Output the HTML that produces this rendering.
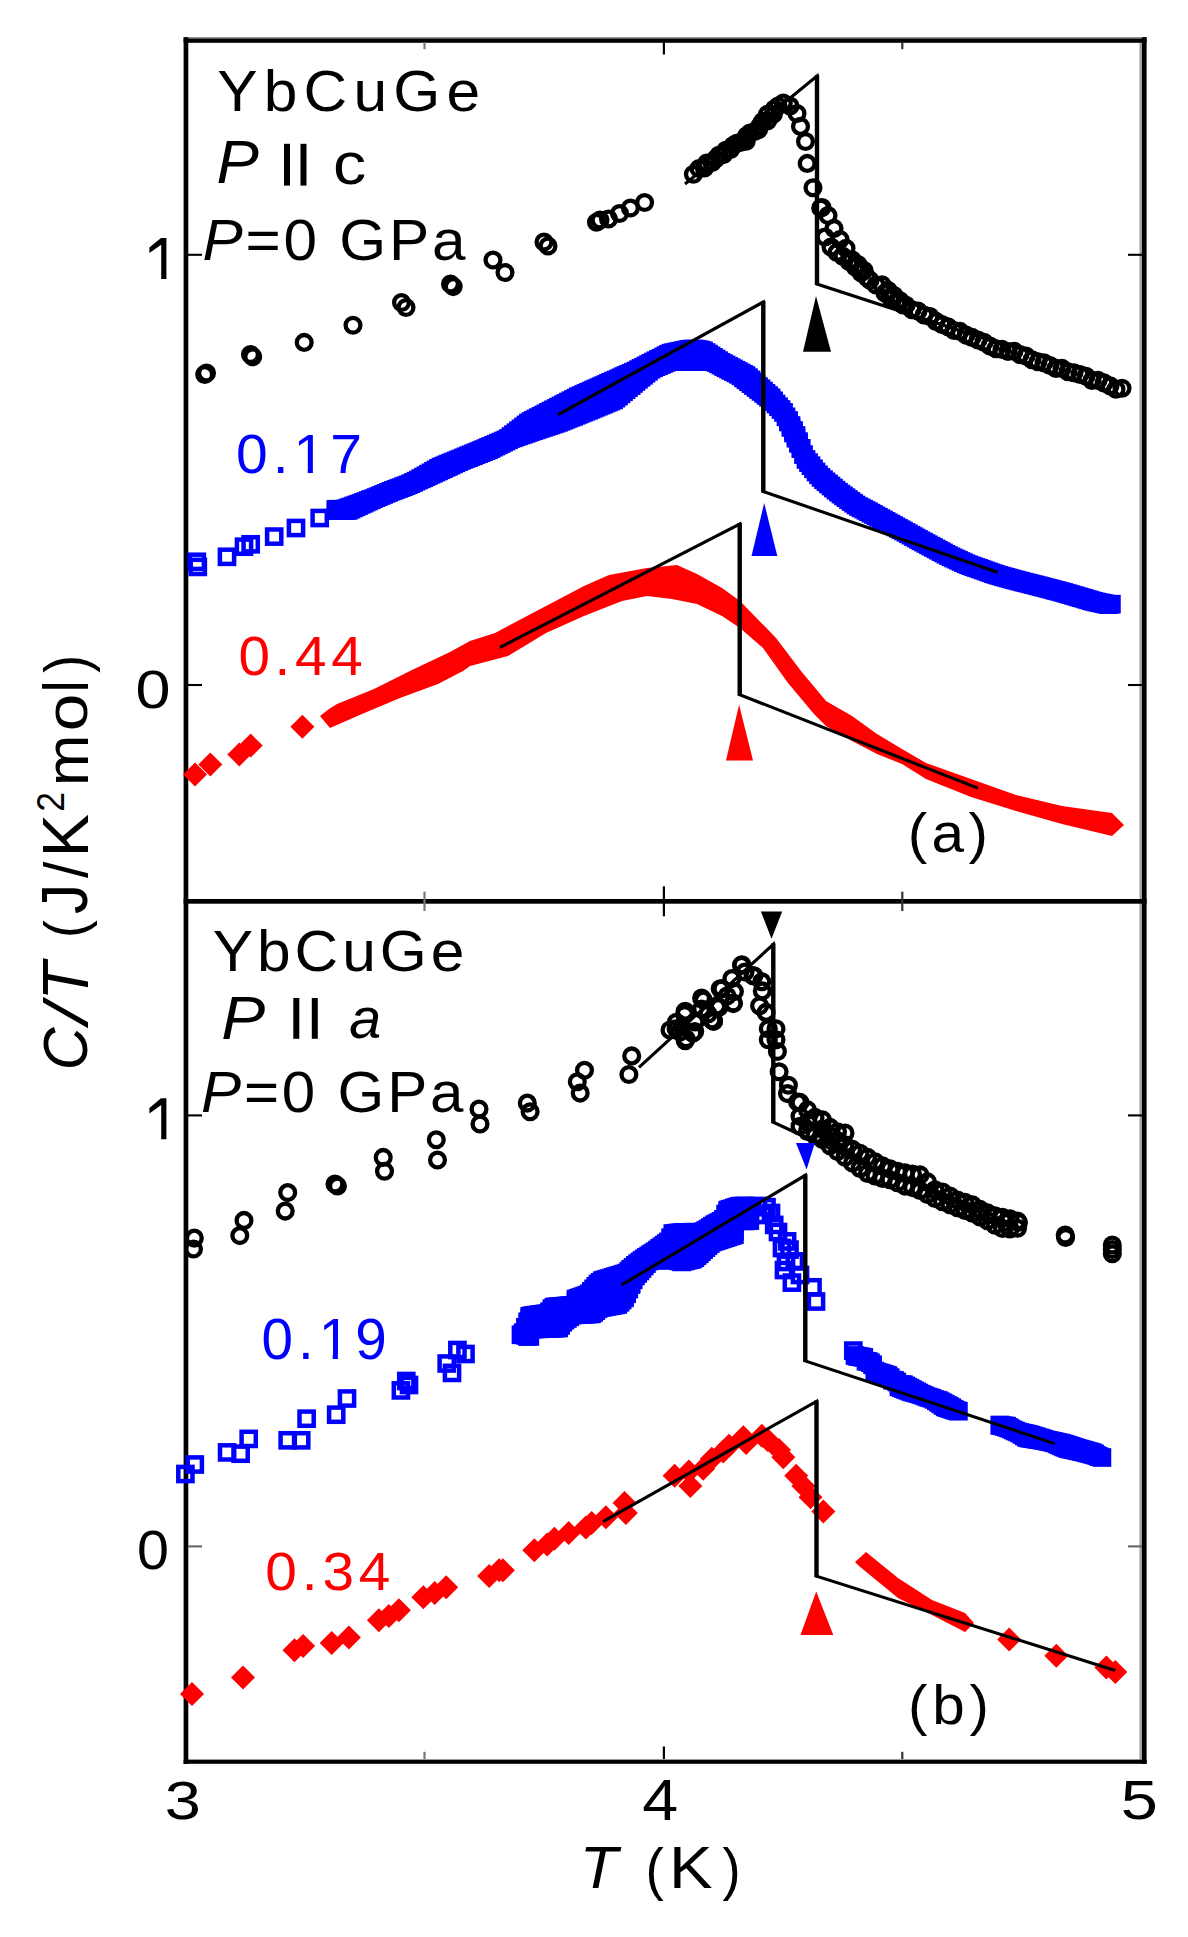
<!DOCTYPE html>
<html><head><meta charset="utf-8"><style>
html,body{margin:0;padding:0;background:#fff;}
svg{display:block;}
text{font-family:"Liberation Sans",sans-serif;}
</style></head><body>
<svg width="1188" height="1937" viewBox="0 0 1188 1937">
<rect x="1139.5" y="42.8" width="2.6" height="1716.8" fill="#a0a0a0"/>
<rect x="183.6" y="37.2" width="963" height="1.5" fill="#777"/>
<rect x="183.6" y="38.6" width="963" height="4.2" fill="#000"/>
<rect x="183.6" y="37.2" width="4.7" height="1726.6" fill="#000"/>
<rect x="1142" y="37.2" width="4.6" height="1726.6" fill="#000"/>
<rect x="183.6" y="1759.6" width="963" height="4.2" fill="#000"/>
<rect x="183.6" y="899" width="963" height="4.7" fill="#000"/>
<line x1="424.5" y1="42" x2="424.5" y2="49.2" stroke="#777" stroke-width="2.2"/>
<line x1="424.5" y1="891.5999999999999" x2="424.5" y2="911.0" stroke="#777" stroke-width="2.2"/>
<line x1="424.5" y1="1751.8" x2="424.5" y2="1759" stroke="#777" stroke-width="2.2"/>
<line x1="663.9" y1="42" x2="663.9" y2="54.5" stroke="#000" stroke-width="2.2"/>
<line x1="663.9" y1="886.3" x2="663.9" y2="916.3" stroke="#000" stroke-width="2.2"/>
<line x1="663.9" y1="1746.5" x2="663.9" y2="1759" stroke="#000" stroke-width="2.2"/>
<line x1="902.3" y1="42" x2="902.3" y2="49.2" stroke="#333" stroke-width="2.2"/>
<line x1="902.3" y1="891.5999999999999" x2="902.3" y2="911.0" stroke="#333" stroke-width="2.2"/>
<line x1="902.3" y1="1751.8" x2="902.3" y2="1759" stroke="#333" stroke-width="2.2"/>
<line x1="188" y1="254.8" x2="202" y2="254.8" stroke="#000" stroke-width="2.1"/>
<line x1="1128" y1="254.8" x2="1142" y2="254.8" stroke="#000" stroke-width="2.1"/>
<line x1="188" y1="685" x2="202" y2="685" stroke="#000" stroke-width="2.1"/>
<line x1="1128" y1="685" x2="1142" y2="685" stroke="#000" stroke-width="2.1"/>
<line x1="188" y1="1115.4" x2="202" y2="1115.4" stroke="#000" stroke-width="2.1"/>
<line x1="1128" y1="1115.4" x2="1142" y2="1115.4" stroke="#000" stroke-width="2.1"/>
<line x1="188" y1="1546.4" x2="202" y2="1546.4" stroke="#666" stroke-width="2.1"/>
<line x1="1128" y1="1546.4" x2="1142" y2="1546.4" stroke="#666" stroke-width="2.1"/>
<text transform="translate(217.19,110.53) scale(1.0432,0.9744)" style="font-size:58px;fill:#000;letter-spacing:5.923px">YbCuGe</text>
<text transform="translate(216.41,183.2) scale(1.0944,1.045)" style="font-size:58px;fill:#000"><tspan style="font-style:italic">P</tspan></text>
<text transform="translate(332.91,184.09) scale(1.144,1.0062)" style="font-size:58px;fill:#000">c</text>
<text transform="translate(202.4,259.53) scale(1.0396,0.9738)" style="font-size:58px;fill:#000;letter-spacing:2.708px"><tspan style="font-style:italic">P</tspan>=0 GPa</text>
<text transform="translate(212.8,970.53) scale(1.0425,0.9744)" style="font-size:58px;fill:#000;letter-spacing:3.769px">YbCuGe</text>
<text transform="translate(221.33,1038.8) scale(1.1361,1.0425)" style="font-size:58px;fill:#000"><tspan style="font-style:italic">P</tspan></text>
<text transform="translate(349.21,1038.0) scale(0.9897,1.0)" style="font-size:58px;fill:#000"><tspan style="font-style:italic">a</tspan></text>
<text transform="translate(201.01,1111.5) scale(1.036,1.0)" style="font-size:58px;fill:#000;letter-spacing:2.724px"><tspan style="font-style:italic">P</tspan>=0 GPa</text>
<text transform="translate(235.9,472.53) scale(1.0008,0.969)" style="font-size:57px;fill:#00f;letter-spacing:5.033px">0.17</text>
<text transform="translate(238.41,675.33) scale(0.9934,0.9667)" style="font-size:57px;fill:#f00;letter-spacing:4.733px">0.44</text>
<text transform="translate(261.51,1358.7) scale(0.9934,1.0)" style="font-size:57px;fill:#00f;letter-spacing:5.067px">0.19</text>
<text transform="translate(265.31,1589.57) scale(0.9967,0.9262)" style="font-size:57px;fill:#f00;letter-spacing:4.867px">0.34</text>
<text transform="translate(907.82,852.03) scale(1.0258,0.9889)" style="font-size:57px;fill:#000;letter-spacing:4.223px">(a)</text>
<text transform="translate(908.02,1723.52) scale(1.0244,0.9815)" style="font-size:57px;fill:#000;letter-spacing:4.66px">(b)</text>
<text transform="translate(135.59,707.87) scale(1.1036,0.931)" style="font-size:57px;fill:#000">0</text>
<text transform="translate(136.89,1568.53) scale(1.0071,0.969)" style="font-size:57px;fill:#000">0</text>
<text transform="translate(164.72,1819.26) scale(1.1407,0.9381)" style="font-size:57px;fill:#000">3</text>
<text transform="translate(642.17,1820.2) scale(1.1345,1.005)" style="font-size:57px;fill:#000">4</text>
<text transform="translate(1120.66,1819.24) scale(1.1704,0.961)" style="font-size:57px;fill:#000">5</text>
<text transform="translate(579.75,1887.6) scale(1.0909,1.04)" style="font-size:57px;fill:#000"><tspan style="font-style:italic">T</tspan></text>
<text transform="translate(645.52,1888.93) scale(0.96,1.0222)" style="font-size:57px;fill:#000">(</text>
<text transform="translate(669.07,1887.6) scale(1.1469,1.04)" style="font-size:57px;fill:#000">K</text>
<text transform="translate(722.54,1888.93) scale(0.96,1.0222)" style="font-size:57px;fill:#000">)</text>
<text transform="translate(87.28,1070.18) rotate(-90) scale(0.9595,1.025)" style="font-size:62px;fill:#000"><tspan style="font-style:italic">C</tspan></text>
<text transform="translate(86.82,1023.96) rotate(-90) scale(1.212,0.9778)" style="font-size:62px;fill:#000"><tspan style="font-style:italic">/</tspan></text>
<text transform="translate(88.2,1000.35) rotate(-90) scale(1.0083,1.0583)" style="font-size:62px;fill:#000"><tspan style="font-style:italic">T</tspan></text>
<text transform="translate(84.82,937.98) rotate(-90) scale(0.8687,0.9368)" style="font-size:62px;fill:#000">(</text>
<text transform="translate(87.16,913.97) rotate(-90) scale(0.9731,1.0372)" style="font-size:62px;fill:#000">J</text>
<text transform="translate(86.82,878.1) rotate(-90) scale(0.9471,0.9822)" style="font-size:62px;fill:#000">/</text>
<text transform="translate(87.8,857.23) rotate(-90) scale(1.0457,1.0524)" style="font-size:62px;fill:#000">K</text>
<text transform="translate(63.8,811.68) rotate(-90) scale(0.8889,0.9786)" style="font-size:40px;fill:#000">2</text>
<text transform="translate(88.0,785.97) rotate(-90) scale(0.9932,0.9939)" style="font-size:62px;fill:#000">m</text>
<text transform="translate(86.55,731.28) rotate(-90) scale(1.0931,0.95)" style="font-size:62px;fill:#000">o</text>
<text transform="translate(88.2,692.3) rotate(-90) scale(0.85,1.0205)" style="font-size:62px;fill:#000">l</text>
<text transform="translate(86.68,672.86) rotate(-90) scale(0.8625,0.986)" style="font-size:62px;fill:#000">)</text>
<polygon points="149.4,247.5 161,237.9 166.4,237.9 166.4,278.9 161.2,278.9 161.2,244.7 149.4,253.1" fill="#000"/>
<polygon points="149.4,1107.9 161,1098.3 166.4,1098.3 166.4,1139.3 161.2,1139.3 161.2,1105.1 149.4,1113.5" fill="#000"/>
<rect x="296.5" y="467.6" width="11.2" height="6.4" fill="#fff"/>
<rect x="312.9" y="467.6" width="10.1" height="6.4" fill="#fff"/>
<rect x="321.5" y="1353.6" width="11.2" height="6.4" fill="#fff"/>
<rect x="337.9" y="1353.6" width="10.6" height="6.4" fill="#fff"/>
<rect x="284" y="143.8" width="6.0" height="41.8" fill="#000"/>
<rect x="300.5" y="143.8" width="6.0" height="41.8" fill="#000"/>
<rect x="293.3" y="998" width="6.0" height="40.8" fill="#000"/>
<rect x="311.8" y="998" width="6.0" height="40.8" fill="#000"/>
<circle cx="204.7" cy="374.4" r="7.4" fill="none" stroke="#000" stroke-width="4.3"/>
<circle cx="206.5" cy="373.0" r="7.4" fill="none" stroke="#000" stroke-width="4.3"/>
<circle cx="252.7" cy="356.8" r="7.4" fill="none" stroke="#000" stroke-width="4.3"/>
<circle cx="250.5" cy="354.5" r="7.4" fill="none" stroke="#000" stroke-width="4.3"/>
<circle cx="304.2" cy="342.4" r="7.4" fill="none" stroke="#000" stroke-width="4.3"/>
<circle cx="353.0" cy="325.2" r="7.4" fill="none" stroke="#000" stroke-width="4.3"/>
<circle cx="401.5" cy="302.5" r="7.4" fill="none" stroke="#000" stroke-width="4.3"/>
<circle cx="406.0" cy="307.5" r="7.4" fill="none" stroke="#000" stroke-width="4.3"/>
<circle cx="453.2" cy="286.6" r="7.4" fill="none" stroke="#000" stroke-width="4.3"/>
<circle cx="450.5" cy="284.0" r="7.4" fill="none" stroke="#000" stroke-width="4.3"/>
<circle cx="493.0" cy="260.0" r="7.4" fill="none" stroke="#000" stroke-width="4.3"/>
<circle cx="505.0" cy="272.5" r="7.4" fill="none" stroke="#000" stroke-width="4.3"/>
<circle cx="544.0" cy="242.0" r="7.4" fill="none" stroke="#000" stroke-width="4.3"/>
<circle cx="548.0" cy="246.0" r="7.4" fill="none" stroke="#000" stroke-width="4.3"/>
<circle cx="596.5" cy="222.2" r="7.4" fill="none" stroke="#000" stroke-width="4.3"/>
<circle cx="600.0" cy="220.0" r="7.4" fill="none" stroke="#000" stroke-width="4.3"/>
<circle cx="608.5" cy="219.0" r="7.4" fill="none" stroke="#000" stroke-width="4.3"/>
<circle cx="619.5" cy="213.5" r="7.4" fill="none" stroke="#000" stroke-width="4.3"/>
<circle cx="630.4" cy="208.0" r="7.4" fill="none" stroke="#000" stroke-width="4.3"/>
<circle cx="644.6" cy="202.5" r="7.4" fill="none" stroke="#000" stroke-width="4.3"/>
<circle cx="693.4" cy="174.3" r="7.4" fill="none" stroke="#000" stroke-width="4.3"/>
<circle cx="699.0" cy="168.5" r="7.4" fill="none" stroke="#000" stroke-width="4.3"/>
<circle cx="704.4" cy="168.0" r="7.4" fill="none" stroke="#000" stroke-width="4.3"/>
<circle cx="706.8" cy="163.0" r="7.4" fill="none" stroke="#000" stroke-width="4.3"/>
<circle cx="712.1" cy="162.4" r="7.4" fill="none" stroke="#000" stroke-width="4.3"/>
<circle cx="715.6" cy="159.0" r="7.4" fill="none" stroke="#000" stroke-width="4.3"/>
<circle cx="718.8" cy="155.2" r="7.4" fill="none" stroke="#000" stroke-width="4.3"/>
<circle cx="723.6" cy="154.6" r="7.4" fill="none" stroke="#000" stroke-width="4.3"/>
<circle cx="725.8" cy="150.2" r="7.4" fill="none" stroke="#000" stroke-width="4.3"/>
<circle cx="730.5" cy="149.4" r="7.4" fill="none" stroke="#000" stroke-width="4.3"/>
<circle cx="733.1" cy="145.5" r="7.4" fill="none" stroke="#000" stroke-width="4.3"/>
<circle cx="736.7" cy="143.2" r="7.4" fill="none" stroke="#000" stroke-width="4.3"/>
<circle cx="741.2" cy="142.1" r="7.4" fill="none" stroke="#000" stroke-width="4.3"/>
<circle cx="746.2" cy="141.2" r="7.4" fill="none" stroke="#000" stroke-width="4.3"/>
<circle cx="746.7" cy="135.7" r="7.4" fill="none" stroke="#000" stroke-width="4.3"/>
<circle cx="750.0" cy="133.0" r="7.4" fill="none" stroke="#000" stroke-width="4.3"/>
<circle cx="754.5" cy="131.5" r="7.4" fill="none" stroke="#000" stroke-width="4.3"/>
<circle cx="758.6" cy="129.6" r="7.4" fill="none" stroke="#000" stroke-width="4.3"/>
<circle cx="760.3" cy="125.3" r="7.4" fill="none" stroke="#000" stroke-width="4.3"/>
<circle cx="762.6" cy="121.6" r="7.4" fill="none" stroke="#000" stroke-width="4.3"/>
<circle cx="767.7" cy="120.7" r="7.4" fill="none" stroke="#000" stroke-width="4.3"/>
<circle cx="767.4" cy="114.4" r="7.4" fill="none" stroke="#000" stroke-width="4.3"/>
<circle cx="773.3" cy="114.3" r="7.4" fill="none" stroke="#000" stroke-width="4.3"/>
<circle cx="774.4" cy="109.1" r="7.4" fill="none" stroke="#000" stroke-width="4.3"/>
<circle cx="778.1" cy="106.0" r="7.4" fill="none" stroke="#000" stroke-width="4.3"/>
<circle cx="783.3" cy="103.1" r="7.4" fill="none" stroke="#000" stroke-width="4.3"/>
<circle cx="790.0" cy="106.0" r="7.4" fill="none" stroke="#000" stroke-width="4.3"/>
<circle cx="797.0" cy="113.5" r="7.4" fill="none" stroke="#000" stroke-width="4.3"/>
<circle cx="800.5" cy="126.4" r="7.4" fill="none" stroke="#000" stroke-width="4.3"/>
<circle cx="805.5" cy="141.5" r="7.4" fill="none" stroke="#000" stroke-width="4.3"/>
<circle cx="807.2" cy="163.4" r="7.4" fill="none" stroke="#000" stroke-width="4.3"/>
<circle cx="813.0" cy="187.8" r="7.4" fill="none" stroke="#000" stroke-width="4.3"/>
<circle cx="820.7" cy="208.0" r="7.4" fill="none" stroke="#000" stroke-width="4.3"/>
<circle cx="822.0" cy="207.5" r="7.4" fill="none" stroke="#000" stroke-width="4.3"/>
<circle cx="825.0" cy="237.0" r="7.4" fill="none" stroke="#000" stroke-width="4.3"/>
<circle cx="828.0" cy="215.6" r="7.4" fill="none" stroke="#000" stroke-width="4.3"/>
<circle cx="831.0" cy="247.0" r="7.4" fill="none" stroke="#000" stroke-width="4.3"/>
<circle cx="834.0" cy="228.4" r="7.4" fill="none" stroke="#000" stroke-width="4.3"/>
<circle cx="837.0" cy="252.6" r="7.4" fill="none" stroke="#000" stroke-width="4.3"/>
<circle cx="840.0" cy="239.5" r="7.4" fill="none" stroke="#000" stroke-width="4.3"/>
<circle cx="843.0" cy="256.4" r="7.4" fill="none" stroke="#000" stroke-width="4.3"/>
<circle cx="846.0" cy="248.3" r="7.4" fill="none" stroke="#000" stroke-width="4.3"/>
<circle cx="849.0" cy="261.4" r="7.4" fill="none" stroke="#000" stroke-width="4.3"/>
<circle cx="852.0" cy="259.8" r="7.4" fill="none" stroke="#000" stroke-width="4.3"/>
<circle cx="855.0" cy="266.7" r="7.4" fill="none" stroke="#000" stroke-width="4.3"/>
<circle cx="858.0" cy="264.6" r="7.4" fill="none" stroke="#000" stroke-width="4.3"/>
<circle cx="861.0" cy="272.7" r="7.4" fill="none" stroke="#000" stroke-width="4.3"/>
<circle cx="864.0" cy="270.6" r="7.4" fill="none" stroke="#000" stroke-width="4.3"/>
<circle cx="867.0" cy="277.4" r="7.4" fill="none" stroke="#000" stroke-width="4.3"/>
<circle cx="870.0" cy="280.2" r="7.4" fill="none" stroke="#000" stroke-width="4.3"/>
<circle cx="876.0" cy="285.0" r="7.4" fill="none" stroke="#000" stroke-width="4.3"/>
<circle cx="882.0" cy="284.7" r="7.4" fill="none" stroke="#000" stroke-width="4.3"/>
<circle cx="885.0" cy="293.1" r="7.4" fill="none" stroke="#000" stroke-width="4.3"/>
<circle cx="888.0" cy="290.3" r="7.4" fill="none" stroke="#000" stroke-width="4.3"/>
<circle cx="891.0" cy="298.7" r="7.4" fill="none" stroke="#000" stroke-width="4.3"/>
<circle cx="894.0" cy="295.6" r="7.4" fill="none" stroke="#000" stroke-width="4.3"/>
<circle cx="897.0" cy="301.6" r="7.4" fill="none" stroke="#000" stroke-width="4.3"/>
<circle cx="900.0" cy="300.8" r="7.4" fill="none" stroke="#000" stroke-width="4.3"/>
<circle cx="903.0" cy="304.9" r="7.4" fill="none" stroke="#000" stroke-width="4.3"/>
<circle cx="906.0" cy="305.3" r="7.4" fill="none" stroke="#000" stroke-width="4.3"/>
<circle cx="912.0" cy="309.8" r="7.4" fill="none" stroke="#000" stroke-width="4.3"/>
<circle cx="918.0" cy="311.1" r="7.4" fill="none" stroke="#000" stroke-width="4.3"/>
<circle cx="924.0" cy="315.0" r="7.4" fill="none" stroke="#000" stroke-width="4.3"/>
<circle cx="930.0" cy="316.6" r="7.4" fill="none" stroke="#000" stroke-width="4.3"/>
<circle cx="936.0" cy="321.4" r="7.4" fill="none" stroke="#000" stroke-width="4.3"/>
<circle cx="942.0" cy="324.5" r="7.4" fill="none" stroke="#000" stroke-width="4.3"/>
<circle cx="948.0" cy="326.8" r="7.4" fill="none" stroke="#000" stroke-width="4.3"/>
<circle cx="954.0" cy="330.5" r="7.4" fill="none" stroke="#000" stroke-width="4.3"/>
<circle cx="960.0" cy="331.4" r="7.4" fill="none" stroke="#000" stroke-width="4.3"/>
<circle cx="966.0" cy="335.1" r="7.4" fill="none" stroke="#000" stroke-width="4.3"/>
<circle cx="972.0" cy="337.4" r="7.4" fill="none" stroke="#000" stroke-width="4.3"/>
<circle cx="978.0" cy="340.0" r="7.4" fill="none" stroke="#000" stroke-width="4.3"/>
<circle cx="984.0" cy="342.2" r="7.4" fill="none" stroke="#000" stroke-width="4.3"/>
<circle cx="990.0" cy="346.0" r="7.4" fill="none" stroke="#000" stroke-width="4.3"/>
<circle cx="996.0" cy="348.8" r="7.4" fill="none" stroke="#000" stroke-width="4.3"/>
<circle cx="1002.0" cy="349.4" r="7.4" fill="none" stroke="#000" stroke-width="4.3"/>
<circle cx="1008.0" cy="351.5" r="7.4" fill="none" stroke="#000" stroke-width="4.3"/>
<circle cx="1014.0" cy="351.2" r="7.4" fill="none" stroke="#000" stroke-width="4.3"/>
<circle cx="1020.0" cy="354.6" r="7.4" fill="none" stroke="#000" stroke-width="4.3"/>
<circle cx="1026.0" cy="356.1" r="7.4" fill="none" stroke="#000" stroke-width="4.3"/>
<circle cx="1032.0" cy="359.7" r="7.4" fill="none" stroke="#000" stroke-width="4.3"/>
<circle cx="1038.0" cy="361.7" r="7.4" fill="none" stroke="#000" stroke-width="4.3"/>
<circle cx="1044.0" cy="362.7" r="7.4" fill="none" stroke="#000" stroke-width="4.3"/>
<circle cx="1050.0" cy="365.5" r="7.4" fill="none" stroke="#000" stroke-width="4.3"/>
<circle cx="1056.0" cy="368.4" r="7.4" fill="none" stroke="#000" stroke-width="4.3"/>
<circle cx="1062.0" cy="368.4" r="7.4" fill="none" stroke="#000" stroke-width="4.3"/>
<circle cx="1068.0" cy="371.7" r="7.4" fill="none" stroke="#000" stroke-width="4.3"/>
<circle cx="1074.0" cy="372.7" r="7.4" fill="none" stroke="#000" stroke-width="4.3"/>
<circle cx="1080.0" cy="374.5" r="7.4" fill="none" stroke="#000" stroke-width="4.3"/>
<circle cx="1086.0" cy="376.3" r="7.4" fill="none" stroke="#000" stroke-width="4.3"/>
<circle cx="1092.0" cy="380.4" r="7.4" fill="none" stroke="#000" stroke-width="4.3"/>
<circle cx="1098.0" cy="380.4" r="7.4" fill="none" stroke="#000" stroke-width="4.3"/>
<circle cx="1104.0" cy="382.9" r="7.4" fill="none" stroke="#000" stroke-width="4.3"/>
<circle cx="1110.0" cy="385.7" r="7.4" fill="none" stroke="#000" stroke-width="4.3"/>
<circle cx="1116.0" cy="389.2" r="7.4" fill="none" stroke="#000" stroke-width="4.3"/>
<circle cx="1122.0" cy="388.2" r="7.4" fill="none" stroke="#000" stroke-width="4.3"/>
<rect x="190.7" y="559.8" width="14.2" height="14.2" fill="none" stroke="#00f" stroke-width="4.5"/>
<rect x="189.7" y="554.7" width="14.2" height="14.2" fill="none" stroke="#00f" stroke-width="4.5"/>
<rect x="219.9" y="549.7" width="14.2" height="14.2" fill="none" stroke="#00f" stroke-width="4.5"/>
<rect x="243.6" y="537.2" width="14.2" height="14.2" fill="none" stroke="#00f" stroke-width="4.5"/>
<rect x="236.9" y="539.6" width="14.2" height="14.2" fill="none" stroke="#00f" stroke-width="4.5"/>
<rect x="267.1" y="529.5" width="14.2" height="14.2" fill="none" stroke="#00f" stroke-width="4.5"/>
<rect x="288.9" y="520.9" width="14.2" height="14.2" fill="none" stroke="#00f" stroke-width="4.5"/>
<rect x="312.6" y="510.9" width="14.2" height="14.2" fill="none" stroke="#00f" stroke-width="4.5"/>
<rect x="328.9" y="502.2" width="14.2" height="14.2" fill="none" stroke="#00f" stroke-width="4.5"/>
<rect x="328.9" y="503.5" width="14.2" height="14.2" fill="none" stroke="#00f" stroke-width="4.5"/>
<rect x="331.4" y="502.2" width="14.2" height="14.2" fill="none" stroke="#00f" stroke-width="4.5"/>
<rect x="331.4" y="503.5" width="14.2" height="14.2" fill="none" stroke="#00f" stroke-width="4.5"/>
<rect x="333.9" y="502.2" width="14.2" height="14.2" fill="none" stroke="#00f" stroke-width="4.5"/>
<rect x="333.9" y="503.5" width="14.2" height="14.2" fill="none" stroke="#00f" stroke-width="4.5"/>
<rect x="336.4" y="502.2" width="14.2" height="14.2" fill="none" stroke="#00f" stroke-width="4.5"/>
<rect x="336.4" y="503.5" width="14.2" height="14.2" fill="none" stroke="#00f" stroke-width="4.5"/>
<rect x="338.9" y="501.7" width="14.2" height="14.2" fill="none" stroke="#00f" stroke-width="4.5"/>
<rect x="338.9" y="503.5" width="14.2" height="14.2" fill="none" stroke="#00f" stroke-width="4.5"/>
<rect x="341.4" y="500.7" width="14.2" height="14.2" fill="none" stroke="#00f" stroke-width="4.5"/>
<rect x="341.4" y="503.2" width="14.2" height="14.2" fill="none" stroke="#00f" stroke-width="4.5"/>
<rect x="343.9" y="499.8" width="14.2" height="14.2" fill="none" stroke="#00f" stroke-width="4.5"/>
<rect x="343.9" y="502.0" width="14.2" height="14.2" fill="none" stroke="#00f" stroke-width="4.5"/>
<rect x="346.4" y="498.9" width="14.2" height="14.2" fill="none" stroke="#00f" stroke-width="4.5"/>
<rect x="346.4" y="500.8" width="14.2" height="14.2" fill="none" stroke="#00f" stroke-width="4.5"/>
<rect x="348.9" y="498.0" width="14.2" height="14.2" fill="none" stroke="#00f" stroke-width="4.5"/>
<rect x="348.9" y="499.7" width="14.2" height="14.2" fill="none" stroke="#00f" stroke-width="4.5"/>
<rect x="351.4" y="497.1" width="14.2" height="14.2" fill="none" stroke="#00f" stroke-width="4.5"/>
<rect x="351.4" y="498.5" width="14.2" height="14.2" fill="none" stroke="#00f" stroke-width="4.5"/>
<rect x="353.9" y="496.2" width="14.2" height="14.2" fill="none" stroke="#00f" stroke-width="4.5"/>
<rect x="353.9" y="497.3" width="14.2" height="14.2" fill="none" stroke="#00f" stroke-width="4.5"/>
<rect x="356.4" y="495.3" width="14.2" height="14.2" fill="none" stroke="#00f" stroke-width="4.5"/>
<rect x="356.4" y="496.2" width="14.2" height="14.2" fill="none" stroke="#00f" stroke-width="4.5"/>
<rect x="358.9" y="494.4" width="14.2" height="14.2" fill="none" stroke="#00f" stroke-width="4.5"/>
<rect x="358.9" y="495.0" width="14.2" height="14.2" fill="none" stroke="#00f" stroke-width="4.5"/>
<rect x="361.4" y="493.4" width="14.2" height="14.2" fill="none" stroke="#00f" stroke-width="4.5"/>
<rect x="361.4" y="493.9" width="14.2" height="14.2" fill="none" stroke="#00f" stroke-width="4.5"/>
<rect x="363.9" y="492.5" width="14.2" height="14.2" fill="none" stroke="#00f" stroke-width="4.5"/>
<rect x="363.9" y="492.7" width="14.2" height="14.2" fill="none" stroke="#00f" stroke-width="4.5"/>
<rect x="366.4" y="491.6" width="14.2" height="14.2" fill="none" stroke="#00f" stroke-width="4.5"/>
<rect x="368.9" y="490.5" width="14.2" height="14.2" fill="none" stroke="#00f" stroke-width="4.5"/>
<rect x="371.4" y="489.5" width="14.2" height="14.2" fill="none" stroke="#00f" stroke-width="4.5"/>
<rect x="373.9" y="488.4" width="14.2" height="14.2" fill="none" stroke="#00f" stroke-width="4.5"/>
<rect x="376.4" y="487.4" width="14.2" height="14.2" fill="none" stroke="#00f" stroke-width="4.5"/>
<rect x="378.9" y="486.3" width="14.2" height="14.2" fill="none" stroke="#00f" stroke-width="4.5"/>
<rect x="381.4" y="485.3" width="14.2" height="14.2" fill="none" stroke="#00f" stroke-width="4.5"/>
<rect x="383.9" y="484.2" width="14.2" height="14.2" fill="none" stroke="#00f" stroke-width="4.5"/>
<rect x="386.4" y="483.3" width="14.2" height="14.2" fill="none" stroke="#00f" stroke-width="4.5"/>
<rect x="388.9" y="482.3" width="14.2" height="14.2" fill="none" stroke="#00f" stroke-width="4.5"/>
<rect x="391.4" y="481.4" width="14.2" height="14.2" fill="none" stroke="#00f" stroke-width="4.5"/>
<rect x="393.9" y="480.5" width="14.2" height="14.2" fill="none" stroke="#00f" stroke-width="4.5"/>
<rect x="396.4" y="479.5" width="14.2" height="14.2" fill="none" stroke="#00f" stroke-width="4.5"/>
<rect x="398.9" y="478.6" width="14.2" height="14.2" fill="none" stroke="#00f" stroke-width="4.5"/>
<rect x="401.4" y="477.6" width="14.2" height="14.2" fill="none" stroke="#00f" stroke-width="4.5"/>
<rect x="403.9" y="476.5" width="14.2" height="14.2" fill="none" stroke="#00f" stroke-width="4.5"/>
<rect x="406.4" y="475.3" width="14.2" height="14.2" fill="none" stroke="#00f" stroke-width="4.5"/>
<rect x="408.9" y="474.1" width="14.2" height="14.2" fill="none" stroke="#00f" stroke-width="4.5"/>
<rect x="411.4" y="472.9" width="14.2" height="14.2" fill="none" stroke="#00f" stroke-width="4.5"/>
<rect x="413.9" y="471.5" width="14.2" height="14.2" fill="none" stroke="#00f" stroke-width="4.5"/>
<rect x="413.9" y="471.8" width="14.2" height="14.2" fill="none" stroke="#00f" stroke-width="4.5"/>
<rect x="416.4" y="470.0" width="14.2" height="14.2" fill="none" stroke="#00f" stroke-width="4.5"/>
<rect x="416.4" y="470.7" width="14.2" height="14.2" fill="none" stroke="#00f" stroke-width="4.5"/>
<rect x="418.9" y="468.6" width="14.2" height="14.2" fill="none" stroke="#00f" stroke-width="4.5"/>
<rect x="418.9" y="469.5" width="14.2" height="14.2" fill="none" stroke="#00f" stroke-width="4.5"/>
<rect x="421.4" y="467.1" width="14.2" height="14.2" fill="none" stroke="#00f" stroke-width="4.5"/>
<rect x="421.4" y="468.4" width="14.2" height="14.2" fill="none" stroke="#00f" stroke-width="4.5"/>
<rect x="423.9" y="465.7" width="14.2" height="14.2" fill="none" stroke="#00f" stroke-width="4.5"/>
<rect x="423.9" y="467.2" width="14.2" height="14.2" fill="none" stroke="#00f" stroke-width="4.5"/>
<rect x="426.4" y="464.2" width="14.2" height="14.2" fill="none" stroke="#00f" stroke-width="4.5"/>
<rect x="426.4" y="466.1" width="14.2" height="14.2" fill="none" stroke="#00f" stroke-width="4.5"/>
<rect x="428.9" y="462.8" width="14.2" height="14.2" fill="none" stroke="#00f" stroke-width="4.5"/>
<rect x="428.9" y="464.9" width="14.2" height="14.2" fill="none" stroke="#00f" stroke-width="4.5"/>
<rect x="431.4" y="461.3" width="14.2" height="14.2" fill="none" stroke="#00f" stroke-width="4.5"/>
<rect x="431.4" y="463.8" width="14.2" height="14.2" fill="none" stroke="#00f" stroke-width="4.5"/>
<rect x="433.9" y="460.0" width="14.2" height="14.2" fill="none" stroke="#00f" stroke-width="4.5"/>
<rect x="433.9" y="462.6" width="14.2" height="14.2" fill="none" stroke="#00f" stroke-width="4.5"/>
<rect x="436.4" y="459.0" width="14.2" height="14.2" fill="none" stroke="#00f" stroke-width="4.5"/>
<rect x="436.4" y="461.5" width="14.2" height="14.2" fill="none" stroke="#00f" stroke-width="4.5"/>
<rect x="438.9" y="457.9" width="14.2" height="14.2" fill="none" stroke="#00f" stroke-width="4.5"/>
<rect x="438.9" y="460.3" width="14.2" height="14.2" fill="none" stroke="#00f" stroke-width="4.5"/>
<rect x="441.4" y="456.9" width="14.2" height="14.2" fill="none" stroke="#00f" stroke-width="4.5"/>
<rect x="441.4" y="459.2" width="14.2" height="14.2" fill="none" stroke="#00f" stroke-width="4.5"/>
<rect x="443.9" y="455.9" width="14.2" height="14.2" fill="none" stroke="#00f" stroke-width="4.5"/>
<rect x="443.9" y="458.0" width="14.2" height="14.2" fill="none" stroke="#00f" stroke-width="4.5"/>
<rect x="446.4" y="454.9" width="14.2" height="14.2" fill="none" stroke="#00f" stroke-width="4.5"/>
<rect x="446.4" y="456.8" width="14.2" height="14.2" fill="none" stroke="#00f" stroke-width="4.5"/>
<rect x="448.9" y="453.8" width="14.2" height="14.2" fill="none" stroke="#00f" stroke-width="4.5"/>
<rect x="448.9" y="455.7" width="14.2" height="14.2" fill="none" stroke="#00f" stroke-width="4.5"/>
<rect x="451.4" y="452.8" width="14.2" height="14.2" fill="none" stroke="#00f" stroke-width="4.5"/>
<rect x="451.4" y="454.5" width="14.2" height="14.2" fill="none" stroke="#00f" stroke-width="4.5"/>
<rect x="453.9" y="451.8" width="14.2" height="14.2" fill="none" stroke="#00f" stroke-width="4.5"/>
<rect x="453.9" y="453.4" width="14.2" height="14.2" fill="none" stroke="#00f" stroke-width="4.5"/>
<rect x="456.4" y="450.8" width="14.2" height="14.2" fill="none" stroke="#00f" stroke-width="4.5"/>
<rect x="456.4" y="452.4" width="14.2" height="14.2" fill="none" stroke="#00f" stroke-width="4.5"/>
<rect x="458.9" y="449.7" width="14.2" height="14.2" fill="none" stroke="#00f" stroke-width="4.5"/>
<rect x="458.9" y="451.4" width="14.2" height="14.2" fill="none" stroke="#00f" stroke-width="4.5"/>
<rect x="461.4" y="448.7" width="14.2" height="14.2" fill="none" stroke="#00f" stroke-width="4.5"/>
<rect x="461.4" y="450.5" width="14.2" height="14.2" fill="none" stroke="#00f" stroke-width="4.5"/>
<rect x="463.9" y="447.7" width="14.2" height="14.2" fill="none" stroke="#00f" stroke-width="4.5"/>
<rect x="463.9" y="449.5" width="14.2" height="14.2" fill="none" stroke="#00f" stroke-width="4.5"/>
<rect x="466.4" y="446.7" width="14.2" height="14.2" fill="none" stroke="#00f" stroke-width="4.5"/>
<rect x="466.4" y="448.5" width="14.2" height="14.2" fill="none" stroke="#00f" stroke-width="4.5"/>
<rect x="468.9" y="445.6" width="14.2" height="14.2" fill="none" stroke="#00f" stroke-width="4.5"/>
<rect x="468.9" y="447.5" width="14.2" height="14.2" fill="none" stroke="#00f" stroke-width="4.5"/>
<rect x="471.4" y="444.6" width="14.2" height="14.2" fill="none" stroke="#00f" stroke-width="4.5"/>
<rect x="471.4" y="446.5" width="14.2" height="14.2" fill="none" stroke="#00f" stroke-width="4.5"/>
<rect x="473.9" y="443.5" width="14.2" height="14.2" fill="none" stroke="#00f" stroke-width="4.5"/>
<rect x="473.9" y="445.6" width="14.2" height="14.2" fill="none" stroke="#00f" stroke-width="4.5"/>
<rect x="476.4" y="442.5" width="14.2" height="14.2" fill="none" stroke="#00f" stroke-width="4.5"/>
<rect x="476.4" y="444.6" width="14.2" height="14.2" fill="none" stroke="#00f" stroke-width="4.5"/>
<rect x="478.9" y="441.4" width="14.2" height="14.2" fill="none" stroke="#00f" stroke-width="4.5"/>
<rect x="478.9" y="443.6" width="14.2" height="14.2" fill="none" stroke="#00f" stroke-width="4.5"/>
<rect x="481.4" y="440.3" width="14.2" height="14.2" fill="none" stroke="#00f" stroke-width="4.5"/>
<rect x="481.4" y="442.6" width="14.2" height="14.2" fill="none" stroke="#00f" stroke-width="4.5"/>
<rect x="483.9" y="439.3" width="14.2" height="14.2" fill="none" stroke="#00f" stroke-width="4.5"/>
<rect x="483.9" y="441.4" width="14.2" height="14.2" fill="none" stroke="#00f" stroke-width="4.5"/>
<rect x="486.4" y="438.2" width="14.2" height="14.2" fill="none" stroke="#00f" stroke-width="4.5"/>
<rect x="486.4" y="440.1" width="14.2" height="14.2" fill="none" stroke="#00f" stroke-width="4.5"/>
<rect x="488.9" y="437.1" width="14.2" height="14.2" fill="none" stroke="#00f" stroke-width="4.5"/>
<rect x="488.9" y="438.9" width="14.2" height="14.2" fill="none" stroke="#00f" stroke-width="4.5"/>
<rect x="491.4" y="436.0" width="14.2" height="14.2" fill="none" stroke="#00f" stroke-width="4.5"/>
<rect x="491.4" y="437.6" width="14.2" height="14.2" fill="none" stroke="#00f" stroke-width="4.5"/>
<rect x="493.9" y="435.0" width="14.2" height="14.2" fill="none" stroke="#00f" stroke-width="4.5"/>
<rect x="493.9" y="436.4" width="14.2" height="14.2" fill="none" stroke="#00f" stroke-width="4.5"/>
<rect x="496.4" y="433.9" width="14.2" height="14.2" fill="none" stroke="#00f" stroke-width="4.5"/>
<rect x="496.4" y="435.1" width="14.2" height="14.2" fill="none" stroke="#00f" stroke-width="4.5"/>
<rect x="498.9" y="432.8" width="14.2" height="14.2" fill="none" stroke="#00f" stroke-width="4.5"/>
<rect x="498.9" y="433.9" width="14.2" height="14.2" fill="none" stroke="#00f" stroke-width="4.5"/>
<rect x="501.4" y="431.4" width="14.2" height="14.2" fill="none" stroke="#00f" stroke-width="4.5"/>
<rect x="501.4" y="432.6" width="14.2" height="14.2" fill="none" stroke="#00f" stroke-width="4.5"/>
<rect x="503.9" y="429.4" width="14.2" height="14.2" fill="none" stroke="#00f" stroke-width="4.5"/>
<rect x="503.9" y="431.4" width="14.2" height="14.2" fill="none" stroke="#00f" stroke-width="4.5"/>
<rect x="506.4" y="427.5" width="14.2" height="14.2" fill="none" stroke="#00f" stroke-width="4.5"/>
<rect x="506.4" y="430.6" width="14.2" height="14.2" fill="none" stroke="#00f" stroke-width="4.5"/>
<rect x="508.9" y="425.6" width="14.2" height="14.2" fill="none" stroke="#00f" stroke-width="4.5"/>
<rect x="508.9" y="429.7" width="14.2" height="14.2" fill="none" stroke="#00f" stroke-width="4.5"/>
<rect x="511.4" y="423.6" width="14.2" height="14.2" fill="none" stroke="#00f" stroke-width="4.5"/>
<rect x="511.4" y="428.8" width="14.2" height="14.2" fill="none" stroke="#00f" stroke-width="4.5"/>
<rect x="513.9" y="421.7" width="14.2" height="14.2" fill="none" stroke="#00f" stroke-width="4.5"/>
<rect x="513.9" y="427.9" width="14.2" height="14.2" fill="none" stroke="#00f" stroke-width="4.5"/>
<rect x="516.4" y="419.8" width="14.2" height="14.2" fill="none" stroke="#00f" stroke-width="4.5"/>
<rect x="516.4" y="427.1" width="14.2" height="14.2" fill="none" stroke="#00f" stroke-width="4.5"/>
<rect x="518.9" y="417.8" width="14.2" height="14.2" fill="none" stroke="#00f" stroke-width="4.5"/>
<rect x="518.9" y="426.2" width="14.2" height="14.2" fill="none" stroke="#00f" stroke-width="4.5"/>
<rect x="521.4" y="415.9" width="14.2" height="14.2" fill="none" stroke="#00f" stroke-width="4.5"/>
<rect x="521.4" y="417.1" width="14.2" height="14.2" fill="none" stroke="#00f" stroke-width="4.5"/>
<rect x="521.4" y="425.3" width="14.2" height="14.2" fill="none" stroke="#00f" stroke-width="4.5"/>
<rect x="523.9" y="414.4" width="14.2" height="14.2" fill="none" stroke="#00f" stroke-width="4.5"/>
<rect x="523.9" y="419.7" width="14.2" height="14.2" fill="none" stroke="#00f" stroke-width="4.5"/>
<rect x="523.9" y="424.4" width="14.2" height="14.2" fill="none" stroke="#00f" stroke-width="4.5"/>
<rect x="526.4" y="413.1" width="14.2" height="14.2" fill="none" stroke="#00f" stroke-width="4.5"/>
<rect x="526.4" y="421.8" width="14.2" height="14.2" fill="none" stroke="#00f" stroke-width="4.5"/>
<rect x="526.4" y="423.6" width="14.2" height="14.2" fill="none" stroke="#00f" stroke-width="4.5"/>
<rect x="528.9" y="411.8" width="14.2" height="14.2" fill="none" stroke="#00f" stroke-width="4.5"/>
<rect x="528.9" y="414.4" width="14.2" height="14.2" fill="none" stroke="#00f" stroke-width="4.5"/>
<rect x="528.9" y="422.8" width="14.2" height="14.2" fill="none" stroke="#00f" stroke-width="4.5"/>
<rect x="531.4" y="410.5" width="14.2" height="14.2" fill="none" stroke="#00f" stroke-width="4.5"/>
<rect x="531.4" y="412.0" width="14.2" height="14.2" fill="none" stroke="#00f" stroke-width="4.5"/>
<rect x="531.4" y="421.9" width="14.2" height="14.2" fill="none" stroke="#00f" stroke-width="4.5"/>
<rect x="533.9" y="409.2" width="14.2" height="14.2" fill="none" stroke="#00f" stroke-width="4.5"/>
<rect x="533.9" y="416.1" width="14.2" height="14.2" fill="none" stroke="#00f" stroke-width="4.5"/>
<rect x="533.9" y="421.1" width="14.2" height="14.2" fill="none" stroke="#00f" stroke-width="4.5"/>
<rect x="536.4" y="407.9" width="14.2" height="14.2" fill="none" stroke="#00f" stroke-width="4.5"/>
<rect x="536.4" y="414.1" width="14.2" height="14.2" fill="none" stroke="#00f" stroke-width="4.5"/>
<rect x="536.4" y="420.3" width="14.2" height="14.2" fill="none" stroke="#00f" stroke-width="4.5"/>
<rect x="538.9" y="406.6" width="14.2" height="14.2" fill="none" stroke="#00f" stroke-width="4.5"/>
<rect x="538.9" y="412.2" width="14.2" height="14.2" fill="none" stroke="#00f" stroke-width="4.5"/>
<rect x="538.9" y="419.4" width="14.2" height="14.2" fill="none" stroke="#00f" stroke-width="4.5"/>
<rect x="541.4" y="405.3" width="14.2" height="14.2" fill="none" stroke="#00f" stroke-width="4.5"/>
<rect x="541.4" y="407.6" width="14.2" height="14.2" fill="none" stroke="#00f" stroke-width="4.5"/>
<rect x="541.4" y="418.6" width="14.2" height="14.2" fill="none" stroke="#00f" stroke-width="4.5"/>
<rect x="543.9" y="404.0" width="14.2" height="14.2" fill="none" stroke="#00f" stroke-width="4.5"/>
<rect x="543.9" y="408.5" width="14.2" height="14.2" fill="none" stroke="#00f" stroke-width="4.5"/>
<rect x="543.9" y="417.8" width="14.2" height="14.2" fill="none" stroke="#00f" stroke-width="4.5"/>
<rect x="546.4" y="402.7" width="14.2" height="14.2" fill="none" stroke="#00f" stroke-width="4.5"/>
<rect x="546.4" y="404.2" width="14.2" height="14.2" fill="none" stroke="#00f" stroke-width="4.5"/>
<rect x="546.4" y="416.9" width="14.2" height="14.2" fill="none" stroke="#00f" stroke-width="4.5"/>
<rect x="548.9" y="401.4" width="14.2" height="14.2" fill="none" stroke="#00f" stroke-width="4.5"/>
<rect x="548.9" y="412.8" width="14.2" height="14.2" fill="none" stroke="#00f" stroke-width="4.5"/>
<rect x="548.9" y="416.1" width="14.2" height="14.2" fill="none" stroke="#00f" stroke-width="4.5"/>
<rect x="551.4" y="400.1" width="14.2" height="14.2" fill="none" stroke="#00f" stroke-width="4.5"/>
<rect x="551.4" y="413.9" width="14.2" height="14.2" fill="none" stroke="#00f" stroke-width="4.5"/>
<rect x="551.4" y="409.4" width="14.2" height="14.2" fill="none" stroke="#00f" stroke-width="4.5"/>
<rect x="551.4" y="415.2" width="14.2" height="14.2" fill="none" stroke="#00f" stroke-width="4.5"/>
<rect x="553.9" y="398.8" width="14.2" height="14.2" fill="none" stroke="#00f" stroke-width="4.5"/>
<rect x="553.9" y="405.8" width="14.2" height="14.2" fill="none" stroke="#00f" stroke-width="4.5"/>
<rect x="553.9" y="406.2" width="14.2" height="14.2" fill="none" stroke="#00f" stroke-width="4.5"/>
<rect x="553.9" y="414.2" width="14.2" height="14.2" fill="none" stroke="#00f" stroke-width="4.5"/>
<rect x="556.4" y="397.5" width="14.2" height="14.2" fill="none" stroke="#00f" stroke-width="4.5"/>
<rect x="556.4" y="412.3" width="14.2" height="14.2" fill="none" stroke="#00f" stroke-width="4.5"/>
<rect x="556.4" y="406.3" width="14.2" height="14.2" fill="none" stroke="#00f" stroke-width="4.5"/>
<rect x="556.4" y="413.2" width="14.2" height="14.2" fill="none" stroke="#00f" stroke-width="4.5"/>
<rect x="558.9" y="396.2" width="14.2" height="14.2" fill="none" stroke="#00f" stroke-width="4.5"/>
<rect x="558.9" y="398.1" width="14.2" height="14.2" fill="none" stroke="#00f" stroke-width="4.5"/>
<rect x="558.9" y="397.4" width="14.2" height="14.2" fill="none" stroke="#00f" stroke-width="4.5"/>
<rect x="558.9" y="412.2" width="14.2" height="14.2" fill="none" stroke="#00f" stroke-width="4.5"/>
<rect x="561.4" y="394.9" width="14.2" height="14.2" fill="none" stroke="#00f" stroke-width="4.5"/>
<rect x="561.4" y="407.7" width="14.2" height="14.2" fill="none" stroke="#00f" stroke-width="4.5"/>
<rect x="561.4" y="397.4" width="14.2" height="14.2" fill="none" stroke="#00f" stroke-width="4.5"/>
<rect x="561.4" y="411.2" width="14.2" height="14.2" fill="none" stroke="#00f" stroke-width="4.5"/>
<rect x="563.9" y="393.6" width="14.2" height="14.2" fill="none" stroke="#00f" stroke-width="4.5"/>
<rect x="563.9" y="408.2" width="14.2" height="14.2" fill="none" stroke="#00f" stroke-width="4.5"/>
<rect x="563.9" y="397.2" width="14.2" height="14.2" fill="none" stroke="#00f" stroke-width="4.5"/>
<rect x="563.9" y="410.2" width="14.2" height="14.2" fill="none" stroke="#00f" stroke-width="4.5"/>
<rect x="566.4" y="392.3" width="14.2" height="14.2" fill="none" stroke="#00f" stroke-width="4.5"/>
<rect x="566.4" y="409.0" width="14.2" height="14.2" fill="none" stroke="#00f" stroke-width="4.5"/>
<rect x="566.4" y="395.0" width="14.2" height="14.2" fill="none" stroke="#00f" stroke-width="4.5"/>
<rect x="566.4" y="409.2" width="14.2" height="14.2" fill="none" stroke="#00f" stroke-width="4.5"/>
<rect x="568.9" y="391.0" width="14.2" height="14.2" fill="none" stroke="#00f" stroke-width="4.5"/>
<rect x="568.9" y="394.4" width="14.2" height="14.2" fill="none" stroke="#00f" stroke-width="4.5"/>
<rect x="568.9" y="403.4" width="14.2" height="14.2" fill="none" stroke="#00f" stroke-width="4.5"/>
<rect x="568.9" y="408.2" width="14.2" height="14.2" fill="none" stroke="#00f" stroke-width="4.5"/>
<rect x="571.4" y="389.7" width="14.2" height="14.2" fill="none" stroke="#00f" stroke-width="4.5"/>
<rect x="571.4" y="390.0" width="14.2" height="14.2" fill="none" stroke="#00f" stroke-width="4.5"/>
<rect x="571.4" y="400.6" width="14.2" height="14.2" fill="none" stroke="#00f" stroke-width="4.5"/>
<rect x="571.4" y="407.2" width="14.2" height="14.2" fill="none" stroke="#00f" stroke-width="4.5"/>
<rect x="573.9" y="388.5" width="14.2" height="14.2" fill="none" stroke="#00f" stroke-width="4.5"/>
<rect x="573.9" y="402.4" width="14.2" height="14.2" fill="none" stroke="#00f" stroke-width="4.5"/>
<rect x="573.9" y="390.4" width="14.2" height="14.2" fill="none" stroke="#00f" stroke-width="4.5"/>
<rect x="573.9" y="406.2" width="14.2" height="14.2" fill="none" stroke="#00f" stroke-width="4.5"/>
<rect x="576.4" y="387.4" width="14.2" height="14.2" fill="none" stroke="#00f" stroke-width="4.5"/>
<rect x="576.4" y="392.2" width="14.2" height="14.2" fill="none" stroke="#00f" stroke-width="4.5"/>
<rect x="576.4" y="394.9" width="14.2" height="14.2" fill="none" stroke="#00f" stroke-width="4.5"/>
<rect x="576.4" y="405.2" width="14.2" height="14.2" fill="none" stroke="#00f" stroke-width="4.5"/>
<rect x="578.9" y="386.3" width="14.2" height="14.2" fill="none" stroke="#00f" stroke-width="4.5"/>
<rect x="578.9" y="389.0" width="14.2" height="14.2" fill="none" stroke="#00f" stroke-width="4.5"/>
<rect x="578.9" y="396.5" width="14.2" height="14.2" fill="none" stroke="#00f" stroke-width="4.5"/>
<rect x="578.9" y="404.2" width="14.2" height="14.2" fill="none" stroke="#00f" stroke-width="4.5"/>
<rect x="581.4" y="385.2" width="14.2" height="14.2" fill="none" stroke="#00f" stroke-width="4.5"/>
<rect x="581.4" y="397.5" width="14.2" height="14.2" fill="none" stroke="#00f" stroke-width="4.5"/>
<rect x="581.4" y="386.5" width="14.2" height="14.2" fill="none" stroke="#00f" stroke-width="4.5"/>
<rect x="581.4" y="403.2" width="14.2" height="14.2" fill="none" stroke="#00f" stroke-width="4.5"/>
<rect x="583.9" y="384.0" width="14.2" height="14.2" fill="none" stroke="#00f" stroke-width="4.5"/>
<rect x="583.9" y="385.6" width="14.2" height="14.2" fill="none" stroke="#00f" stroke-width="4.5"/>
<rect x="583.9" y="385.3" width="14.2" height="14.2" fill="none" stroke="#00f" stroke-width="4.5"/>
<rect x="583.9" y="402.2" width="14.2" height="14.2" fill="none" stroke="#00f" stroke-width="4.5"/>
<rect x="586.4" y="382.9" width="14.2" height="14.2" fill="none" stroke="#00f" stroke-width="4.5"/>
<rect x="586.4" y="393.0" width="14.2" height="14.2" fill="none" stroke="#00f" stroke-width="4.5"/>
<rect x="586.4" y="387.8" width="14.2" height="14.2" fill="none" stroke="#00f" stroke-width="4.5"/>
<rect x="586.4" y="401.1" width="14.2" height="14.2" fill="none" stroke="#00f" stroke-width="4.5"/>
<rect x="588.9" y="381.8" width="14.2" height="14.2" fill="none" stroke="#00f" stroke-width="4.5"/>
<rect x="588.9" y="383.8" width="14.2" height="14.2" fill="none" stroke="#00f" stroke-width="4.5"/>
<rect x="588.9" y="382.7" width="14.2" height="14.2" fill="none" stroke="#00f" stroke-width="4.5"/>
<rect x="588.9" y="400.1" width="14.2" height="14.2" fill="none" stroke="#00f" stroke-width="4.5"/>
<rect x="591.4" y="380.7" width="14.2" height="14.2" fill="none" stroke="#00f" stroke-width="4.5"/>
<rect x="591.4" y="394.6" width="14.2" height="14.2" fill="none" stroke="#00f" stroke-width="4.5"/>
<rect x="591.4" y="389.9" width="14.2" height="14.2" fill="none" stroke="#00f" stroke-width="4.5"/>
<rect x="591.4" y="399.0" width="14.2" height="14.2" fill="none" stroke="#00f" stroke-width="4.5"/>
<rect x="593.9" y="379.6" width="14.2" height="14.2" fill="none" stroke="#00f" stroke-width="4.5"/>
<rect x="593.9" y="384.2" width="14.2" height="14.2" fill="none" stroke="#00f" stroke-width="4.5"/>
<rect x="593.9" y="393.1" width="14.2" height="14.2" fill="none" stroke="#00f" stroke-width="4.5"/>
<rect x="593.9" y="398.0" width="14.2" height="14.2" fill="none" stroke="#00f" stroke-width="4.5"/>
<rect x="596.4" y="378.5" width="14.2" height="14.2" fill="none" stroke="#00f" stroke-width="4.5"/>
<rect x="596.4" y="395.8" width="14.2" height="14.2" fill="none" stroke="#00f" stroke-width="4.5"/>
<rect x="596.4" y="393.6" width="14.2" height="14.2" fill="none" stroke="#00f" stroke-width="4.5"/>
<rect x="596.4" y="397.0" width="14.2" height="14.2" fill="none" stroke="#00f" stroke-width="4.5"/>
<rect x="598.9" y="377.4" width="14.2" height="14.2" fill="none" stroke="#00f" stroke-width="4.5"/>
<rect x="598.9" y="384.7" width="14.2" height="14.2" fill="none" stroke="#00f" stroke-width="4.5"/>
<rect x="598.9" y="390.1" width="14.2" height="14.2" fill="none" stroke="#00f" stroke-width="4.5"/>
<rect x="598.9" y="395.9" width="14.2" height="14.2" fill="none" stroke="#00f" stroke-width="4.5"/>
<rect x="601.4" y="376.2" width="14.2" height="14.2" fill="none" stroke="#00f" stroke-width="4.5"/>
<rect x="601.4" y="389.4" width="14.2" height="14.2" fill="none" stroke="#00f" stroke-width="4.5"/>
<rect x="601.4" y="383.8" width="14.2" height="14.2" fill="none" stroke="#00f" stroke-width="4.5"/>
<rect x="601.4" y="394.9" width="14.2" height="14.2" fill="none" stroke="#00f" stroke-width="4.5"/>
<rect x="603.9" y="375.1" width="14.2" height="14.2" fill="none" stroke="#00f" stroke-width="4.5"/>
<rect x="603.9" y="376.4" width="14.2" height="14.2" fill="none" stroke="#00f" stroke-width="4.5"/>
<rect x="603.9" y="379.9" width="14.2" height="14.2" fill="none" stroke="#00f" stroke-width="4.5"/>
<rect x="603.9" y="393.9" width="14.2" height="14.2" fill="none" stroke="#00f" stroke-width="4.5"/>
<rect x="606.4" y="374.0" width="14.2" height="14.2" fill="none" stroke="#00f" stroke-width="4.5"/>
<rect x="606.4" y="390.4" width="14.2" height="14.2" fill="none" stroke="#00f" stroke-width="4.5"/>
<rect x="606.4" y="379.3" width="14.2" height="14.2" fill="none" stroke="#00f" stroke-width="4.5"/>
<rect x="606.4" y="392.8" width="14.2" height="14.2" fill="none" stroke="#00f" stroke-width="4.5"/>
<rect x="608.9" y="372.9" width="14.2" height="14.2" fill="none" stroke="#00f" stroke-width="4.5"/>
<rect x="608.9" y="375.7" width="14.2" height="14.2" fill="none" stroke="#00f" stroke-width="4.5"/>
<rect x="608.9" y="377.7" width="14.2" height="14.2" fill="none" stroke="#00f" stroke-width="4.5"/>
<rect x="608.9" y="391.0" width="14.2" height="14.2" fill="none" stroke="#00f" stroke-width="4.5"/>
<rect x="611.4" y="371.8" width="14.2" height="14.2" fill="none" stroke="#00f" stroke-width="4.5"/>
<rect x="611.4" y="376.0" width="14.2" height="14.2" fill="none" stroke="#00f" stroke-width="4.5"/>
<rect x="611.4" y="377.1" width="14.2" height="14.2" fill="none" stroke="#00f" stroke-width="4.5"/>
<rect x="611.4" y="388.9" width="14.2" height="14.2" fill="none" stroke="#00f" stroke-width="4.5"/>
<rect x="613.9" y="370.7" width="14.2" height="14.2" fill="none" stroke="#00f" stroke-width="4.5"/>
<rect x="613.9" y="378.3" width="14.2" height="14.2" fill="none" stroke="#00f" stroke-width="4.5"/>
<rect x="613.9" y="373.9" width="14.2" height="14.2" fill="none" stroke="#00f" stroke-width="4.5"/>
<rect x="613.9" y="386.8" width="14.2" height="14.2" fill="none" stroke="#00f" stroke-width="4.5"/>
<rect x="616.4" y="369.5" width="14.2" height="14.2" fill="none" stroke="#00f" stroke-width="4.5"/>
<rect x="616.4" y="370.9" width="14.2" height="14.2" fill="none" stroke="#00f" stroke-width="4.5"/>
<rect x="616.4" y="370.2" width="14.2" height="14.2" fill="none" stroke="#00f" stroke-width="4.5"/>
<rect x="616.4" y="384.7" width="14.2" height="14.2" fill="none" stroke="#00f" stroke-width="4.5"/>
<rect x="618.9" y="368.4" width="14.2" height="14.2" fill="none" stroke="#00f" stroke-width="4.5"/>
<rect x="618.9" y="376.7" width="14.2" height="14.2" fill="none" stroke="#00f" stroke-width="4.5"/>
<rect x="618.9" y="382.6" width="14.2" height="14.2" fill="none" stroke="#00f" stroke-width="4.5"/>
<rect x="621.4" y="367.3" width="14.2" height="14.2" fill="none" stroke="#00f" stroke-width="4.5"/>
<rect x="621.4" y="376.8" width="14.2" height="14.2" fill="none" stroke="#00f" stroke-width="4.5"/>
<rect x="621.4" y="380.5" width="14.2" height="14.2" fill="none" stroke="#00f" stroke-width="4.5"/>
<rect x="623.9" y="366.2" width="14.2" height="14.2" fill="none" stroke="#00f" stroke-width="4.5"/>
<rect x="623.9" y="378.3" width="14.2" height="14.2" fill="none" stroke="#00f" stroke-width="4.5"/>
<rect x="623.9" y="378.4" width="14.2" height="14.2" fill="none" stroke="#00f" stroke-width="4.5"/>
<rect x="626.4" y="365.1" width="14.2" height="14.2" fill="none" stroke="#00f" stroke-width="4.5"/>
<rect x="626.4" y="365.6" width="14.2" height="14.2" fill="none" stroke="#00f" stroke-width="4.5"/>
<rect x="626.4" y="376.3" width="14.2" height="14.2" fill="none" stroke="#00f" stroke-width="4.5"/>
<rect x="628.9" y="363.9" width="14.2" height="14.2" fill="none" stroke="#00f" stroke-width="4.5"/>
<rect x="628.9" y="371.5" width="14.2" height="14.2" fill="none" stroke="#00f" stroke-width="4.5"/>
<rect x="628.9" y="374.3" width="14.2" height="14.2" fill="none" stroke="#00f" stroke-width="4.5"/>
<rect x="631.4" y="362.6" width="14.2" height="14.2" fill="none" stroke="#00f" stroke-width="4.5"/>
<rect x="631.4" y="367.5" width="14.2" height="14.2" fill="none" stroke="#00f" stroke-width="4.5"/>
<rect x="631.4" y="372.2" width="14.2" height="14.2" fill="none" stroke="#00f" stroke-width="4.5"/>
<rect x="633.9" y="361.3" width="14.2" height="14.2" fill="none" stroke="#00f" stroke-width="4.5"/>
<rect x="633.9" y="370.2" width="14.2" height="14.2" fill="none" stroke="#00f" stroke-width="4.5"/>
<rect x="636.4" y="360.1" width="14.2" height="14.2" fill="none" stroke="#00f" stroke-width="4.5"/>
<rect x="636.4" y="368.2" width="14.2" height="14.2" fill="none" stroke="#00f" stroke-width="4.5"/>
<rect x="638.9" y="358.8" width="14.2" height="14.2" fill="none" stroke="#00f" stroke-width="4.5"/>
<rect x="638.9" y="366.1" width="14.2" height="14.2" fill="none" stroke="#00f" stroke-width="4.5"/>
<rect x="641.4" y="357.5" width="14.2" height="14.2" fill="none" stroke="#00f" stroke-width="4.5"/>
<rect x="641.4" y="364.1" width="14.2" height="14.2" fill="none" stroke="#00f" stroke-width="4.5"/>
<rect x="643.9" y="356.2" width="14.2" height="14.2" fill="none" stroke="#00f" stroke-width="4.5"/>
<rect x="643.9" y="362.1" width="14.2" height="14.2" fill="none" stroke="#00f" stroke-width="4.5"/>
<rect x="646.4" y="354.9" width="14.2" height="14.2" fill="none" stroke="#00f" stroke-width="4.5"/>
<rect x="646.4" y="360.7" width="14.2" height="14.2" fill="none" stroke="#00f" stroke-width="4.5"/>
<rect x="648.9" y="353.6" width="14.2" height="14.2" fill="none" stroke="#00f" stroke-width="4.5"/>
<rect x="648.9" y="359.6" width="14.2" height="14.2" fill="none" stroke="#00f" stroke-width="4.5"/>
<rect x="651.4" y="352.3" width="14.2" height="14.2" fill="none" stroke="#00f" stroke-width="4.5"/>
<rect x="651.4" y="358.6" width="14.2" height="14.2" fill="none" stroke="#00f" stroke-width="4.5"/>
<rect x="653.9" y="351.1" width="14.2" height="14.2" fill="none" stroke="#00f" stroke-width="4.5"/>
<rect x="653.9" y="357.5" width="14.2" height="14.2" fill="none" stroke="#00f" stroke-width="4.5"/>
<rect x="656.4" y="349.8" width="14.2" height="14.2" fill="none" stroke="#00f" stroke-width="4.5"/>
<rect x="656.4" y="356.4" width="14.2" height="14.2" fill="none" stroke="#00f" stroke-width="4.5"/>
<rect x="658.9" y="348.5" width="14.2" height="14.2" fill="none" stroke="#00f" stroke-width="4.5"/>
<rect x="658.9" y="355.3" width="14.2" height="14.2" fill="none" stroke="#00f" stroke-width="4.5"/>
<rect x="661.4" y="347.2" width="14.2" height="14.2" fill="none" stroke="#00f" stroke-width="4.5"/>
<rect x="661.4" y="354.5" width="14.2" height="14.2" fill="none" stroke="#00f" stroke-width="4.5"/>
<rect x="663.9" y="346.1" width="14.2" height="14.2" fill="none" stroke="#00f" stroke-width="4.5"/>
<rect x="663.9" y="354.5" width="14.2" height="14.2" fill="none" stroke="#00f" stroke-width="4.5"/>
<rect x="666.4" y="345.6" width="14.2" height="14.2" fill="none" stroke="#00f" stroke-width="4.5"/>
<rect x="666.4" y="354.5" width="14.2" height="14.2" fill="none" stroke="#00f" stroke-width="4.5"/>
<rect x="668.9" y="345.1" width="14.2" height="14.2" fill="none" stroke="#00f" stroke-width="4.5"/>
<rect x="668.9" y="352.1" width="14.2" height="14.2" fill="none" stroke="#00f" stroke-width="4.5"/>
<rect x="668.9" y="354.5" width="14.2" height="14.2" fill="none" stroke="#00f" stroke-width="4.5"/>
<rect x="671.4" y="344.5" width="14.2" height="14.2" fill="none" stroke="#00f" stroke-width="4.5"/>
<rect x="671.4" y="349.3" width="14.2" height="14.2" fill="none" stroke="#00f" stroke-width="4.5"/>
<rect x="671.4" y="354.5" width="14.2" height="14.2" fill="none" stroke="#00f" stroke-width="4.5"/>
<rect x="673.9" y="344.0" width="14.2" height="14.2" fill="none" stroke="#00f" stroke-width="4.5"/>
<rect x="673.9" y="350.8" width="14.2" height="14.2" fill="none" stroke="#00f" stroke-width="4.5"/>
<rect x="673.9" y="354.5" width="14.2" height="14.2" fill="none" stroke="#00f" stroke-width="4.5"/>
<rect x="676.4" y="343.5" width="14.2" height="14.2" fill="none" stroke="#00f" stroke-width="4.5"/>
<rect x="676.4" y="351.7" width="14.2" height="14.2" fill="none" stroke="#00f" stroke-width="4.5"/>
<rect x="676.4" y="354.5" width="14.2" height="14.2" fill="none" stroke="#00f" stroke-width="4.5"/>
<rect x="678.9" y="343.0" width="14.2" height="14.2" fill="none" stroke="#00f" stroke-width="4.5"/>
<rect x="678.9" y="343.7" width="14.2" height="14.2" fill="none" stroke="#00f" stroke-width="4.5"/>
<rect x="678.9" y="354.5" width="14.2" height="14.2" fill="none" stroke="#00f" stroke-width="4.5"/>
<rect x="681.4" y="342.4" width="14.2" height="14.2" fill="none" stroke="#00f" stroke-width="4.5"/>
<rect x="681.4" y="350.6" width="14.2" height="14.2" fill="none" stroke="#00f" stroke-width="4.5"/>
<rect x="681.4" y="354.5" width="14.2" height="14.2" fill="none" stroke="#00f" stroke-width="4.5"/>
<rect x="683.9" y="342.1" width="14.2" height="14.2" fill="none" stroke="#00f" stroke-width="4.5"/>
<rect x="683.9" y="347.9" width="14.2" height="14.2" fill="none" stroke="#00f" stroke-width="4.5"/>
<rect x="683.9" y="354.5" width="14.2" height="14.2" fill="none" stroke="#00f" stroke-width="4.5"/>
<rect x="686.4" y="341.9" width="14.2" height="14.2" fill="none" stroke="#00f" stroke-width="4.5"/>
<rect x="686.4" y="354.3" width="14.2" height="14.2" fill="none" stroke="#00f" stroke-width="4.5"/>
<rect x="686.4" y="354.5" width="14.2" height="14.2" fill="none" stroke="#00f" stroke-width="4.5"/>
<rect x="688.9" y="342.1" width="14.2" height="14.2" fill="none" stroke="#00f" stroke-width="4.5"/>
<rect x="688.9" y="352.3" width="14.2" height="14.2" fill="none" stroke="#00f" stroke-width="4.5"/>
<rect x="688.9" y="354.5" width="14.2" height="14.2" fill="none" stroke="#00f" stroke-width="4.5"/>
<rect x="691.4" y="342.6" width="14.2" height="14.2" fill="none" stroke="#00f" stroke-width="4.5"/>
<rect x="691.4" y="345.1" width="14.2" height="14.2" fill="none" stroke="#00f" stroke-width="4.5"/>
<rect x="691.4" y="354.5" width="14.2" height="14.2" fill="none" stroke="#00f" stroke-width="4.5"/>
<rect x="693.9" y="343.0" width="14.2" height="14.2" fill="none" stroke="#00f" stroke-width="4.5"/>
<rect x="693.9" y="344.6" width="14.2" height="14.2" fill="none" stroke="#00f" stroke-width="4.5"/>
<rect x="693.9" y="354.5" width="14.2" height="14.2" fill="none" stroke="#00f" stroke-width="4.5"/>
<rect x="696.4" y="343.8" width="14.2" height="14.2" fill="none" stroke="#00f" stroke-width="4.5"/>
<rect x="696.4" y="352.6" width="14.2" height="14.2" fill="none" stroke="#00f" stroke-width="4.5"/>
<rect x="696.4" y="354.5" width="14.2" height="14.2" fill="none" stroke="#00f" stroke-width="4.5"/>
<rect x="698.9" y="345.4" width="14.2" height="14.2" fill="none" stroke="#00f" stroke-width="4.5"/>
<rect x="698.9" y="347.5" width="14.2" height="14.2" fill="none" stroke="#00f" stroke-width="4.5"/>
<rect x="698.9" y="354.5" width="14.2" height="14.2" fill="none" stroke="#00f" stroke-width="4.5"/>
<rect x="701.4" y="347.0" width="14.2" height="14.2" fill="none" stroke="#00f" stroke-width="4.5"/>
<rect x="701.4" y="354.5" width="14.2" height="14.2" fill="none" stroke="#00f" stroke-width="4.5"/>
<rect x="703.9" y="348.7" width="14.2" height="14.2" fill="none" stroke="#00f" stroke-width="4.5"/>
<rect x="703.9" y="354.5" width="14.2" height="14.2" fill="none" stroke="#00f" stroke-width="4.5"/>
<rect x="706.4" y="350.3" width="14.2" height="14.2" fill="none" stroke="#00f" stroke-width="4.5"/>
<rect x="706.4" y="354.5" width="14.2" height="14.2" fill="none" stroke="#00f" stroke-width="4.5"/>
<rect x="708.9" y="351.9" width="14.2" height="14.2" fill="none" stroke="#00f" stroke-width="4.5"/>
<rect x="708.9" y="355.4" width="14.2" height="14.2" fill="none" stroke="#00f" stroke-width="4.5"/>
<rect x="711.4" y="353.5" width="14.2" height="14.2" fill="none" stroke="#00f" stroke-width="4.5"/>
<rect x="711.4" y="356.7" width="14.2" height="14.2" fill="none" stroke="#00f" stroke-width="4.5"/>
<rect x="713.9" y="355.2" width="14.2" height="14.2" fill="none" stroke="#00f" stroke-width="4.5"/>
<rect x="713.9" y="358.0" width="14.2" height="14.2" fill="none" stroke="#00f" stroke-width="4.5"/>
<rect x="716.4" y="356.5" width="14.2" height="14.2" fill="none" stroke="#00f" stroke-width="4.5"/>
<rect x="716.4" y="359.4" width="14.2" height="14.2" fill="none" stroke="#00f" stroke-width="4.5"/>
<rect x="718.9" y="357.8" width="14.2" height="14.2" fill="none" stroke="#00f" stroke-width="4.5"/>
<rect x="718.9" y="360.7" width="14.2" height="14.2" fill="none" stroke="#00f" stroke-width="4.5"/>
<rect x="721.4" y="359.2" width="14.2" height="14.2" fill="none" stroke="#00f" stroke-width="4.5"/>
<rect x="721.4" y="362.0" width="14.2" height="14.2" fill="none" stroke="#00f" stroke-width="4.5"/>
<rect x="723.9" y="360.5" width="14.2" height="14.2" fill="none" stroke="#00f" stroke-width="4.5"/>
<rect x="723.9" y="363.3" width="14.2" height="14.2" fill="none" stroke="#00f" stroke-width="4.5"/>
<rect x="726.4" y="361.8" width="14.2" height="14.2" fill="none" stroke="#00f" stroke-width="4.5"/>
<rect x="726.4" y="364.6" width="14.2" height="14.2" fill="none" stroke="#00f" stroke-width="4.5"/>
<rect x="728.9" y="363.2" width="14.2" height="14.2" fill="none" stroke="#00f" stroke-width="4.5"/>
<rect x="728.9" y="365.9" width="14.2" height="14.2" fill="none" stroke="#00f" stroke-width="4.5"/>
<rect x="731.4" y="364.5" width="14.2" height="14.2" fill="none" stroke="#00f" stroke-width="4.5"/>
<rect x="731.4" y="367.2" width="14.2" height="14.2" fill="none" stroke="#00f" stroke-width="4.5"/>
<rect x="733.9" y="365.8" width="14.2" height="14.2" fill="none" stroke="#00f" stroke-width="4.5"/>
<rect x="733.9" y="368.8" width="14.2" height="14.2" fill="none" stroke="#00f" stroke-width="4.5"/>
<rect x="736.4" y="367.2" width="14.2" height="14.2" fill="none" stroke="#00f" stroke-width="4.5"/>
<rect x="736.4" y="370.8" width="14.2" height="14.2" fill="none" stroke="#00f" stroke-width="4.5"/>
<rect x="738.9" y="368.5" width="14.2" height="14.2" fill="none" stroke="#00f" stroke-width="4.5"/>
<rect x="738.9" y="372.7" width="14.2" height="14.2" fill="none" stroke="#00f" stroke-width="4.5"/>
<rect x="741.4" y="370.6" width="14.2" height="14.2" fill="none" stroke="#00f" stroke-width="4.5"/>
<rect x="741.4" y="374.6" width="14.2" height="14.2" fill="none" stroke="#00f" stroke-width="4.5"/>
<rect x="743.9" y="372.8" width="14.2" height="14.2" fill="none" stroke="#00f" stroke-width="4.5"/>
<rect x="743.9" y="376.6" width="14.2" height="14.2" fill="none" stroke="#00f" stroke-width="4.5"/>
<rect x="746.4" y="375.0" width="14.2" height="14.2" fill="none" stroke="#00f" stroke-width="4.5"/>
<rect x="746.4" y="378.5" width="14.2" height="14.2" fill="none" stroke="#00f" stroke-width="4.5"/>
<rect x="748.9" y="377.3" width="14.2" height="14.2" fill="none" stroke="#00f" stroke-width="4.5"/>
<rect x="748.9" y="380.4" width="14.2" height="14.2" fill="none" stroke="#00f" stroke-width="4.5"/>
<rect x="751.4" y="379.5" width="14.2" height="14.2" fill="none" stroke="#00f" stroke-width="4.5"/>
<rect x="751.4" y="382.4" width="14.2" height="14.2" fill="none" stroke="#00f" stroke-width="4.5"/>
<rect x="753.9" y="381.7" width="14.2" height="14.2" fill="none" stroke="#00f" stroke-width="4.5"/>
<rect x="753.9" y="384.3" width="14.2" height="14.2" fill="none" stroke="#00f" stroke-width="4.5"/>
<rect x="756.4" y="384.0" width="14.2" height="14.2" fill="none" stroke="#00f" stroke-width="4.5"/>
<rect x="756.4" y="386.2" width="14.2" height="14.2" fill="none" stroke="#00f" stroke-width="4.5"/>
<rect x="758.9" y="386.2" width="14.2" height="14.2" fill="none" stroke="#00f" stroke-width="4.5"/>
<rect x="758.9" y="388.2" width="14.2" height="14.2" fill="none" stroke="#00f" stroke-width="4.5"/>
<rect x="761.4" y="388.4" width="14.2" height="14.2" fill="none" stroke="#00f" stroke-width="4.5"/>
<rect x="761.4" y="390.1" width="14.2" height="14.2" fill="none" stroke="#00f" stroke-width="4.5"/>
<rect x="763.9" y="390.7" width="14.2" height="14.2" fill="none" stroke="#00f" stroke-width="4.5"/>
<rect x="763.9" y="392.1" width="14.2" height="14.2" fill="none" stroke="#00f" stroke-width="4.5"/>
<rect x="766.4" y="393.7" width="14.2" height="14.2" fill="none" stroke="#00f" stroke-width="4.5"/>
<rect x="766.4" y="394.5" width="14.2" height="14.2" fill="none" stroke="#00f" stroke-width="4.5"/>
<rect x="768.9" y="396.9" width="14.2" height="14.2" fill="none" stroke="#00f" stroke-width="4.5"/>
<rect x="771.4" y="399.6" width="14.2" height="14.2" fill="none" stroke="#00f" stroke-width="4.5"/>
<rect x="773.9" y="402.4" width="14.2" height="14.2" fill="none" stroke="#00f" stroke-width="4.5"/>
<rect x="776.4" y="405.3" width="14.2" height="14.2" fill="none" stroke="#00f" stroke-width="4.5"/>
<rect x="778.9" y="409.7" width="14.2" height="14.2" fill="none" stroke="#00f" stroke-width="4.5"/>
<rect x="781.4" y="413.4" width="14.2" height="14.2" fill="none" stroke="#00f" stroke-width="4.5"/>
<rect x="781.4" y="414.9" width="14.2" height="14.2" fill="none" stroke="#00f" stroke-width="4.5"/>
<rect x="783.9" y="418.4" width="14.2" height="14.2" fill="none" stroke="#00f" stroke-width="4.5"/>
<rect x="783.9" y="420.4" width="14.2" height="14.2" fill="none" stroke="#00f" stroke-width="4.5"/>
<rect x="786.4" y="423.4" width="14.2" height="14.2" fill="none" stroke="#00f" stroke-width="4.5"/>
<rect x="786.4" y="425.9" width="14.2" height="14.2" fill="none" stroke="#00f" stroke-width="4.5"/>
<rect x="788.9" y="428.4" width="14.2" height="14.2" fill="none" stroke="#00f" stroke-width="4.5"/>
<rect x="788.9" y="431.1" width="14.2" height="14.2" fill="none" stroke="#00f" stroke-width="4.5"/>
<rect x="791.4" y="434.5" width="14.2" height="14.2" fill="none" stroke="#00f" stroke-width="4.5"/>
<rect x="791.4" y="436.3" width="14.2" height="14.2" fill="none" stroke="#00f" stroke-width="4.5"/>
<rect x="793.9" y="441.3" width="14.2" height="14.2" fill="none" stroke="#00f" stroke-width="4.5"/>
<rect x="793.9" y="441.5" width="14.2" height="14.2" fill="none" stroke="#00f" stroke-width="4.5"/>
<rect x="796.4" y="447.5" width="14.2" height="14.2" fill="none" stroke="#00f" stroke-width="4.5"/>
<rect x="798.9" y="452.4" width="14.2" height="14.2" fill="none" stroke="#00f" stroke-width="4.5"/>
<rect x="801.4" y="455.5" width="14.2" height="14.2" fill="none" stroke="#00f" stroke-width="4.5"/>
<rect x="803.9" y="458.6" width="14.2" height="14.2" fill="none" stroke="#00f" stroke-width="4.5"/>
<rect x="806.4" y="461.7" width="14.2" height="14.2" fill="none" stroke="#00f" stroke-width="4.5"/>
<rect x="808.9" y="464.9" width="14.2" height="14.2" fill="none" stroke="#00f" stroke-width="4.5"/>
<rect x="811.4" y="467.7" width="14.2" height="14.2" fill="none" stroke="#00f" stroke-width="4.5"/>
<rect x="813.9" y="470.3" width="14.2" height="14.2" fill="none" stroke="#00f" stroke-width="4.5"/>
<rect x="816.4" y="472.6" width="14.2" height="14.2" fill="none" stroke="#00f" stroke-width="4.5"/>
<rect x="818.9" y="474.7" width="14.2" height="14.2" fill="none" stroke="#00f" stroke-width="4.5"/>
<rect x="821.4" y="476.8" width="14.2" height="14.2" fill="none" stroke="#00f" stroke-width="4.5"/>
<rect x="823.9" y="478.9" width="14.2" height="14.2" fill="none" stroke="#00f" stroke-width="4.5"/>
<rect x="826.4" y="481.0" width="14.2" height="14.2" fill="none" stroke="#00f" stroke-width="4.5"/>
<rect x="828.9" y="483.1" width="14.2" height="14.2" fill="none" stroke="#00f" stroke-width="4.5"/>
<rect x="831.4" y="485.1" width="14.2" height="14.2" fill="none" stroke="#00f" stroke-width="4.5"/>
<rect x="833.9" y="487.0" width="14.2" height="14.2" fill="none" stroke="#00f" stroke-width="4.5"/>
<rect x="836.4" y="488.8" width="14.2" height="14.2" fill="none" stroke="#00f" stroke-width="4.5"/>
<rect x="838.9" y="490.6" width="14.2" height="14.2" fill="none" stroke="#00f" stroke-width="4.5"/>
<rect x="841.4" y="492.5" width="14.2" height="14.2" fill="none" stroke="#00f" stroke-width="4.5"/>
<rect x="843.9" y="494.3" width="14.2" height="14.2" fill="none" stroke="#00f" stroke-width="4.5"/>
<rect x="846.4" y="496.1" width="14.2" height="14.2" fill="none" stroke="#00f" stroke-width="4.5"/>
<rect x="848.9" y="497.9" width="14.2" height="14.2" fill="none" stroke="#00f" stroke-width="4.5"/>
<rect x="851.4" y="499.4" width="14.2" height="14.2" fill="none" stroke="#00f" stroke-width="4.5"/>
<rect x="853.9" y="500.7" width="14.2" height="14.2" fill="none" stroke="#00f" stroke-width="4.5"/>
<rect x="856.4" y="502.0" width="14.2" height="14.2" fill="none" stroke="#00f" stroke-width="4.5"/>
<rect x="858.9" y="503.3" width="14.2" height="14.2" fill="none" stroke="#00f" stroke-width="4.5"/>
<rect x="861.4" y="504.6" width="14.2" height="14.2" fill="none" stroke="#00f" stroke-width="4.5"/>
<rect x="863.9" y="506.0" width="14.2" height="14.2" fill="none" stroke="#00f" stroke-width="4.5"/>
<rect x="866.4" y="507.4" width="14.2" height="14.2" fill="none" stroke="#00f" stroke-width="4.5"/>
<rect x="868.9" y="508.8" width="14.2" height="14.2" fill="none" stroke="#00f" stroke-width="4.5"/>
<rect x="871.4" y="510.2" width="14.2" height="14.2" fill="none" stroke="#00f" stroke-width="4.5"/>
<rect x="873.9" y="511.5" width="14.2" height="14.2" fill="none" stroke="#00f" stroke-width="4.5"/>
<rect x="876.4" y="512.9" width="14.2" height="14.2" fill="none" stroke="#00f" stroke-width="4.5"/>
<rect x="878.9" y="514.3" width="14.2" height="14.2" fill="none" stroke="#00f" stroke-width="4.5"/>
<rect x="881.4" y="515.7" width="14.2" height="14.2" fill="none" stroke="#00f" stroke-width="4.5"/>
<rect x="883.9" y="517.0" width="14.2" height="14.2" fill="none" stroke="#00f" stroke-width="4.5"/>
<rect x="886.4" y="518.4" width="14.2" height="14.2" fill="none" stroke="#00f" stroke-width="4.5"/>
<rect x="888.9" y="519.8" width="14.2" height="14.2" fill="none" stroke="#00f" stroke-width="4.5"/>
<rect x="891.4" y="521.2" width="14.2" height="14.2" fill="none" stroke="#00f" stroke-width="4.5"/>
<rect x="893.9" y="522.6" width="14.2" height="14.2" fill="none" stroke="#00f" stroke-width="4.5"/>
<rect x="896.4" y="523.9" width="14.2" height="14.2" fill="none" stroke="#00f" stroke-width="4.5"/>
<rect x="898.9" y="525.3" width="14.2" height="14.2" fill="none" stroke="#00f" stroke-width="4.5"/>
<rect x="901.4" y="526.7" width="14.2" height="14.2" fill="none" stroke="#00f" stroke-width="4.5"/>
<rect x="903.9" y="528.1" width="14.2" height="14.2" fill="none" stroke="#00f" stroke-width="4.5"/>
<rect x="906.4" y="529.5" width="14.2" height="14.2" fill="none" stroke="#00f" stroke-width="4.5"/>
<rect x="908.9" y="530.9" width="14.2" height="14.2" fill="none" stroke="#00f" stroke-width="4.5"/>
<rect x="911.4" y="532.3" width="14.2" height="14.2" fill="none" stroke="#00f" stroke-width="4.5"/>
<rect x="913.9" y="533.7" width="14.2" height="14.2" fill="none" stroke="#00f" stroke-width="4.5"/>
<rect x="916.4" y="535.0" width="14.2" height="14.2" fill="none" stroke="#00f" stroke-width="4.5"/>
<rect x="918.9" y="536.4" width="14.2" height="14.2" fill="none" stroke="#00f" stroke-width="4.5"/>
<rect x="921.4" y="537.7" width="14.2" height="14.2" fill="none" stroke="#00f" stroke-width="4.5"/>
<rect x="923.9" y="539.1" width="14.2" height="14.2" fill="none" stroke="#00f" stroke-width="4.5"/>
<rect x="926.4" y="540.4" width="14.2" height="14.2" fill="none" stroke="#00f" stroke-width="4.5"/>
<rect x="928.9" y="541.8" width="14.2" height="14.2" fill="none" stroke="#00f" stroke-width="4.5"/>
<rect x="931.4" y="543.1" width="14.2" height="14.2" fill="none" stroke="#00f" stroke-width="4.5"/>
<rect x="933.9" y="544.5" width="14.2" height="14.2" fill="none" stroke="#00f" stroke-width="4.5"/>
<rect x="936.4" y="545.8" width="14.2" height="14.2" fill="none" stroke="#00f" stroke-width="4.5"/>
<rect x="938.9" y="547.2" width="14.2" height="14.2" fill="none" stroke="#00f" stroke-width="4.5"/>
<rect x="941.4" y="548.5" width="14.2" height="14.2" fill="none" stroke="#00f" stroke-width="4.5"/>
<rect x="943.9" y="549.7" width="14.2" height="14.2" fill="none" stroke="#00f" stroke-width="4.5"/>
<rect x="946.4" y="550.9" width="14.2" height="14.2" fill="none" stroke="#00f" stroke-width="4.5"/>
<rect x="948.9" y="552.0" width="14.2" height="14.2" fill="none" stroke="#00f" stroke-width="4.5"/>
<rect x="951.4" y="553.2" width="14.2" height="14.2" fill="none" stroke="#00f" stroke-width="4.5"/>
<rect x="953.9" y="554.4" width="14.2" height="14.2" fill="none" stroke="#00f" stroke-width="4.5"/>
<rect x="956.4" y="555.5" width="14.2" height="14.2" fill="none" stroke="#00f" stroke-width="4.5"/>
<rect x="958.9" y="556.7" width="14.2" height="14.2" fill="none" stroke="#00f" stroke-width="4.5"/>
<rect x="961.4" y="557.7" width="14.2" height="14.2" fill="none" stroke="#00f" stroke-width="4.5"/>
<rect x="963.9" y="558.6" width="14.2" height="14.2" fill="none" stroke="#00f" stroke-width="4.5"/>
<rect x="966.4" y="559.5" width="14.2" height="14.2" fill="none" stroke="#00f" stroke-width="4.5"/>
<rect x="968.9" y="560.4" width="14.2" height="14.2" fill="none" stroke="#00f" stroke-width="4.5"/>
<rect x="971.4" y="561.2" width="14.2" height="14.2" fill="none" stroke="#00f" stroke-width="4.5"/>
<rect x="973.9" y="562.1" width="14.2" height="14.2" fill="none" stroke="#00f" stroke-width="4.5"/>
<rect x="976.4" y="563.0" width="14.2" height="14.2" fill="none" stroke="#00f" stroke-width="4.5"/>
<rect x="978.9" y="563.9" width="14.2" height="14.2" fill="none" stroke="#00f" stroke-width="4.5"/>
<rect x="981.4" y="564.8" width="14.2" height="14.2" fill="none" stroke="#00f" stroke-width="4.5"/>
<rect x="983.9" y="565.7" width="14.2" height="14.2" fill="none" stroke="#00f" stroke-width="4.5"/>
<rect x="986.4" y="566.6" width="14.2" height="14.2" fill="none" stroke="#00f" stroke-width="4.5"/>
<rect x="988.9" y="567.4" width="14.2" height="14.2" fill="none" stroke="#00f" stroke-width="4.5"/>
<rect x="991.4" y="568.2" width="14.2" height="14.2" fill="none" stroke="#00f" stroke-width="4.5"/>
<rect x="993.9" y="568.9" width="14.2" height="14.2" fill="none" stroke="#00f" stroke-width="4.5"/>
<rect x="996.4" y="569.6" width="14.2" height="14.2" fill="none" stroke="#00f" stroke-width="4.5"/>
<rect x="998.9" y="570.3" width="14.2" height="14.2" fill="none" stroke="#00f" stroke-width="4.5"/>
<rect x="1001.4" y="571.0" width="14.2" height="14.2" fill="none" stroke="#00f" stroke-width="4.5"/>
<rect x="1003.9" y="571.7" width="14.2" height="14.2" fill="none" stroke="#00f" stroke-width="4.5"/>
<rect x="1006.4" y="572.4" width="14.2" height="14.2" fill="none" stroke="#00f" stroke-width="4.5"/>
<rect x="1008.9" y="573.0" width="14.2" height="14.2" fill="none" stroke="#00f" stroke-width="4.5"/>
<rect x="1011.4" y="573.7" width="14.2" height="14.2" fill="none" stroke="#00f" stroke-width="4.5"/>
<rect x="1013.9" y="574.3" width="14.2" height="14.2" fill="none" stroke="#00f" stroke-width="4.5"/>
<rect x="1016.4" y="575.0" width="14.2" height="14.2" fill="none" stroke="#00f" stroke-width="4.5"/>
<rect x="1018.9" y="575.6" width="14.2" height="14.2" fill="none" stroke="#00f" stroke-width="4.5"/>
<rect x="1021.4" y="576.2" width="14.2" height="14.2" fill="none" stroke="#00f" stroke-width="4.5"/>
<rect x="1023.9" y="576.9" width="14.2" height="14.2" fill="none" stroke="#00f" stroke-width="4.5"/>
<rect x="1026.4" y="577.5" width="14.2" height="14.2" fill="none" stroke="#00f" stroke-width="4.5"/>
<rect x="1028.9" y="578.1" width="14.2" height="14.2" fill="none" stroke="#00f" stroke-width="4.5"/>
<rect x="1031.4" y="578.8" width="14.2" height="14.2" fill="none" stroke="#00f" stroke-width="4.5"/>
<rect x="1033.9" y="579.4" width="14.2" height="14.2" fill="none" stroke="#00f" stroke-width="4.5"/>
<rect x="1036.4" y="580.1" width="14.2" height="14.2" fill="none" stroke="#00f" stroke-width="4.5"/>
<rect x="1038.9" y="580.7" width="14.2" height="14.2" fill="none" stroke="#00f" stroke-width="4.5"/>
<rect x="1041.4" y="581.4" width="14.2" height="14.2" fill="none" stroke="#00f" stroke-width="4.5"/>
<rect x="1043.9" y="582.0" width="14.2" height="14.2" fill="none" stroke="#00f" stroke-width="4.5"/>
<rect x="1046.4" y="582.7" width="14.2" height="14.2" fill="none" stroke="#00f" stroke-width="4.5"/>
<rect x="1048.9" y="583.4" width="14.2" height="14.2" fill="none" stroke="#00f" stroke-width="4.5"/>
<rect x="1051.4" y="584.0" width="14.2" height="14.2" fill="none" stroke="#00f" stroke-width="4.5"/>
<rect x="1053.9" y="584.7" width="14.2" height="14.2" fill="none" stroke="#00f" stroke-width="4.5"/>
<rect x="1056.4" y="585.3" width="14.2" height="14.2" fill="none" stroke="#00f" stroke-width="4.5"/>
<rect x="1058.9" y="586.1" width="14.2" height="14.2" fill="none" stroke="#00f" stroke-width="4.5"/>
<rect x="1061.4" y="586.8" width="14.2" height="14.2" fill="none" stroke="#00f" stroke-width="4.5"/>
<rect x="1063.9" y="587.5" width="14.2" height="14.2" fill="none" stroke="#00f" stroke-width="4.5"/>
<rect x="1066.4" y="588.3" width="14.2" height="14.2" fill="none" stroke="#00f" stroke-width="4.5"/>
<rect x="1068.9" y="589.0" width="14.2" height="14.2" fill="none" stroke="#00f" stroke-width="4.5"/>
<rect x="1071.4" y="589.8" width="14.2" height="14.2" fill="none" stroke="#00f" stroke-width="4.5"/>
<rect x="1073.9" y="590.5" width="14.2" height="14.2" fill="none" stroke="#00f" stroke-width="4.5"/>
<rect x="1076.4" y="591.2" width="14.2" height="14.2" fill="none" stroke="#00f" stroke-width="4.5"/>
<rect x="1078.9" y="592.0" width="14.2" height="14.2" fill="none" stroke="#00f" stroke-width="4.5"/>
<rect x="1081.4" y="592.7" width="14.2" height="14.2" fill="none" stroke="#00f" stroke-width="4.5"/>
<rect x="1083.9" y="593.5" width="14.2" height="14.2" fill="none" stroke="#00f" stroke-width="4.5"/>
<rect x="1086.4" y="594.2" width="14.2" height="14.2" fill="none" stroke="#00f" stroke-width="4.5"/>
<rect x="1088.9" y="594.8" width="14.2" height="14.2" fill="none" stroke="#00f" stroke-width="4.5"/>
<rect x="1091.4" y="595.4" width="14.2" height="14.2" fill="none" stroke="#00f" stroke-width="4.5"/>
<rect x="1093.9" y="595.9" width="14.2" height="14.2" fill="none" stroke="#00f" stroke-width="4.5"/>
<rect x="1096.4" y="596.4" width="14.2" height="14.2" fill="none" stroke="#00f" stroke-width="4.5"/>
<rect x="1098.9" y="597.0" width="14.2" height="14.2" fill="none" stroke="#00f" stroke-width="4.5"/>
<rect x="1101.4" y="597.5" width="14.2" height="14.2" fill="none" stroke="#00f" stroke-width="4.5"/>
<rect x="1104.3" y="597.1" width="14.2" height="14.2" fill="none" stroke="#00f" stroke-width="4.5"/>
<polygon points="195.0,762.6 207.0,774.6 195.0,786.6 183.0,774.6" fill="#f00"/>
<polygon points="210.3,752.5 222.3,764.5 210.3,776.5 198.3,764.5" fill="#f00"/>
<polygon points="239.3,742.4 251.3,754.4 239.3,766.4 227.3,754.4" fill="#f00"/>
<polygon points="250.7,733.6 262.7,745.6 250.7,757.6 238.7,745.6" fill="#f00"/>
<polygon points="302.4,714.7 314.4,726.7 302.4,738.7 290.4,726.7" fill="#f00"/>
<polygon points="320.0,716.0 329.0,709.0 337.0,704.0 374.0,689.0 412.0,670.0 450.0,652.0 470.0,641.0 495.0,633.0 546.0,606.0 584.0,586.0 609.0,575.0 647.0,568.0 677.0,565.0 697.0,574.0 722.0,588.0 740.0,601.0 776.0,638.0 801.0,671.0 826.0,701.0 852.0,716.0 877.0,734.0 902.0,749.0 926.0,763.0 971.0,779.0 1016.0,795.0 1062.0,806.0 1112.0,813.0 1124.0,825.0 1112.0,836.0 1062.0,824.0 1016.0,811.0 971.0,797.0 926.0,779.0 902.0,764.0 877.0,754.0 852.0,741.0 826.0,726.0 814.0,714.0 788.0,683.0 763.0,648.0 740.0,628.0 722.0,616.0 697.0,604.0 672.0,599.0 647.0,596.0 622.0,601.0 584.0,616.0 546.0,633.0 508.0,656.0 470.0,666.0 463.0,671.0 438.0,684.0 400.0,698.0 362.0,714.0 330.0,728.0" fill="#f00" />
<polyline points="685.0,184.0 817.0,76.0 817.0,284.0 998.0,343.0" fill="none" stroke="#000" stroke-width="3.1" stroke-linejoin="miter"/>
<rect x="814.80" y="75.0" width="4.4" height="210.0" fill="#000"/>
<polyline points="558.0,414.6 763.3,302.0 763.3,491.5 998.0,572.5" fill="none" stroke="#000" stroke-width="3.1" stroke-linejoin="miter"/>
<rect x="761.10" y="301.0" width="4.4" height="191.5" fill="#000"/>
<polyline points="500.0,647.3 739.7,524.0 739.7,694.7 977.8,788.1" fill="none" stroke="#000" stroke-width="3.1" stroke-linejoin="miter"/>
<rect x="737.50" y="523.0" width="4.4" height="172.7" fill="#000"/>
<polygon points="816.0,296.0 803.0,351.7 831.0,351.7" fill="#000" />
<polygon points="764.2,503.0 751.5,556.0 777.3,556.0" fill="#00f" />
<polygon points="739.1,704.8 726.0,760.4 753.0,760.4" fill="#f00" />
<circle cx="194.3" cy="1238.1" r="7.4" fill="none" stroke="#000" stroke-width="4.3"/>
<circle cx="193.5" cy="1249.0" r="7.4" fill="none" stroke="#000" stroke-width="4.3"/>
<circle cx="244.0" cy="1220.4" r="7.4" fill="none" stroke="#000" stroke-width="4.3"/>
<circle cx="239.8" cy="1235.6" r="7.4" fill="none" stroke="#000" stroke-width="4.3"/>
<circle cx="287.7" cy="1192.6" r="7.4" fill="none" stroke="#000" stroke-width="4.3"/>
<circle cx="285.2" cy="1211.1" r="7.4" fill="none" stroke="#000" stroke-width="4.3"/>
<circle cx="337.4" cy="1185.9" r="7.4" fill="none" stroke="#000" stroke-width="4.3"/>
<circle cx="335.0" cy="1184.0" r="7.4" fill="none" stroke="#000" stroke-width="4.3"/>
<circle cx="383.2" cy="1157.4" r="7.4" fill="none" stroke="#000" stroke-width="4.3"/>
<circle cx="384.5" cy="1171.3" r="7.4" fill="none" stroke="#000" stroke-width="4.3"/>
<circle cx="436.3" cy="1139.7" r="7.4" fill="none" stroke="#000" stroke-width="4.3"/>
<circle cx="437.5" cy="1160.0" r="7.4" fill="none" stroke="#000" stroke-width="4.3"/>
<circle cx="479.0" cy="1109.0" r="7.4" fill="none" stroke="#000" stroke-width="4.3"/>
<circle cx="480.0" cy="1124.0" r="7.4" fill="none" stroke="#000" stroke-width="4.3"/>
<circle cx="527.3" cy="1103.1" r="7.4" fill="none" stroke="#000" stroke-width="4.3"/>
<circle cx="530.1" cy="1111.7" r="7.4" fill="none" stroke="#000" stroke-width="4.3"/>
<circle cx="584.5" cy="1070.2" r="7.4" fill="none" stroke="#000" stroke-width="4.3"/>
<circle cx="577.3" cy="1081.7" r="7.4" fill="none" stroke="#000" stroke-width="4.3"/>
<circle cx="580.2" cy="1093.1" r="7.4" fill="none" stroke="#000" stroke-width="4.3"/>
<circle cx="631.7" cy="1055.9" r="7.4" fill="none" stroke="#000" stroke-width="4.3"/>
<circle cx="628.9" cy="1074.5" r="7.4" fill="none" stroke="#000" stroke-width="4.3"/>
<circle cx="676.1" cy="1028.7" r="7.4" fill="none" stroke="#000" stroke-width="4.3"/>
<circle cx="686.1" cy="1038.7" r="7.4" fill="none" stroke="#000" stroke-width="4.3"/>
<circle cx="684.7" cy="1014.4" r="7.4" fill="none" stroke="#000" stroke-width="4.3"/>
<circle cx="694.7" cy="1031.6" r="7.4" fill="none" stroke="#000" stroke-width="4.3"/>
<circle cx="703.3" cy="1000.1" r="7.4" fill="none" stroke="#000" stroke-width="4.3"/>
<circle cx="711.9" cy="1020.1" r="7.4" fill="none" stroke="#000" stroke-width="4.3"/>
<circle cx="719.0" cy="1007.3" r="7.4" fill="none" stroke="#000" stroke-width="4.3"/>
<circle cx="721.9" cy="988.7" r="7.4" fill="none" stroke="#000" stroke-width="4.3"/>
<circle cx="733.3" cy="1003.0" r="7.4" fill="none" stroke="#000" stroke-width="4.3"/>
<circle cx="731.9" cy="978.6" r="7.4" fill="none" stroke="#000" stroke-width="4.3"/>
<circle cx="741.9" cy="964.8" r="7.4" fill="none" stroke="#000" stroke-width="4.3"/>
<circle cx="753.9" cy="975.8" r="7.4" fill="none" stroke="#000" stroke-width="4.3"/>
<circle cx="762.3" cy="990.9" r="7.4" fill="none" stroke="#000" stroke-width="4.3"/>
<circle cx="716.8" cy="1006.0" r="7.4" fill="none" stroke="#000" stroke-width="4.3"/>
<circle cx="713.5" cy="1021.2" r="7.4" fill="none" stroke="#000" stroke-width="4.3"/>
<circle cx="761.8" cy="981.7" r="7.4" fill="none" stroke="#000" stroke-width="4.3"/>
<circle cx="734.4" cy="991.6" r="7.4" fill="none" stroke="#000" stroke-width="4.3"/>
<circle cx="701.6" cy="998.1" r="7.4" fill="none" stroke="#000" stroke-width="4.3"/>
<circle cx="716.9" cy="1006.9" r="7.4" fill="none" stroke="#000" stroke-width="4.3"/>
<circle cx="685.2" cy="1011.3" r="7.4" fill="none" stroke="#000" stroke-width="4.3"/>
<circle cx="676.4" cy="1022.2" r="7.4" fill="none" stroke="#000" stroke-width="4.3"/>
<circle cx="692.8" cy="1033.2" r="7.4" fill="none" stroke="#000" stroke-width="4.3"/>
<circle cx="685.2" cy="1040.8" r="7.4" fill="none" stroke="#000" stroke-width="4.3"/>
<circle cx="759.6" cy="1005.8" r="7.4" fill="none" stroke="#000" stroke-width="4.3"/>
<circle cx="766.1" cy="1012.4" r="7.4" fill="none" stroke="#000" stroke-width="4.3"/>
<circle cx="768.3" cy="1028.8" r="7.4" fill="none" stroke="#000" stroke-width="4.3"/>
<circle cx="768.3" cy="1039.7" r="7.4" fill="none" stroke="#000" stroke-width="4.3"/>
<circle cx="776.0" cy="1028.8" r="7.4" fill="none" stroke="#000" stroke-width="4.3"/>
<circle cx="776.0" cy="1039.7" r="7.4" fill="none" stroke="#000" stroke-width="4.3"/>
<circle cx="701.6" cy="1009.1" r="7.4" fill="none" stroke="#000" stroke-width="4.3"/>
<circle cx="741.5" cy="965.3" r="7.4" fill="none" stroke="#000" stroke-width="4.3"/>
<circle cx="753.0" cy="975.7" r="7.4" fill="none" stroke="#000" stroke-width="4.3"/>
<circle cx="720.2" cy="988.8" r="7.4" fill="none" stroke="#000" stroke-width="4.3"/>
<circle cx="733.3" cy="1003.6" r="7.4" fill="none" stroke="#000" stroke-width="4.3"/>
<circle cx="713.6" cy="1021.1" r="7.4" fill="none" stroke="#000" stroke-width="4.3"/>
<circle cx="745.0" cy="972.0" r="7.4" fill="none" stroke="#000" stroke-width="4.3"/>
<circle cx="727.0" cy="996.0" r="7.4" fill="none" stroke="#000" stroke-width="4.3"/>
<circle cx="708.0" cy="1014.0" r="7.4" fill="none" stroke="#000" stroke-width="4.3"/>
<circle cx="695.0" cy="1022.0" r="7.4" fill="none" stroke="#000" stroke-width="4.3"/>
<circle cx="670.0" cy="1030.0" r="7.4" fill="none" stroke="#000" stroke-width="4.3"/>
<circle cx="680.0" cy="1032.0" r="7.4" fill="none" stroke="#000" stroke-width="4.3"/>
<circle cx="777.4" cy="1051.5" r="7.4" fill="none" stroke="#000" stroke-width="4.3"/>
<circle cx="779.1" cy="1071.7" r="7.4" fill="none" stroke="#000" stroke-width="4.3"/>
<circle cx="788.4" cy="1085.2" r="7.4" fill="none" stroke="#000" stroke-width="4.3"/>
<circle cx="787.5" cy="1093.6" r="7.4" fill="none" stroke="#000" stroke-width="4.3"/>
<circle cx="797.6" cy="1102.0" r="7.4" fill="none" stroke="#000" stroke-width="4.3"/>
<circle cx="800.0" cy="1102.4" r="7.4" fill="none" stroke="#000" stroke-width="4.3"/>
<circle cx="800.0" cy="1116.3" r="7.4" fill="none" stroke="#000" stroke-width="4.3"/>
<circle cx="800.0" cy="1126.3" r="7.4" fill="none" stroke="#000" stroke-width="4.3"/>
<circle cx="807.5" cy="1109.9" r="7.4" fill="none" stroke="#000" stroke-width="4.3"/>
<circle cx="807.5" cy="1122.4" r="7.4" fill="none" stroke="#000" stroke-width="4.3"/>
<circle cx="807.5" cy="1131.4" r="7.4" fill="none" stroke="#000" stroke-width="4.3"/>
<circle cx="815.0" cy="1117.4" r="7.4" fill="none" stroke="#000" stroke-width="4.3"/>
<circle cx="815.0" cy="1135.4" r="7.4" fill="none" stroke="#000" stroke-width="4.3"/>
<circle cx="822.5" cy="1119.9" r="7.4" fill="none" stroke="#000" stroke-width="4.3"/>
<circle cx="822.5" cy="1129.1" r="7.4" fill="none" stroke="#000" stroke-width="4.3"/>
<circle cx="822.5" cy="1139.6" r="7.4" fill="none" stroke="#000" stroke-width="4.3"/>
<circle cx="830.0" cy="1127.4" r="7.4" fill="none" stroke="#000" stroke-width="4.3"/>
<circle cx="830.0" cy="1135.9" r="7.4" fill="none" stroke="#000" stroke-width="4.3"/>
<circle cx="830.0" cy="1145.7" r="7.4" fill="none" stroke="#000" stroke-width="4.3"/>
<circle cx="837.5" cy="1131.7" r="7.4" fill="none" stroke="#000" stroke-width="4.3"/>
<circle cx="837.5" cy="1140.5" r="7.4" fill="none" stroke="#000" stroke-width="4.3"/>
<circle cx="837.5" cy="1151.6" r="7.4" fill="none" stroke="#000" stroke-width="4.3"/>
<circle cx="845.0" cy="1133.0" r="7.4" fill="none" stroke="#000" stroke-width="4.3"/>
<circle cx="845.0" cy="1144.9" r="7.4" fill="none" stroke="#000" stroke-width="4.3"/>
<circle cx="845.0" cy="1157.3" r="7.4" fill="none" stroke="#000" stroke-width="4.3"/>
<circle cx="852.5" cy="1149.4" r="7.4" fill="none" stroke="#000" stroke-width="4.3"/>
<circle cx="852.5" cy="1163.0" r="7.4" fill="none" stroke="#000" stroke-width="4.3"/>
<circle cx="860.0" cy="1153.2" r="7.4" fill="none" stroke="#000" stroke-width="4.3"/>
<circle cx="860.0" cy="1168.4" r="7.4" fill="none" stroke="#000" stroke-width="4.3"/>
<circle cx="867.5" cy="1157.3" r="7.4" fill="none" stroke="#000" stroke-width="4.3"/>
<circle cx="867.5" cy="1173.4" r="7.4" fill="none" stroke="#000" stroke-width="4.3"/>
<circle cx="875.0" cy="1161.8" r="7.4" fill="none" stroke="#000" stroke-width="4.3"/>
<circle cx="875.0" cy="1175.9" r="7.4" fill="none" stroke="#000" stroke-width="4.3"/>
<circle cx="882.5" cy="1165.9" r="7.4" fill="none" stroke="#000" stroke-width="4.3"/>
<circle cx="882.5" cy="1178.4" r="7.4" fill="none" stroke="#000" stroke-width="4.3"/>
<circle cx="890.0" cy="1168.8" r="7.4" fill="none" stroke="#000" stroke-width="4.3"/>
<circle cx="890.0" cy="1179.7" r="7.4" fill="none" stroke="#000" stroke-width="4.3"/>
<circle cx="897.5" cy="1171.3" r="7.4" fill="none" stroke="#000" stroke-width="4.3"/>
<circle cx="897.5" cy="1182.7" r="7.4" fill="none" stroke="#000" stroke-width="4.3"/>
<circle cx="905.0" cy="1172.9" r="7.4" fill="none" stroke="#000" stroke-width="4.3"/>
<circle cx="905.0" cy="1186.1" r="7.4" fill="none" stroke="#000" stroke-width="4.3"/>
<circle cx="912.5" cy="1174.1" r="7.4" fill="none" stroke="#000" stroke-width="4.3"/>
<circle cx="912.5" cy="1187.6" r="7.4" fill="none" stroke="#000" stroke-width="4.3"/>
<circle cx="920.0" cy="1174.9" r="7.4" fill="none" stroke="#000" stroke-width="4.3"/>
<circle cx="920.0" cy="1190.5" r="7.4" fill="none" stroke="#000" stroke-width="4.3"/>
<circle cx="927.5" cy="1181.9" r="7.4" fill="none" stroke="#000" stroke-width="4.3"/>
<circle cx="927.5" cy="1194.4" r="7.4" fill="none" stroke="#000" stroke-width="4.3"/>
<circle cx="935.0" cy="1189.8" r="7.4" fill="none" stroke="#000" stroke-width="4.3"/>
<circle cx="935.0" cy="1198.5" r="7.4" fill="none" stroke="#000" stroke-width="4.3"/>
<circle cx="942.5" cy="1192.1" r="7.4" fill="none" stroke="#000" stroke-width="4.3"/>
<circle cx="942.5" cy="1201.7" r="7.4" fill="none" stroke="#000" stroke-width="4.3"/>
<circle cx="950.0" cy="1196.1" r="7.4" fill="none" stroke="#000" stroke-width="4.3"/>
<circle cx="950.0" cy="1204.8" r="7.4" fill="none" stroke="#000" stroke-width="4.3"/>
<circle cx="957.5" cy="1200.0" r="7.4" fill="none" stroke="#000" stroke-width="4.3"/>
<circle cx="957.5" cy="1207.8" r="7.4" fill="none" stroke="#000" stroke-width="4.3"/>
<circle cx="965.0" cy="1202.2" r="7.4" fill="none" stroke="#000" stroke-width="4.3"/>
<circle cx="965.0" cy="1210.4" r="7.4" fill="none" stroke="#000" stroke-width="4.3"/>
<circle cx="972.5" cy="1204.9" r="7.4" fill="none" stroke="#000" stroke-width="4.3"/>
<circle cx="972.5" cy="1213.2" r="7.4" fill="none" stroke="#000" stroke-width="4.3"/>
<circle cx="980.0" cy="1209.4" r="7.4" fill="none" stroke="#000" stroke-width="4.3"/>
<circle cx="980.0" cy="1216.9" r="7.4" fill="none" stroke="#000" stroke-width="4.3"/>
<circle cx="987.5" cy="1212.9" r="7.4" fill="none" stroke="#000" stroke-width="4.3"/>
<circle cx="987.5" cy="1220.8" r="7.4" fill="none" stroke="#000" stroke-width="4.3"/>
<circle cx="995.0" cy="1215.7" r="7.4" fill="none" stroke="#000" stroke-width="4.3"/>
<circle cx="995.0" cy="1225.2" r="7.4" fill="none" stroke="#000" stroke-width="4.3"/>
<circle cx="1002.5" cy="1217.2" r="7.4" fill="none" stroke="#000" stroke-width="4.3"/>
<circle cx="1002.5" cy="1228.5" r="7.4" fill="none" stroke="#000" stroke-width="4.3"/>
<circle cx="1010.0" cy="1218.7" r="7.4" fill="none" stroke="#000" stroke-width="4.3"/>
<circle cx="1010.0" cy="1229.0" r="7.4" fill="none" stroke="#000" stroke-width="4.3"/>
<circle cx="1017.5" cy="1221.0" r="7.4" fill="none" stroke="#000" stroke-width="4.3"/>
<circle cx="1017.5" cy="1228.3" r="7.4" fill="none" stroke="#000" stroke-width="4.3"/>
<circle cx="1018.4" cy="1222.5" r="7.4" fill="none" stroke="#000" stroke-width="4.3"/>
<circle cx="1005.5" cy="1222.5" r="7.4" fill="none" stroke="#000" stroke-width="4.3"/>
<circle cx="1065.2" cy="1235.0" r="7.4" fill="none" stroke="#000" stroke-width="4.3"/>
<circle cx="1065.6" cy="1237.5" r="7.4" fill="none" stroke="#000" stroke-width="4.3"/>
<circle cx="1112.3" cy="1245.0" r="7.4" fill="none" stroke="#000" stroke-width="4.3"/>
<circle cx="1112.3" cy="1249.5" r="7.4" fill="none" stroke="#000" stroke-width="4.3"/>
<circle cx="1112.3" cy="1253.8" r="7.4" fill="none" stroke="#000" stroke-width="4.3"/>
<rect x="187.7" y="1457.4" width="14.2" height="14.2" fill="none" stroke="#00f" stroke-width="4.5"/>
<rect x="178.3" y="1466.9" width="14.2" height="14.2" fill="none" stroke="#00f" stroke-width="4.5"/>
<rect x="220.0" y="1445.3" width="14.2" height="14.2" fill="none" stroke="#00f" stroke-width="4.5"/>
<rect x="233.5" y="1446.6" width="14.2" height="14.2" fill="none" stroke="#00f" stroke-width="4.5"/>
<rect x="241.6" y="1431.8" width="14.2" height="14.2" fill="none" stroke="#00f" stroke-width="4.5"/>
<rect x="280.6" y="1433.2" width="14.2" height="14.2" fill="none" stroke="#00f" stroke-width="4.5"/>
<rect x="294.1" y="1433.2" width="14.2" height="14.2" fill="none" stroke="#00f" stroke-width="4.5"/>
<rect x="299.5" y="1411.6" width="14.2" height="14.2" fill="none" stroke="#00f" stroke-width="4.5"/>
<rect x="329.1" y="1407.6" width="14.2" height="14.2" fill="none" stroke="#00f" stroke-width="4.5"/>
<rect x="339.9" y="1391.4" width="14.2" height="14.2" fill="none" stroke="#00f" stroke-width="4.5"/>
<rect x="393.8" y="1383.3" width="14.2" height="14.2" fill="none" stroke="#00f" stroke-width="4.5"/>
<rect x="401.9" y="1377.9" width="14.2" height="14.2" fill="none" stroke="#00f" stroke-width="4.5"/>
<rect x="399.2" y="1373.9" width="14.2" height="14.2" fill="none" stroke="#00f" stroke-width="4.5"/>
<rect x="439.6" y="1356.4" width="14.2" height="14.2" fill="none" stroke="#00f" stroke-width="4.5"/>
<rect x="444.9" y="1365.8" width="14.2" height="14.2" fill="none" stroke="#00f" stroke-width="4.5"/>
<rect x="450.3" y="1342.9" width="14.2" height="14.2" fill="none" stroke="#00f" stroke-width="4.5"/>
<rect x="458.4" y="1346.9" width="14.2" height="14.2" fill="none" stroke="#00f" stroke-width="4.5"/>
<rect x="513.9" y="1327.7" width="14.2" height="14.2" fill="none" stroke="#00f" stroke-width="4.5"/>
<rect x="516.1" y="1325.6" width="14.2" height="14.2" fill="none" stroke="#00f" stroke-width="4.5"/>
<rect x="516.1" y="1327.0" width="14.2" height="14.2" fill="none" stroke="#00f" stroke-width="4.5"/>
<rect x="518.3" y="1320.2" width="14.2" height="14.2" fill="none" stroke="#00f" stroke-width="4.5"/>
<rect x="518.3" y="1326.2" width="14.2" height="14.2" fill="none" stroke="#00f" stroke-width="4.5"/>
<rect x="518.3" y="1328.2" width="14.2" height="14.2" fill="none" stroke="#00f" stroke-width="4.5"/>
<rect x="520.5" y="1314.7" width="14.2" height="14.2" fill="none" stroke="#00f" stroke-width="4.5"/>
<rect x="520.5" y="1322.8" width="14.2" height="14.2" fill="none" stroke="#00f" stroke-width="4.5"/>
<rect x="520.5" y="1329.0" width="14.2" height="14.2" fill="none" stroke="#00f" stroke-width="4.5"/>
<rect x="520.5" y="1329.3" width="14.2" height="14.2" fill="none" stroke="#00f" stroke-width="4.5"/>
<rect x="522.7" y="1309.2" width="14.2" height="14.2" fill="none" stroke="#00f" stroke-width="4.5"/>
<rect x="522.7" y="1310.9" width="14.2" height="14.2" fill="none" stroke="#00f" stroke-width="4.5"/>
<rect x="522.7" y="1319.3" width="14.2" height="14.2" fill="none" stroke="#00f" stroke-width="4.5"/>
<rect x="522.7" y="1318.2" width="14.2" height="14.2" fill="none" stroke="#00f" stroke-width="4.5"/>
<rect x="522.7" y="1329.3" width="14.2" height="14.2" fill="none" stroke="#00f" stroke-width="4.5"/>
<rect x="524.9" y="1308.6" width="14.2" height="14.2" fill="none" stroke="#00f" stroke-width="4.5"/>
<rect x="524.9" y="1317.6" width="14.2" height="14.2" fill="none" stroke="#00f" stroke-width="4.5"/>
<rect x="524.9" y="1319.9" width="14.2" height="14.2" fill="none" stroke="#00f" stroke-width="4.5"/>
<rect x="524.9" y="1321.9" width="14.2" height="14.2" fill="none" stroke="#00f" stroke-width="4.5"/>
<rect x="527.1" y="1308.3" width="14.2" height="14.2" fill="none" stroke="#00f" stroke-width="4.5"/>
<rect x="527.1" y="1312.3" width="14.2" height="14.2" fill="none" stroke="#00f" stroke-width="4.5"/>
<rect x="527.1" y="1313.3" width="14.2" height="14.2" fill="none" stroke="#00f" stroke-width="4.5"/>
<rect x="527.1" y="1321.8" width="14.2" height="14.2" fill="none" stroke="#00f" stroke-width="4.5"/>
<rect x="529.3" y="1308.0" width="14.2" height="14.2" fill="none" stroke="#00f" stroke-width="4.5"/>
<rect x="529.3" y="1311.4" width="14.2" height="14.2" fill="none" stroke="#00f" stroke-width="4.5"/>
<rect x="529.3" y="1320.2" width="14.2" height="14.2" fill="none" stroke="#00f" stroke-width="4.5"/>
<rect x="529.3" y="1321.7" width="14.2" height="14.2" fill="none" stroke="#00f" stroke-width="4.5"/>
<rect x="531.5" y="1307.7" width="14.2" height="14.2" fill="none" stroke="#00f" stroke-width="4.5"/>
<rect x="531.5" y="1321.5" width="14.2" height="14.2" fill="none" stroke="#00f" stroke-width="4.5"/>
<rect x="531.5" y="1310.9" width="14.2" height="14.2" fill="none" stroke="#00f" stroke-width="4.5"/>
<rect x="531.5" y="1321.7" width="14.2" height="14.2" fill="none" stroke="#00f" stroke-width="4.5"/>
<rect x="533.7" y="1307.4" width="14.2" height="14.2" fill="none" stroke="#00f" stroke-width="4.5"/>
<rect x="533.7" y="1308.9" width="14.2" height="14.2" fill="none" stroke="#00f" stroke-width="4.5"/>
<rect x="533.7" y="1319.0" width="14.2" height="14.2" fill="none" stroke="#00f" stroke-width="4.5"/>
<rect x="533.7" y="1321.6" width="14.2" height="14.2" fill="none" stroke="#00f" stroke-width="4.5"/>
<rect x="535.9" y="1307.1" width="14.2" height="14.2" fill="none" stroke="#00f" stroke-width="4.5"/>
<rect x="535.9" y="1311.3" width="14.2" height="14.2" fill="none" stroke="#00f" stroke-width="4.5"/>
<rect x="535.9" y="1309.9" width="14.2" height="14.2" fill="none" stroke="#00f" stroke-width="4.5"/>
<rect x="535.9" y="1321.5" width="14.2" height="14.2" fill="none" stroke="#00f" stroke-width="4.5"/>
<rect x="538.1" y="1306.8" width="14.2" height="14.2" fill="none" stroke="#00f" stroke-width="4.5"/>
<rect x="538.1" y="1312.3" width="14.2" height="14.2" fill="none" stroke="#00f" stroke-width="4.5"/>
<rect x="538.1" y="1313.4" width="14.2" height="14.2" fill="none" stroke="#00f" stroke-width="4.5"/>
<rect x="538.1" y="1321.4" width="14.2" height="14.2" fill="none" stroke="#00f" stroke-width="4.5"/>
<rect x="540.3" y="1306.6" width="14.2" height="14.2" fill="none" stroke="#00f" stroke-width="4.5"/>
<rect x="540.3" y="1308.1" width="14.2" height="14.2" fill="none" stroke="#00f" stroke-width="4.5"/>
<rect x="540.3" y="1315.7" width="14.2" height="14.2" fill="none" stroke="#00f" stroke-width="4.5"/>
<rect x="540.3" y="1321.3" width="14.2" height="14.2" fill="none" stroke="#00f" stroke-width="4.5"/>
<rect x="542.5" y="1304.6" width="14.2" height="14.2" fill="none" stroke="#00f" stroke-width="4.5"/>
<rect x="542.5" y="1308.0" width="14.2" height="14.2" fill="none" stroke="#00f" stroke-width="4.5"/>
<rect x="542.5" y="1314.5" width="14.2" height="14.2" fill="none" stroke="#00f" stroke-width="4.5"/>
<rect x="542.5" y="1321.2" width="14.2" height="14.2" fill="none" stroke="#00f" stroke-width="4.5"/>
<rect x="544.7" y="1301.6" width="14.2" height="14.2" fill="none" stroke="#00f" stroke-width="4.5"/>
<rect x="544.7" y="1308.0" width="14.2" height="14.2" fill="none" stroke="#00f" stroke-width="4.5"/>
<rect x="544.7" y="1305.2" width="14.2" height="14.2" fill="none" stroke="#00f" stroke-width="4.5"/>
<rect x="544.7" y="1305.6" width="14.2" height="14.2" fill="none" stroke="#00f" stroke-width="4.5"/>
<rect x="544.7" y="1321.1" width="14.2" height="14.2" fill="none" stroke="#00f" stroke-width="4.5"/>
<rect x="546.9" y="1300.0" width="14.2" height="14.2" fill="none" stroke="#00f" stroke-width="4.5"/>
<rect x="546.9" y="1302.1" width="14.2" height="14.2" fill="none" stroke="#00f" stroke-width="4.5"/>
<rect x="546.9" y="1311.5" width="14.2" height="14.2" fill="none" stroke="#00f" stroke-width="4.5"/>
<rect x="546.9" y="1301.9" width="14.2" height="14.2" fill="none" stroke="#00f" stroke-width="4.5"/>
<rect x="546.9" y="1321.0" width="14.2" height="14.2" fill="none" stroke="#00f" stroke-width="4.5"/>
<rect x="549.1" y="1299.8" width="14.2" height="14.2" fill="none" stroke="#00f" stroke-width="4.5"/>
<rect x="549.1" y="1305.8" width="14.2" height="14.2" fill="none" stroke="#00f" stroke-width="4.5"/>
<rect x="549.1" y="1319.9" width="14.2" height="14.2" fill="none" stroke="#00f" stroke-width="4.5"/>
<rect x="549.1" y="1311.7" width="14.2" height="14.2" fill="none" stroke="#00f" stroke-width="4.5"/>
<rect x="549.1" y="1320.9" width="14.2" height="14.2" fill="none" stroke="#00f" stroke-width="4.5"/>
<rect x="551.3" y="1299.6" width="14.2" height="14.2" fill="none" stroke="#00f" stroke-width="4.5"/>
<rect x="551.3" y="1320.7" width="14.2" height="14.2" fill="none" stroke="#00f" stroke-width="4.5"/>
<rect x="551.3" y="1303.8" width="14.2" height="14.2" fill="none" stroke="#00f" stroke-width="4.5"/>
<rect x="551.3" y="1303.9" width="14.2" height="14.2" fill="none" stroke="#00f" stroke-width="4.5"/>
<rect x="551.3" y="1320.8" width="14.2" height="14.2" fill="none" stroke="#00f" stroke-width="4.5"/>
<rect x="553.5" y="1299.4" width="14.2" height="14.2" fill="none" stroke="#00f" stroke-width="4.5"/>
<rect x="553.5" y="1314.9" width="14.2" height="14.2" fill="none" stroke="#00f" stroke-width="4.5"/>
<rect x="553.5" y="1316.1" width="14.2" height="14.2" fill="none" stroke="#00f" stroke-width="4.5"/>
<rect x="553.5" y="1302.5" width="14.2" height="14.2" fill="none" stroke="#00f" stroke-width="4.5"/>
<rect x="553.5" y="1318.3" width="14.2" height="14.2" fill="none" stroke="#00f" stroke-width="4.5"/>
<rect x="555.7" y="1299.2" width="14.2" height="14.2" fill="none" stroke="#00f" stroke-width="4.5"/>
<rect x="555.7" y="1313.7" width="14.2" height="14.2" fill="none" stroke="#00f" stroke-width="4.5"/>
<rect x="555.7" y="1309.1" width="14.2" height="14.2" fill="none" stroke="#00f" stroke-width="4.5"/>
<rect x="555.7" y="1315.1" width="14.2" height="14.2" fill="none" stroke="#00f" stroke-width="4.5"/>
<rect x="557.9" y="1299.0" width="14.2" height="14.2" fill="none" stroke="#00f" stroke-width="4.5"/>
<rect x="557.9" y="1302.9" width="14.2" height="14.2" fill="none" stroke="#00f" stroke-width="4.5"/>
<rect x="557.9" y="1311.8" width="14.2" height="14.2" fill="none" stroke="#00f" stroke-width="4.5"/>
<rect x="557.9" y="1312.9" width="14.2" height="14.2" fill="none" stroke="#00f" stroke-width="4.5"/>
<rect x="560.1" y="1298.8" width="14.2" height="14.2" fill="none" stroke="#00f" stroke-width="4.5"/>
<rect x="560.1" y="1310.9" width="14.2" height="14.2" fill="none" stroke="#00f" stroke-width="4.5"/>
<rect x="560.1" y="1311.3" width="14.2" height="14.2" fill="none" stroke="#00f" stroke-width="4.5"/>
<rect x="562.3" y="1298.7" width="14.2" height="14.2" fill="none" stroke="#00f" stroke-width="4.5"/>
<rect x="562.3" y="1309.4" width="14.2" height="14.2" fill="none" stroke="#00f" stroke-width="4.5"/>
<rect x="562.3" y="1309.7" width="14.2" height="14.2" fill="none" stroke="#00f" stroke-width="4.5"/>
<rect x="564.5" y="1298.5" width="14.2" height="14.2" fill="none" stroke="#00f" stroke-width="4.5"/>
<rect x="564.5" y="1302.2" width="14.2" height="14.2" fill="none" stroke="#00f" stroke-width="4.5"/>
<rect x="564.5" y="1308.1" width="14.2" height="14.2" fill="none" stroke="#00f" stroke-width="4.5"/>
<rect x="566.7" y="1298.3" width="14.2" height="14.2" fill="none" stroke="#00f" stroke-width="4.5"/>
<rect x="566.7" y="1299.8" width="14.2" height="14.2" fill="none" stroke="#00f" stroke-width="4.5"/>
<rect x="566.7" y="1307.7" width="14.2" height="14.2" fill="none" stroke="#00f" stroke-width="4.5"/>
<rect x="568.9" y="1292.0" width="14.2" height="14.2" fill="none" stroke="#00f" stroke-width="4.5"/>
<rect x="568.9" y="1305.2" width="14.2" height="14.2" fill="none" stroke="#00f" stroke-width="4.5"/>
<rect x="568.9" y="1294.9" width="14.2" height="14.2" fill="none" stroke="#00f" stroke-width="4.5"/>
<rect x="568.9" y="1307.6" width="14.2" height="14.2" fill="none" stroke="#00f" stroke-width="4.5"/>
<rect x="571.1" y="1291.2" width="14.2" height="14.2" fill="none" stroke="#00f" stroke-width="4.5"/>
<rect x="571.1" y="1297.5" width="14.2" height="14.2" fill="none" stroke="#00f" stroke-width="4.5"/>
<rect x="571.1" y="1295.3" width="14.2" height="14.2" fill="none" stroke="#00f" stroke-width="4.5"/>
<rect x="571.1" y="1307.5" width="14.2" height="14.2" fill="none" stroke="#00f" stroke-width="4.5"/>
<rect x="573.3" y="1290.5" width="14.2" height="14.2" fill="none" stroke="#00f" stroke-width="4.5"/>
<rect x="573.3" y="1300.0" width="14.2" height="14.2" fill="none" stroke="#00f" stroke-width="4.5"/>
<rect x="573.3" y="1291.1" width="14.2" height="14.2" fill="none" stroke="#00f" stroke-width="4.5"/>
<rect x="573.3" y="1307.3" width="14.2" height="14.2" fill="none" stroke="#00f" stroke-width="4.5"/>
<rect x="575.5" y="1289.7" width="14.2" height="14.2" fill="none" stroke="#00f" stroke-width="4.5"/>
<rect x="575.5" y="1299.3" width="14.2" height="14.2" fill="none" stroke="#00f" stroke-width="4.5"/>
<rect x="575.5" y="1295.1" width="14.2" height="14.2" fill="none" stroke="#00f" stroke-width="4.5"/>
<rect x="575.5" y="1299.9" width="14.2" height="14.2" fill="none" stroke="#00f" stroke-width="4.5"/>
<rect x="575.5" y="1307.2" width="14.2" height="14.2" fill="none" stroke="#00f" stroke-width="4.5"/>
<rect x="577.7" y="1288.9" width="14.2" height="14.2" fill="none" stroke="#00f" stroke-width="4.5"/>
<rect x="577.7" y="1296.9" width="14.2" height="14.2" fill="none" stroke="#00f" stroke-width="4.5"/>
<rect x="577.7" y="1300.2" width="14.2" height="14.2" fill="none" stroke="#00f" stroke-width="4.5"/>
<rect x="577.7" y="1293.2" width="14.2" height="14.2" fill="none" stroke="#00f" stroke-width="4.5"/>
<rect x="577.7" y="1307.1" width="14.2" height="14.2" fill="none" stroke="#00f" stroke-width="4.5"/>
<rect x="579.9" y="1288.1" width="14.2" height="14.2" fill="none" stroke="#00f" stroke-width="4.5"/>
<rect x="579.9" y="1291.5" width="14.2" height="14.2" fill="none" stroke="#00f" stroke-width="4.5"/>
<rect x="579.9" y="1290.1" width="14.2" height="14.2" fill="none" stroke="#00f" stroke-width="4.5"/>
<rect x="579.9" y="1296.2" width="14.2" height="14.2" fill="none" stroke="#00f" stroke-width="4.5"/>
<rect x="579.9" y="1306.9" width="14.2" height="14.2" fill="none" stroke="#00f" stroke-width="4.5"/>
<rect x="582.1" y="1286.7" width="14.2" height="14.2" fill="none" stroke="#00f" stroke-width="4.5"/>
<rect x="582.1" y="1287.5" width="14.2" height="14.2" fill="none" stroke="#00f" stroke-width="4.5"/>
<rect x="582.1" y="1288.3" width="14.2" height="14.2" fill="none" stroke="#00f" stroke-width="4.5"/>
<rect x="582.1" y="1302.3" width="14.2" height="14.2" fill="none" stroke="#00f" stroke-width="4.5"/>
<rect x="582.1" y="1306.8" width="14.2" height="14.2" fill="none" stroke="#00f" stroke-width="4.5"/>
<rect x="584.3" y="1284.2" width="14.2" height="14.2" fill="none" stroke="#00f" stroke-width="4.5"/>
<rect x="584.3" y="1292.7" width="14.2" height="14.2" fill="none" stroke="#00f" stroke-width="4.5"/>
<rect x="584.3" y="1287.3" width="14.2" height="14.2" fill="none" stroke="#00f" stroke-width="4.5"/>
<rect x="584.3" y="1306.6" width="14.2" height="14.2" fill="none" stroke="#00f" stroke-width="4.5"/>
<rect x="584.3" y="1306.7" width="14.2" height="14.2" fill="none" stroke="#00f" stroke-width="4.5"/>
<rect x="586.5" y="1281.7" width="14.2" height="14.2" fill="none" stroke="#00f" stroke-width="4.5"/>
<rect x="586.5" y="1304.8" width="14.2" height="14.2" fill="none" stroke="#00f" stroke-width="4.5"/>
<rect x="586.5" y="1304.3" width="14.2" height="14.2" fill="none" stroke="#00f" stroke-width="4.5"/>
<rect x="586.5" y="1285.6" width="14.2" height="14.2" fill="none" stroke="#00f" stroke-width="4.5"/>
<rect x="586.5" y="1303.6" width="14.2" height="14.2" fill="none" stroke="#00f" stroke-width="4.5"/>
<rect x="586.5" y="1305.3" width="14.2" height="14.2" fill="none" stroke="#00f" stroke-width="4.5"/>
<rect x="588.7" y="1279.2" width="14.2" height="14.2" fill="none" stroke="#00f" stroke-width="4.5"/>
<rect x="588.7" y="1283.1" width="14.2" height="14.2" fill="none" stroke="#00f" stroke-width="4.5"/>
<rect x="588.7" y="1285.9" width="14.2" height="14.2" fill="none" stroke="#00f" stroke-width="4.5"/>
<rect x="588.7" y="1282.7" width="14.2" height="14.2" fill="none" stroke="#00f" stroke-width="4.5"/>
<rect x="588.7" y="1301.5" width="14.2" height="14.2" fill="none" stroke="#00f" stroke-width="4.5"/>
<rect x="588.7" y="1303.5" width="14.2" height="14.2" fill="none" stroke="#00f" stroke-width="4.5"/>
<rect x="590.9" y="1276.9" width="14.2" height="14.2" fill="none" stroke="#00f" stroke-width="4.5"/>
<rect x="590.9" y="1284.8" width="14.2" height="14.2" fill="none" stroke="#00f" stroke-width="4.5"/>
<rect x="590.9" y="1281.4" width="14.2" height="14.2" fill="none" stroke="#00f" stroke-width="4.5"/>
<rect x="590.9" y="1300.0" width="14.2" height="14.2" fill="none" stroke="#00f" stroke-width="4.5"/>
<rect x="590.9" y="1299.0" width="14.2" height="14.2" fill="none" stroke="#00f" stroke-width="4.5"/>
<rect x="590.9" y="1301.6" width="14.2" height="14.2" fill="none" stroke="#00f" stroke-width="4.5"/>
<rect x="593.1" y="1275.2" width="14.2" height="14.2" fill="none" stroke="#00f" stroke-width="4.5"/>
<rect x="593.1" y="1288.6" width="14.2" height="14.2" fill="none" stroke="#00f" stroke-width="4.5"/>
<rect x="593.1" y="1284.3" width="14.2" height="14.2" fill="none" stroke="#00f" stroke-width="4.5"/>
<rect x="593.1" y="1289.3" width="14.2" height="14.2" fill="none" stroke="#00f" stroke-width="4.5"/>
<rect x="593.1" y="1297.6" width="14.2" height="14.2" fill="none" stroke="#00f" stroke-width="4.5"/>
<rect x="593.1" y="1300.5" width="14.2" height="14.2" fill="none" stroke="#00f" stroke-width="4.5"/>
<rect x="595.3" y="1273.5" width="14.2" height="14.2" fill="none" stroke="#00f" stroke-width="4.5"/>
<rect x="595.3" y="1284.0" width="14.2" height="14.2" fill="none" stroke="#00f" stroke-width="4.5"/>
<rect x="595.3" y="1280.5" width="14.2" height="14.2" fill="none" stroke="#00f" stroke-width="4.5"/>
<rect x="595.3" y="1288.9" width="14.2" height="14.2" fill="none" stroke="#00f" stroke-width="4.5"/>
<rect x="595.3" y="1293.9" width="14.2" height="14.2" fill="none" stroke="#00f" stroke-width="4.5"/>
<rect x="595.3" y="1300.1" width="14.2" height="14.2" fill="none" stroke="#00f" stroke-width="4.5"/>
<rect x="597.5" y="1272.8" width="14.2" height="14.2" fill="none" stroke="#00f" stroke-width="4.5"/>
<rect x="597.5" y="1274.1" width="14.2" height="14.2" fill="none" stroke="#00f" stroke-width="4.5"/>
<rect x="597.5" y="1279.6" width="14.2" height="14.2" fill="none" stroke="#00f" stroke-width="4.5"/>
<rect x="597.5" y="1299.3" width="14.2" height="14.2" fill="none" stroke="#00f" stroke-width="4.5"/>
<rect x="597.5" y="1290.7" width="14.2" height="14.2" fill="none" stroke="#00f" stroke-width="4.5"/>
<rect x="597.5" y="1299.7" width="14.2" height="14.2" fill="none" stroke="#00f" stroke-width="4.5"/>
<rect x="599.7" y="1272.2" width="14.2" height="14.2" fill="none" stroke="#00f" stroke-width="4.5"/>
<rect x="599.7" y="1276.2" width="14.2" height="14.2" fill="none" stroke="#00f" stroke-width="4.5"/>
<rect x="599.7" y="1283.9" width="14.2" height="14.2" fill="none" stroke="#00f" stroke-width="4.5"/>
<rect x="599.7" y="1296.5" width="14.2" height="14.2" fill="none" stroke="#00f" stroke-width="4.5"/>
<rect x="599.7" y="1278.3" width="14.2" height="14.2" fill="none" stroke="#00f" stroke-width="4.5"/>
<rect x="599.7" y="1299.3" width="14.2" height="14.2" fill="none" stroke="#00f" stroke-width="4.5"/>
<rect x="601.9" y="1271.5" width="14.2" height="14.2" fill="none" stroke="#00f" stroke-width="4.5"/>
<rect x="601.9" y="1281.2" width="14.2" height="14.2" fill="none" stroke="#00f" stroke-width="4.5"/>
<rect x="601.9" y="1281.3" width="14.2" height="14.2" fill="none" stroke="#00f" stroke-width="4.5"/>
<rect x="601.9" y="1287.5" width="14.2" height="14.2" fill="none" stroke="#00f" stroke-width="4.5"/>
<rect x="601.9" y="1277.1" width="14.2" height="14.2" fill="none" stroke="#00f" stroke-width="4.5"/>
<rect x="601.9" y="1298.9" width="14.2" height="14.2" fill="none" stroke="#00f" stroke-width="4.5"/>
<rect x="604.1" y="1270.9" width="14.2" height="14.2" fill="none" stroke="#00f" stroke-width="4.5"/>
<rect x="604.1" y="1296.7" width="14.2" height="14.2" fill="none" stroke="#00f" stroke-width="4.5"/>
<rect x="604.1" y="1275.0" width="14.2" height="14.2" fill="none" stroke="#00f" stroke-width="4.5"/>
<rect x="604.1" y="1288.5" width="14.2" height="14.2" fill="none" stroke="#00f" stroke-width="4.5"/>
<rect x="604.1" y="1292.5" width="14.2" height="14.2" fill="none" stroke="#00f" stroke-width="4.5"/>
<rect x="604.1" y="1278.2" width="14.2" height="14.2" fill="none" stroke="#00f" stroke-width="4.5"/>
<rect x="604.1" y="1298.5" width="14.2" height="14.2" fill="none" stroke="#00f" stroke-width="4.5"/>
<rect x="606.3" y="1270.2" width="14.2" height="14.2" fill="none" stroke="#00f" stroke-width="4.5"/>
<rect x="606.3" y="1280.0" width="14.2" height="14.2" fill="none" stroke="#00f" stroke-width="4.5"/>
<rect x="606.3" y="1282.6" width="14.2" height="14.2" fill="none" stroke="#00f" stroke-width="4.5"/>
<rect x="606.3" y="1290.7" width="14.2" height="14.2" fill="none" stroke="#00f" stroke-width="4.5"/>
<rect x="606.3" y="1295.4" width="14.2" height="14.2" fill="none" stroke="#00f" stroke-width="4.5"/>
<rect x="606.3" y="1285.0" width="14.2" height="14.2" fill="none" stroke="#00f" stroke-width="4.5"/>
<rect x="606.3" y="1298.1" width="14.2" height="14.2" fill="none" stroke="#00f" stroke-width="4.5"/>
<rect x="608.5" y="1269.5" width="14.2" height="14.2" fill="none" stroke="#00f" stroke-width="4.5"/>
<rect x="608.5" y="1291.5" width="14.2" height="14.2" fill="none" stroke="#00f" stroke-width="4.5"/>
<rect x="608.5" y="1285.1" width="14.2" height="14.2" fill="none" stroke="#00f" stroke-width="4.5"/>
<rect x="608.5" y="1273.6" width="14.2" height="14.2" fill="none" stroke="#00f" stroke-width="4.5"/>
<rect x="608.5" y="1286.7" width="14.2" height="14.2" fill="none" stroke="#00f" stroke-width="4.5"/>
<rect x="608.5" y="1287.6" width="14.2" height="14.2" fill="none" stroke="#00f" stroke-width="4.5"/>
<rect x="608.5" y="1297.7" width="14.2" height="14.2" fill="none" stroke="#00f" stroke-width="4.5"/>
<rect x="610.7" y="1268.9" width="14.2" height="14.2" fill="none" stroke="#00f" stroke-width="4.5"/>
<rect x="610.7" y="1277.4" width="14.2" height="14.2" fill="none" stroke="#00f" stroke-width="4.5"/>
<rect x="610.7" y="1294.1" width="14.2" height="14.2" fill="none" stroke="#00f" stroke-width="4.5"/>
<rect x="610.7" y="1289.2" width="14.2" height="14.2" fill="none" stroke="#00f" stroke-width="4.5"/>
<rect x="610.7" y="1292.9" width="14.2" height="14.2" fill="none" stroke="#00f" stroke-width="4.5"/>
<rect x="610.7" y="1282.1" width="14.2" height="14.2" fill="none" stroke="#00f" stroke-width="4.5"/>
<rect x="610.7" y="1297.3" width="14.2" height="14.2" fill="none" stroke="#00f" stroke-width="4.5"/>
<rect x="612.9" y="1268.2" width="14.2" height="14.2" fill="none" stroke="#00f" stroke-width="4.5"/>
<rect x="612.9" y="1271.1" width="14.2" height="14.2" fill="none" stroke="#00f" stroke-width="4.5"/>
<rect x="612.9" y="1269.3" width="14.2" height="14.2" fill="none" stroke="#00f" stroke-width="4.5"/>
<rect x="612.9" y="1288.4" width="14.2" height="14.2" fill="none" stroke="#00f" stroke-width="4.5"/>
<rect x="612.9" y="1291.0" width="14.2" height="14.2" fill="none" stroke="#00f" stroke-width="4.5"/>
<rect x="612.9" y="1295.2" width="14.2" height="14.2" fill="none" stroke="#00f" stroke-width="4.5"/>
<rect x="615.1" y="1267.6" width="14.2" height="14.2" fill="none" stroke="#00f" stroke-width="4.5"/>
<rect x="615.1" y="1278.6" width="14.2" height="14.2" fill="none" stroke="#00f" stroke-width="4.5"/>
<rect x="615.1" y="1280.9" width="14.2" height="14.2" fill="none" stroke="#00f" stroke-width="4.5"/>
<rect x="615.1" y="1283.9" width="14.2" height="14.2" fill="none" stroke="#00f" stroke-width="4.5"/>
<rect x="615.1" y="1273.1" width="14.2" height="14.2" fill="none" stroke="#00f" stroke-width="4.5"/>
<rect x="615.1" y="1292.9" width="14.2" height="14.2" fill="none" stroke="#00f" stroke-width="4.5"/>
<rect x="617.3" y="1266.9" width="14.2" height="14.2" fill="none" stroke="#00f" stroke-width="4.5"/>
<rect x="617.3" y="1272.6" width="14.2" height="14.2" fill="none" stroke="#00f" stroke-width="4.5"/>
<rect x="617.3" y="1289.4" width="14.2" height="14.2" fill="none" stroke="#00f" stroke-width="4.5"/>
<rect x="617.3" y="1274.7" width="14.2" height="14.2" fill="none" stroke="#00f" stroke-width="4.5"/>
<rect x="617.3" y="1274.7" width="14.2" height="14.2" fill="none" stroke="#00f" stroke-width="4.5"/>
<rect x="617.3" y="1290.7" width="14.2" height="14.2" fill="none" stroke="#00f" stroke-width="4.5"/>
<rect x="619.5" y="1266.0" width="14.2" height="14.2" fill="none" stroke="#00f" stroke-width="4.5"/>
<rect x="619.5" y="1280.3" width="14.2" height="14.2" fill="none" stroke="#00f" stroke-width="4.5"/>
<rect x="619.5" y="1286.2" width="14.2" height="14.2" fill="none" stroke="#00f" stroke-width="4.5"/>
<rect x="619.5" y="1283.3" width="14.2" height="14.2" fill="none" stroke="#00f" stroke-width="4.5"/>
<rect x="619.5" y="1286.7" width="14.2" height="14.2" fill="none" stroke="#00f" stroke-width="4.5"/>
<rect x="621.7" y="1264.0" width="14.2" height="14.2" fill="none" stroke="#00f" stroke-width="4.5"/>
<rect x="621.7" y="1277.1" width="14.2" height="14.2" fill="none" stroke="#00f" stroke-width="4.5"/>
<rect x="621.7" y="1269.6" width="14.2" height="14.2" fill="none" stroke="#00f" stroke-width="4.5"/>
<rect x="621.7" y="1275.2" width="14.2" height="14.2" fill="none" stroke="#00f" stroke-width="4.5"/>
<rect x="621.7" y="1282.0" width="14.2" height="14.2" fill="none" stroke="#00f" stroke-width="4.5"/>
<rect x="623.9" y="1262.1" width="14.2" height="14.2" fill="none" stroke="#00f" stroke-width="4.5"/>
<rect x="623.9" y="1262.5" width="14.2" height="14.2" fill="none" stroke="#00f" stroke-width="4.5"/>
<rect x="623.9" y="1276.3" width="14.2" height="14.2" fill="none" stroke="#00f" stroke-width="4.5"/>
<rect x="623.9" y="1277.4" width="14.2" height="14.2" fill="none" stroke="#00f" stroke-width="4.5"/>
<rect x="626.1" y="1260.2" width="14.2" height="14.2" fill="none" stroke="#00f" stroke-width="4.5"/>
<rect x="626.1" y="1260.7" width="14.2" height="14.2" fill="none" stroke="#00f" stroke-width="4.5"/>
<rect x="626.1" y="1272.7" width="14.2" height="14.2" fill="none" stroke="#00f" stroke-width="4.5"/>
<rect x="628.3" y="1258.3" width="14.2" height="14.2" fill="none" stroke="#00f" stroke-width="4.5"/>
<rect x="628.3" y="1266.1" width="14.2" height="14.2" fill="none" stroke="#00f" stroke-width="4.5"/>
<rect x="628.3" y="1268.9" width="14.2" height="14.2" fill="none" stroke="#00f" stroke-width="4.5"/>
<rect x="630.5" y="1256.5" width="14.2" height="14.2" fill="none" stroke="#00f" stroke-width="4.5"/>
<rect x="630.5" y="1264.6" width="14.2" height="14.2" fill="none" stroke="#00f" stroke-width="4.5"/>
<rect x="630.5" y="1266.4" width="14.2" height="14.2" fill="none" stroke="#00f" stroke-width="4.5"/>
<rect x="632.7" y="1254.9" width="14.2" height="14.2" fill="none" stroke="#00f" stroke-width="4.5"/>
<rect x="632.7" y="1262.7" width="14.2" height="14.2" fill="none" stroke="#00f" stroke-width="4.5"/>
<rect x="632.7" y="1263.9" width="14.2" height="14.2" fill="none" stroke="#00f" stroke-width="4.5"/>
<rect x="634.9" y="1253.3" width="14.2" height="14.2" fill="none" stroke="#00f" stroke-width="4.5"/>
<rect x="634.9" y="1255.0" width="14.2" height="14.2" fill="none" stroke="#00f" stroke-width="4.5"/>
<rect x="634.9" y="1261.4" width="14.2" height="14.2" fill="none" stroke="#00f" stroke-width="4.5"/>
<rect x="637.1" y="1251.7" width="14.2" height="14.2" fill="none" stroke="#00f" stroke-width="4.5"/>
<rect x="637.1" y="1258.9" width="14.2" height="14.2" fill="none" stroke="#00f" stroke-width="4.5"/>
<rect x="639.3" y="1250.3" width="14.2" height="14.2" fill="none" stroke="#00f" stroke-width="4.5"/>
<rect x="639.3" y="1256.5" width="14.2" height="14.2" fill="none" stroke="#00f" stroke-width="4.5"/>
<rect x="641.5" y="1248.9" width="14.2" height="14.2" fill="none" stroke="#00f" stroke-width="4.5"/>
<rect x="641.5" y="1254.0" width="14.2" height="14.2" fill="none" stroke="#00f" stroke-width="4.5"/>
<rect x="643.7" y="1247.4" width="14.2" height="14.2" fill="none" stroke="#00f" stroke-width="4.5"/>
<rect x="643.7" y="1251.7" width="14.2" height="14.2" fill="none" stroke="#00f" stroke-width="4.5"/>
<rect x="645.9" y="1246.0" width="14.2" height="14.2" fill="none" stroke="#00f" stroke-width="4.5"/>
<rect x="645.9" y="1252.2" width="14.2" height="14.2" fill="none" stroke="#00f" stroke-width="4.5"/>
<rect x="648.1" y="1244.6" width="14.2" height="14.2" fill="none" stroke="#00f" stroke-width="4.5"/>
<rect x="648.1" y="1248.0" width="14.2" height="14.2" fill="none" stroke="#00f" stroke-width="4.5"/>
<rect x="648.1" y="1252.7" width="14.2" height="14.2" fill="none" stroke="#00f" stroke-width="4.5"/>
<rect x="650.3" y="1243.0" width="14.2" height="14.2" fill="none" stroke="#00f" stroke-width="4.5"/>
<rect x="650.3" y="1250.3" width="14.2" height="14.2" fill="none" stroke="#00f" stroke-width="4.5"/>
<rect x="650.3" y="1253.2" width="14.2" height="14.2" fill="none" stroke="#00f" stroke-width="4.5"/>
<rect x="652.5" y="1241.3" width="14.2" height="14.2" fill="none" stroke="#00f" stroke-width="4.5"/>
<rect x="652.5" y="1246.8" width="14.2" height="14.2" fill="none" stroke="#00f" stroke-width="4.5"/>
<rect x="652.5" y="1252.1" width="14.2" height="14.2" fill="none" stroke="#00f" stroke-width="4.5"/>
<rect x="654.7" y="1239.7" width="14.2" height="14.2" fill="none" stroke="#00f" stroke-width="4.5"/>
<rect x="654.7" y="1244.8" width="14.2" height="14.2" fill="none" stroke="#00f" stroke-width="4.5"/>
<rect x="654.7" y="1252.1" width="14.2" height="14.2" fill="none" stroke="#00f" stroke-width="4.5"/>
<rect x="656.9" y="1238.1" width="14.2" height="14.2" fill="none" stroke="#00f" stroke-width="4.5"/>
<rect x="656.9" y="1248.3" width="14.2" height="14.2" fill="none" stroke="#00f" stroke-width="4.5"/>
<rect x="656.9" y="1241.2" width="14.2" height="14.2" fill="none" stroke="#00f" stroke-width="4.5"/>
<rect x="656.9" y="1252.5" width="14.2" height="14.2" fill="none" stroke="#00f" stroke-width="4.5"/>
<rect x="659.1" y="1236.4" width="14.2" height="14.2" fill="none" stroke="#00f" stroke-width="4.5"/>
<rect x="659.1" y="1239.2" width="14.2" height="14.2" fill="none" stroke="#00f" stroke-width="4.5"/>
<rect x="659.1" y="1239.8" width="14.2" height="14.2" fill="none" stroke="#00f" stroke-width="4.5"/>
<rect x="659.1" y="1253.0" width="14.2" height="14.2" fill="none" stroke="#00f" stroke-width="4.5"/>
<rect x="661.3" y="1234.8" width="14.2" height="14.2" fill="none" stroke="#00f" stroke-width="4.5"/>
<rect x="661.3" y="1243.6" width="14.2" height="14.2" fill="none" stroke="#00f" stroke-width="4.5"/>
<rect x="661.3" y="1249.1" width="14.2" height="14.2" fill="none" stroke="#00f" stroke-width="4.5"/>
<rect x="661.3" y="1243.6" width="14.2" height="14.2" fill="none" stroke="#00f" stroke-width="4.5"/>
<rect x="661.3" y="1252.7" width="14.2" height="14.2" fill="none" stroke="#00f" stroke-width="4.5"/>
<rect x="663.5" y="1230.6" width="14.2" height="14.2" fill="none" stroke="#00f" stroke-width="4.5"/>
<rect x="663.5" y="1250.7" width="14.2" height="14.2" fill="none" stroke="#00f" stroke-width="4.5"/>
<rect x="663.5" y="1235.2" width="14.2" height="14.2" fill="none" stroke="#00f" stroke-width="4.5"/>
<rect x="663.5" y="1241.2" width="14.2" height="14.2" fill="none" stroke="#00f" stroke-width="4.5"/>
<rect x="663.5" y="1251.9" width="14.2" height="14.2" fill="none" stroke="#00f" stroke-width="4.5"/>
<rect x="665.7" y="1226.5" width="14.2" height="14.2" fill="none" stroke="#00f" stroke-width="4.5"/>
<rect x="665.7" y="1246.9" width="14.2" height="14.2" fill="none" stroke="#00f" stroke-width="4.5"/>
<rect x="665.7" y="1246.9" width="14.2" height="14.2" fill="none" stroke="#00f" stroke-width="4.5"/>
<rect x="665.7" y="1235.7" width="14.2" height="14.2" fill="none" stroke="#00f" stroke-width="4.5"/>
<rect x="665.7" y="1236.7" width="14.2" height="14.2" fill="none" stroke="#00f" stroke-width="4.5"/>
<rect x="665.7" y="1252.4" width="14.2" height="14.2" fill="none" stroke="#00f" stroke-width="4.5"/>
<rect x="667.9" y="1226.3" width="14.2" height="14.2" fill="none" stroke="#00f" stroke-width="4.5"/>
<rect x="667.9" y="1226.9" width="14.2" height="14.2" fill="none" stroke="#00f" stroke-width="4.5"/>
<rect x="667.9" y="1233.3" width="14.2" height="14.2" fill="none" stroke="#00f" stroke-width="4.5"/>
<rect x="667.9" y="1239.6" width="14.2" height="14.2" fill="none" stroke="#00f" stroke-width="4.5"/>
<rect x="667.9" y="1249.8" width="14.2" height="14.2" fill="none" stroke="#00f" stroke-width="4.5"/>
<rect x="667.9" y="1252.9" width="14.2" height="14.2" fill="none" stroke="#00f" stroke-width="4.5"/>
<rect x="670.1" y="1226.0" width="14.2" height="14.2" fill="none" stroke="#00f" stroke-width="4.5"/>
<rect x="670.1" y="1246.7" width="14.2" height="14.2" fill="none" stroke="#00f" stroke-width="4.5"/>
<rect x="670.1" y="1243.7" width="14.2" height="14.2" fill="none" stroke="#00f" stroke-width="4.5"/>
<rect x="670.1" y="1235.0" width="14.2" height="14.2" fill="none" stroke="#00f" stroke-width="4.5"/>
<rect x="670.1" y="1249.1" width="14.2" height="14.2" fill="none" stroke="#00f" stroke-width="4.5"/>
<rect x="670.1" y="1253.4" width="14.2" height="14.2" fill="none" stroke="#00f" stroke-width="4.5"/>
<rect x="672.3" y="1225.8" width="14.2" height="14.2" fill="none" stroke="#00f" stroke-width="4.5"/>
<rect x="672.3" y="1238.1" width="14.2" height="14.2" fill="none" stroke="#00f" stroke-width="4.5"/>
<rect x="672.3" y="1242.1" width="14.2" height="14.2" fill="none" stroke="#00f" stroke-width="4.5"/>
<rect x="672.3" y="1238.8" width="14.2" height="14.2" fill="none" stroke="#00f" stroke-width="4.5"/>
<rect x="672.3" y="1232.5" width="14.2" height="14.2" fill="none" stroke="#00f" stroke-width="4.5"/>
<rect x="672.3" y="1234.3" width="14.2" height="14.2" fill="none" stroke="#00f" stroke-width="4.5"/>
<rect x="672.3" y="1253.9" width="14.2" height="14.2" fill="none" stroke="#00f" stroke-width="4.5"/>
<rect x="674.5" y="1225.7" width="14.2" height="14.2" fill="none" stroke="#00f" stroke-width="4.5"/>
<rect x="674.5" y="1230.3" width="14.2" height="14.2" fill="none" stroke="#00f" stroke-width="4.5"/>
<rect x="674.5" y="1235.2" width="14.2" height="14.2" fill="none" stroke="#00f" stroke-width="4.5"/>
<rect x="674.5" y="1230.4" width="14.2" height="14.2" fill="none" stroke="#00f" stroke-width="4.5"/>
<rect x="674.5" y="1231.2" width="14.2" height="14.2" fill="none" stroke="#00f" stroke-width="4.5"/>
<rect x="674.5" y="1246.9" width="14.2" height="14.2" fill="none" stroke="#00f" stroke-width="4.5"/>
<rect x="674.5" y="1254.8" width="14.2" height="14.2" fill="none" stroke="#00f" stroke-width="4.5"/>
<rect x="676.7" y="1225.4" width="14.2" height="14.2" fill="none" stroke="#00f" stroke-width="4.5"/>
<rect x="676.7" y="1236.4" width="14.2" height="14.2" fill="none" stroke="#00f" stroke-width="4.5"/>
<rect x="676.7" y="1248.2" width="14.2" height="14.2" fill="none" stroke="#00f" stroke-width="4.5"/>
<rect x="676.7" y="1237.9" width="14.2" height="14.2" fill="none" stroke="#00f" stroke-width="4.5"/>
<rect x="676.7" y="1243.7" width="14.2" height="14.2" fill="none" stroke="#00f" stroke-width="4.5"/>
<rect x="676.7" y="1231.3" width="14.2" height="14.2" fill="none" stroke="#00f" stroke-width="4.5"/>
<rect x="676.7" y="1254.1" width="14.2" height="14.2" fill="none" stroke="#00f" stroke-width="4.5"/>
<rect x="678.9" y="1225.2" width="14.2" height="14.2" fill="none" stroke="#00f" stroke-width="4.5"/>
<rect x="678.9" y="1247.7" width="14.2" height="14.2" fill="none" stroke="#00f" stroke-width="4.5"/>
<rect x="678.9" y="1239.4" width="14.2" height="14.2" fill="none" stroke="#00f" stroke-width="4.5"/>
<rect x="678.9" y="1238.4" width="14.2" height="14.2" fill="none" stroke="#00f" stroke-width="4.5"/>
<rect x="678.9" y="1242.3" width="14.2" height="14.2" fill="none" stroke="#00f" stroke-width="4.5"/>
<rect x="678.9" y="1246.2" width="14.2" height="14.2" fill="none" stroke="#00f" stroke-width="4.5"/>
<rect x="678.9" y="1253.6" width="14.2" height="14.2" fill="none" stroke="#00f" stroke-width="4.5"/>
<rect x="681.1" y="1225.7" width="14.2" height="14.2" fill="none" stroke="#00f" stroke-width="4.5"/>
<rect x="681.1" y="1246.2" width="14.2" height="14.2" fill="none" stroke="#00f" stroke-width="4.5"/>
<rect x="681.1" y="1231.9" width="14.2" height="14.2" fill="none" stroke="#00f" stroke-width="4.5"/>
<rect x="681.1" y="1249.8" width="14.2" height="14.2" fill="none" stroke="#00f" stroke-width="4.5"/>
<rect x="681.1" y="1244.8" width="14.2" height="14.2" fill="none" stroke="#00f" stroke-width="4.5"/>
<rect x="681.1" y="1253.0" width="14.2" height="14.2" fill="none" stroke="#00f" stroke-width="4.5"/>
<rect x="683.3" y="1225.9" width="14.2" height="14.2" fill="none" stroke="#00f" stroke-width="4.5"/>
<rect x="683.3" y="1238.0" width="14.2" height="14.2" fill="none" stroke="#00f" stroke-width="4.5"/>
<rect x="683.3" y="1242.6" width="14.2" height="14.2" fill="none" stroke="#00f" stroke-width="4.5"/>
<rect x="683.3" y="1237.1" width="14.2" height="14.2" fill="none" stroke="#00f" stroke-width="4.5"/>
<rect x="683.3" y="1244.9" width="14.2" height="14.2" fill="none" stroke="#00f" stroke-width="4.5"/>
<rect x="683.3" y="1252.5" width="14.2" height="14.2" fill="none" stroke="#00f" stroke-width="4.5"/>
<rect x="685.5" y="1225.2" width="14.2" height="14.2" fill="none" stroke="#00f" stroke-width="4.5"/>
<rect x="685.5" y="1237.4" width="14.2" height="14.2" fill="none" stroke="#00f" stroke-width="4.5"/>
<rect x="685.5" y="1236.1" width="14.2" height="14.2" fill="none" stroke="#00f" stroke-width="4.5"/>
<rect x="685.5" y="1250.1" width="14.2" height="14.2" fill="none" stroke="#00f" stroke-width="4.5"/>
<rect x="685.5" y="1242.7" width="14.2" height="14.2" fill="none" stroke="#00f" stroke-width="4.5"/>
<rect x="685.5" y="1251.9" width="14.2" height="14.2" fill="none" stroke="#00f" stroke-width="4.5"/>
<rect x="687.7" y="1225.1" width="14.2" height="14.2" fill="none" stroke="#00f" stroke-width="4.5"/>
<rect x="687.7" y="1250.0" width="14.2" height="14.2" fill="none" stroke="#00f" stroke-width="4.5"/>
<rect x="687.7" y="1239.0" width="14.2" height="14.2" fill="none" stroke="#00f" stroke-width="4.5"/>
<rect x="687.7" y="1245.1" width="14.2" height="14.2" fill="none" stroke="#00f" stroke-width="4.5"/>
<rect x="687.7" y="1238.4" width="14.2" height="14.2" fill="none" stroke="#00f" stroke-width="4.5"/>
<rect x="687.7" y="1250.7" width="14.2" height="14.2" fill="none" stroke="#00f" stroke-width="4.5"/>
<rect x="689.9" y="1225.6" width="14.2" height="14.2" fill="none" stroke="#00f" stroke-width="4.5"/>
<rect x="689.9" y="1242.1" width="14.2" height="14.2" fill="none" stroke="#00f" stroke-width="4.5"/>
<rect x="689.9" y="1240.3" width="14.2" height="14.2" fill="none" stroke="#00f" stroke-width="4.5"/>
<rect x="689.9" y="1237.6" width="14.2" height="14.2" fill="none" stroke="#00f" stroke-width="4.5"/>
<rect x="689.9" y="1247.4" width="14.2" height="14.2" fill="none" stroke="#00f" stroke-width="4.5"/>
<rect x="689.9" y="1248.6" width="14.2" height="14.2" fill="none" stroke="#00f" stroke-width="4.5"/>
<rect x="692.1" y="1226.0" width="14.2" height="14.2" fill="none" stroke="#00f" stroke-width="4.5"/>
<rect x="692.1" y="1241.7" width="14.2" height="14.2" fill="none" stroke="#00f" stroke-width="4.5"/>
<rect x="692.1" y="1246.3" width="14.2" height="14.2" fill="none" stroke="#00f" stroke-width="4.5"/>
<rect x="692.1" y="1227.2" width="14.2" height="14.2" fill="none" stroke="#00f" stroke-width="4.5"/>
<rect x="692.1" y="1246.6" width="14.2" height="14.2" fill="none" stroke="#00f" stroke-width="4.5"/>
<rect x="694.3" y="1225.4" width="14.2" height="14.2" fill="none" stroke="#00f" stroke-width="4.5"/>
<rect x="694.3" y="1233.4" width="14.2" height="14.2" fill="none" stroke="#00f" stroke-width="4.5"/>
<rect x="694.3" y="1238.8" width="14.2" height="14.2" fill="none" stroke="#00f" stroke-width="4.5"/>
<rect x="694.3" y="1230.5" width="14.2" height="14.2" fill="none" stroke="#00f" stroke-width="4.5"/>
<rect x="694.3" y="1244.6" width="14.2" height="14.2" fill="none" stroke="#00f" stroke-width="4.5"/>
<rect x="696.5" y="1224.6" width="14.2" height="14.2" fill="none" stroke="#00f" stroke-width="4.5"/>
<rect x="696.5" y="1234.1" width="14.2" height="14.2" fill="none" stroke="#00f" stroke-width="4.5"/>
<rect x="696.5" y="1239.0" width="14.2" height="14.2" fill="none" stroke="#00f" stroke-width="4.5"/>
<rect x="696.5" y="1228.4" width="14.2" height="14.2" fill="none" stroke="#00f" stroke-width="4.5"/>
<rect x="696.5" y="1242.6" width="14.2" height="14.2" fill="none" stroke="#00f" stroke-width="4.5"/>
<rect x="698.7" y="1223.4" width="14.2" height="14.2" fill="none" stroke="#00f" stroke-width="4.5"/>
<rect x="698.7" y="1234.3" width="14.2" height="14.2" fill="none" stroke="#00f" stroke-width="4.5"/>
<rect x="698.7" y="1233.0" width="14.2" height="14.2" fill="none" stroke="#00f" stroke-width="4.5"/>
<rect x="698.7" y="1240.5" width="14.2" height="14.2" fill="none" stroke="#00f" stroke-width="4.5"/>
<rect x="700.9" y="1222.0" width="14.2" height="14.2" fill="none" stroke="#00f" stroke-width="4.5"/>
<rect x="700.9" y="1232.5" width="14.2" height="14.2" fill="none" stroke="#00f" stroke-width="4.5"/>
<rect x="700.9" y="1235.5" width="14.2" height="14.2" fill="none" stroke="#00f" stroke-width="4.5"/>
<rect x="700.9" y="1238.5" width="14.2" height="14.2" fill="none" stroke="#00f" stroke-width="4.5"/>
<rect x="703.1" y="1220.5" width="14.2" height="14.2" fill="none" stroke="#00f" stroke-width="4.5"/>
<rect x="703.1" y="1222.5" width="14.2" height="14.2" fill="none" stroke="#00f" stroke-width="4.5"/>
<rect x="703.1" y="1226.2" width="14.2" height="14.2" fill="none" stroke="#00f" stroke-width="4.5"/>
<rect x="703.1" y="1236.5" width="14.2" height="14.2" fill="none" stroke="#00f" stroke-width="4.5"/>
<rect x="705.3" y="1219.1" width="14.2" height="14.2" fill="none" stroke="#00f" stroke-width="4.5"/>
<rect x="705.3" y="1223.1" width="14.2" height="14.2" fill="none" stroke="#00f" stroke-width="4.5"/>
<rect x="705.3" y="1222.0" width="14.2" height="14.2" fill="none" stroke="#00f" stroke-width="4.5"/>
<rect x="705.3" y="1234.8" width="14.2" height="14.2" fill="none" stroke="#00f" stroke-width="4.5"/>
<rect x="707.5" y="1217.6" width="14.2" height="14.2" fill="none" stroke="#00f" stroke-width="4.5"/>
<rect x="707.5" y="1221.7" width="14.2" height="14.2" fill="none" stroke="#00f" stroke-width="4.5"/>
<rect x="707.5" y="1225.5" width="14.2" height="14.2" fill="none" stroke="#00f" stroke-width="4.5"/>
<rect x="707.5" y="1234.1" width="14.2" height="14.2" fill="none" stroke="#00f" stroke-width="4.5"/>
<rect x="709.7" y="1216.5" width="14.2" height="14.2" fill="none" stroke="#00f" stroke-width="4.5"/>
<rect x="709.7" y="1222.6" width="14.2" height="14.2" fill="none" stroke="#00f" stroke-width="4.5"/>
<rect x="709.7" y="1230.9" width="14.2" height="14.2" fill="none" stroke="#00f" stroke-width="4.5"/>
<rect x="709.7" y="1233.4" width="14.2" height="14.2" fill="none" stroke="#00f" stroke-width="4.5"/>
<rect x="711.9" y="1215.4" width="14.2" height="14.2" fill="none" stroke="#00f" stroke-width="4.5"/>
<rect x="711.9" y="1228.9" width="14.2" height="14.2" fill="none" stroke="#00f" stroke-width="4.5"/>
<rect x="711.9" y="1229.7" width="14.2" height="14.2" fill="none" stroke="#00f" stroke-width="4.5"/>
<rect x="711.9" y="1232.7" width="14.2" height="14.2" fill="none" stroke="#00f" stroke-width="4.5"/>
<rect x="714.1" y="1214.2" width="14.2" height="14.2" fill="none" stroke="#00f" stroke-width="4.5"/>
<rect x="714.1" y="1231.1" width="14.2" height="14.2" fill="none" stroke="#00f" stroke-width="4.5"/>
<rect x="714.1" y="1218.7" width="14.2" height="14.2" fill="none" stroke="#00f" stroke-width="4.5"/>
<rect x="714.1" y="1216.8" width="14.2" height="14.2" fill="none" stroke="#00f" stroke-width="4.5"/>
<rect x="714.1" y="1231.9" width="14.2" height="14.2" fill="none" stroke="#00f" stroke-width="4.5"/>
<rect x="716.3" y="1212.3" width="14.2" height="14.2" fill="none" stroke="#00f" stroke-width="4.5"/>
<rect x="716.3" y="1215.2" width="14.2" height="14.2" fill="none" stroke="#00f" stroke-width="4.5"/>
<rect x="716.3" y="1227.3" width="14.2" height="14.2" fill="none" stroke="#00f" stroke-width="4.5"/>
<rect x="716.3" y="1229.2" width="14.2" height="14.2" fill="none" stroke="#00f" stroke-width="4.5"/>
<rect x="716.3" y="1231.2" width="14.2" height="14.2" fill="none" stroke="#00f" stroke-width="4.5"/>
<rect x="718.5" y="1207.0" width="14.2" height="14.2" fill="none" stroke="#00f" stroke-width="4.5"/>
<rect x="718.5" y="1228.0" width="14.2" height="14.2" fill="none" stroke="#00f" stroke-width="4.5"/>
<rect x="718.5" y="1226.7" width="14.2" height="14.2" fill="none" stroke="#00f" stroke-width="4.5"/>
<rect x="718.5" y="1223.3" width="14.2" height="14.2" fill="none" stroke="#00f" stroke-width="4.5"/>
<rect x="718.5" y="1224.4" width="14.2" height="14.2" fill="none" stroke="#00f" stroke-width="4.5"/>
<rect x="718.5" y="1230.5" width="14.2" height="14.2" fill="none" stroke="#00f" stroke-width="4.5"/>
<rect x="720.7" y="1203.0" width="14.2" height="14.2" fill="none" stroke="#00f" stroke-width="4.5"/>
<rect x="720.7" y="1210.1" width="14.2" height="14.2" fill="none" stroke="#00f" stroke-width="4.5"/>
<rect x="720.7" y="1206.8" width="14.2" height="14.2" fill="none" stroke="#00f" stroke-width="4.5"/>
<rect x="720.7" y="1204.6" width="14.2" height="14.2" fill="none" stroke="#00f" stroke-width="4.5"/>
<rect x="720.7" y="1206.9" width="14.2" height="14.2" fill="none" stroke="#00f" stroke-width="4.5"/>
<rect x="720.7" y="1229.8" width="14.2" height="14.2" fill="none" stroke="#00f" stroke-width="4.5"/>
<rect x="722.9" y="1202.3" width="14.2" height="14.2" fill="none" stroke="#00f" stroke-width="4.5"/>
<rect x="722.9" y="1225.4" width="14.2" height="14.2" fill="none" stroke="#00f" stroke-width="4.5"/>
<rect x="722.9" y="1224.8" width="14.2" height="14.2" fill="none" stroke="#00f" stroke-width="4.5"/>
<rect x="722.9" y="1217.3" width="14.2" height="14.2" fill="none" stroke="#00f" stroke-width="4.5"/>
<rect x="722.9" y="1224.8" width="14.2" height="14.2" fill="none" stroke="#00f" stroke-width="4.5"/>
<rect x="722.9" y="1229.0" width="14.2" height="14.2" fill="none" stroke="#00f" stroke-width="4.5"/>
<rect x="725.1" y="1201.6" width="14.2" height="14.2" fill="none" stroke="#00f" stroke-width="4.5"/>
<rect x="725.1" y="1203.6" width="14.2" height="14.2" fill="none" stroke="#00f" stroke-width="4.5"/>
<rect x="725.1" y="1218.6" width="14.2" height="14.2" fill="none" stroke="#00f" stroke-width="4.5"/>
<rect x="725.1" y="1217.9" width="14.2" height="14.2" fill="none" stroke="#00f" stroke-width="4.5"/>
<rect x="725.1" y="1226.5" width="14.2" height="14.2" fill="none" stroke="#00f" stroke-width="4.5"/>
<rect x="725.1" y="1228.3" width="14.2" height="14.2" fill="none" stroke="#00f" stroke-width="4.5"/>
<rect x="727.3" y="1200.8" width="14.2" height="14.2" fill="none" stroke="#00f" stroke-width="4.5"/>
<rect x="727.3" y="1213.8" width="14.2" height="14.2" fill="none" stroke="#00f" stroke-width="4.5"/>
<rect x="727.3" y="1201.7" width="14.2" height="14.2" fill="none" stroke="#00f" stroke-width="4.5"/>
<rect x="727.3" y="1217.6" width="14.2" height="14.2" fill="none" stroke="#00f" stroke-width="4.5"/>
<rect x="727.3" y="1223.9" width="14.2" height="14.2" fill="none" stroke="#00f" stroke-width="4.5"/>
<rect x="727.3" y="1227.6" width="14.2" height="14.2" fill="none" stroke="#00f" stroke-width="4.5"/>
<rect x="729.5" y="1200.1" width="14.2" height="14.2" fill="none" stroke="#00f" stroke-width="4.5"/>
<rect x="729.5" y="1210.2" width="14.2" height="14.2" fill="none" stroke="#00f" stroke-width="4.5"/>
<rect x="729.5" y="1205.8" width="14.2" height="14.2" fill="none" stroke="#00f" stroke-width="4.5"/>
<rect x="729.5" y="1213.3" width="14.2" height="14.2" fill="none" stroke="#00f" stroke-width="4.5"/>
<rect x="731.7" y="1199.4" width="14.2" height="14.2" fill="none" stroke="#00f" stroke-width="4.5"/>
<rect x="731.7" y="1203.5" width="14.2" height="14.2" fill="none" stroke="#00f" stroke-width="4.5"/>
<rect x="731.7" y="1205.0" width="14.2" height="14.2" fill="none" stroke="#00f" stroke-width="4.5"/>
<rect x="731.7" y="1213.4" width="14.2" height="14.2" fill="none" stroke="#00f" stroke-width="4.5"/>
<rect x="733.9" y="1199.0" width="14.2" height="14.2" fill="none" stroke="#00f" stroke-width="4.5"/>
<rect x="733.9" y="1213.2" width="14.2" height="14.2" fill="none" stroke="#00f" stroke-width="4.5"/>
<rect x="733.9" y="1210.5" width="14.2" height="14.2" fill="none" stroke="#00f" stroke-width="4.5"/>
<rect x="733.9" y="1213.5" width="14.2" height="14.2" fill="none" stroke="#00f" stroke-width="4.5"/>
<rect x="736.1" y="1199.0" width="14.2" height="14.2" fill="none" stroke="#00f" stroke-width="4.5"/>
<rect x="736.1" y="1207.6" width="14.2" height="14.2" fill="none" stroke="#00f" stroke-width="4.5"/>
<rect x="736.1" y="1210.5" width="14.2" height="14.2" fill="none" stroke="#00f" stroke-width="4.5"/>
<rect x="736.1" y="1213.7" width="14.2" height="14.2" fill="none" stroke="#00f" stroke-width="4.5"/>
<rect x="738.3" y="1199.0" width="14.2" height="14.2" fill="none" stroke="#00f" stroke-width="4.5"/>
<rect x="738.3" y="1207.1" width="14.2" height="14.2" fill="none" stroke="#00f" stroke-width="4.5"/>
<rect x="738.3" y="1203.5" width="14.2" height="14.2" fill="none" stroke="#00f" stroke-width="4.5"/>
<rect x="738.3" y="1213.8" width="14.2" height="14.2" fill="none" stroke="#00f" stroke-width="4.5"/>
<rect x="740.5" y="1199.3" width="14.2" height="14.2" fill="none" stroke="#00f" stroke-width="4.5"/>
<rect x="740.5" y="1207.9" width="14.2" height="14.2" fill="none" stroke="#00f" stroke-width="4.5"/>
<rect x="740.5" y="1210.4" width="14.2" height="14.2" fill="none" stroke="#00f" stroke-width="4.5"/>
<rect x="740.5" y="1213.4" width="14.2" height="14.2" fill="none" stroke="#00f" stroke-width="4.5"/>
<rect x="742.7" y="1199.7" width="14.2" height="14.2" fill="none" stroke="#00f" stroke-width="4.5"/>
<rect x="742.7" y="1208.3" width="14.2" height="14.2" fill="none" stroke="#00f" stroke-width="4.5"/>
<rect x="742.7" y="1207.9" width="14.2" height="14.2" fill="none" stroke="#00f" stroke-width="4.5"/>
<rect x="742.7" y="1213.5" width="14.2" height="14.2" fill="none" stroke="#00f" stroke-width="4.5"/>
<rect x="750.9" y="1198.9" width="14.2" height="14.2" fill="none" stroke="#00f" stroke-width="4.5"/>
<rect x="755.9" y="1207.9" width="14.2" height="14.2" fill="none" stroke="#00f" stroke-width="4.5"/>
<rect x="759.4" y="1200.1" width="14.2" height="14.2" fill="none" stroke="#00f" stroke-width="4.5"/>
<rect x="763.9" y="1205.9" width="14.2" height="14.2" fill="none" stroke="#00f" stroke-width="4.5"/>
<rect x="767.1" y="1217.8" width="14.2" height="14.2" fill="none" stroke="#00f" stroke-width="4.5"/>
<rect x="770.9" y="1224.9" width="14.2" height="14.2" fill="none" stroke="#00f" stroke-width="4.5"/>
<rect x="780.0" y="1234.3" width="14.2" height="14.2" fill="none" stroke="#00f" stroke-width="4.5"/>
<rect x="774.9" y="1240.9" width="14.2" height="14.2" fill="none" stroke="#00f" stroke-width="4.5"/>
<rect x="782.4" y="1242.5" width="14.2" height="14.2" fill="none" stroke="#00f" stroke-width="4.5"/>
<rect x="787.7" y="1254.3" width="14.2" height="14.2" fill="none" stroke="#00f" stroke-width="4.5"/>
<rect x="778.9" y="1254.9" width="14.2" height="14.2" fill="none" stroke="#00f" stroke-width="4.5"/>
<rect x="784.8" y="1275.5" width="14.2" height="14.2" fill="none" stroke="#00f" stroke-width="4.5"/>
<rect x="776.9" y="1262.9" width="14.2" height="14.2" fill="none" stroke="#00f" stroke-width="4.5"/>
<rect x="792.9" y="1267.9" width="14.2" height="14.2" fill="none" stroke="#00f" stroke-width="4.5"/>
<rect x="805.4" y="1280.2" width="14.2" height="14.2" fill="none" stroke="#00f" stroke-width="4.5"/>
<rect x="808.9" y="1294.4" width="14.2" height="14.2" fill="none" stroke="#00f" stroke-width="4.5"/>
<rect x="847.9" y="1348.4" width="14.2" height="14.2" fill="none" stroke="#00f" stroke-width="4.5"/>
<rect x="850.1" y="1349.2" width="14.2" height="14.2" fill="none" stroke="#00f" stroke-width="4.5"/>
<rect x="852.3" y="1349.5" width="14.2" height="14.2" fill="none" stroke="#00f" stroke-width="4.5"/>
<rect x="854.5" y="1349.9" width="14.2" height="14.2" fill="none" stroke="#00f" stroke-width="4.5"/>
<rect x="856.7" y="1350.3" width="14.2" height="14.2" fill="none" stroke="#00f" stroke-width="4.5"/>
<rect x="858.9" y="1354.1" width="14.2" height="14.2" fill="none" stroke="#00f" stroke-width="4.5"/>
<rect x="861.1" y="1354.4" width="14.2" height="14.2" fill="none" stroke="#00f" stroke-width="4.5"/>
<rect x="863.3" y="1355.6" width="14.2" height="14.2" fill="none" stroke="#00f" stroke-width="4.5"/>
<rect x="865.5" y="1357.7" width="14.2" height="14.2" fill="none" stroke="#00f" stroke-width="4.5"/>
<rect x="867.7" y="1364.0" width="14.2" height="14.2" fill="none" stroke="#00f" stroke-width="4.5"/>
<rect x="869.9" y="1365.0" width="14.2" height="14.2" fill="none" stroke="#00f" stroke-width="4.5"/>
<rect x="872.1" y="1365.7" width="14.2" height="14.2" fill="none" stroke="#00f" stroke-width="4.5"/>
<rect x="874.3" y="1366.4" width="14.2" height="14.2" fill="none" stroke="#00f" stroke-width="4.5"/>
<rect x="876.5" y="1367.1" width="14.2" height="14.2" fill="none" stroke="#00f" stroke-width="4.5"/>
<rect x="878.7" y="1367.8" width="14.2" height="14.2" fill="none" stroke="#00f" stroke-width="4.5"/>
<rect x="880.9" y="1368.5" width="14.2" height="14.2" fill="none" stroke="#00f" stroke-width="4.5"/>
<rect x="883.1" y="1370.5" width="14.2" height="14.2" fill="none" stroke="#00f" stroke-width="4.5"/>
<rect x="885.3" y="1373.0" width="14.2" height="14.2" fill="none" stroke="#00f" stroke-width="4.5"/>
<rect x="887.5" y="1373.4" width="14.2" height="14.2" fill="none" stroke="#00f" stroke-width="4.5"/>
<rect x="889.7" y="1374.9" width="14.2" height="14.2" fill="none" stroke="#00f" stroke-width="4.5"/>
<rect x="891.9" y="1377.4" width="14.2" height="14.2" fill="none" stroke="#00f" stroke-width="4.5"/>
<rect x="891.9" y="1379.7" width="14.2" height="14.2" fill="none" stroke="#00f" stroke-width="4.5"/>
<rect x="894.1" y="1377.5" width="14.2" height="14.2" fill="none" stroke="#00f" stroke-width="4.5"/>
<rect x="894.1" y="1380.6" width="14.2" height="14.2" fill="none" stroke="#00f" stroke-width="4.5"/>
<rect x="896.3" y="1377.6" width="14.2" height="14.2" fill="none" stroke="#00f" stroke-width="4.5"/>
<rect x="896.3" y="1381.5" width="14.2" height="14.2" fill="none" stroke="#00f" stroke-width="4.5"/>
<rect x="898.5" y="1378.8" width="14.2" height="14.2" fill="none" stroke="#00f" stroke-width="4.5"/>
<rect x="898.5" y="1382.4" width="14.2" height="14.2" fill="none" stroke="#00f" stroke-width="4.5"/>
<rect x="900.7" y="1380.0" width="14.2" height="14.2" fill="none" stroke="#00f" stroke-width="4.5"/>
<rect x="900.7" y="1383.2" width="14.2" height="14.2" fill="none" stroke="#00f" stroke-width="4.5"/>
<rect x="902.9" y="1381.2" width="14.2" height="14.2" fill="none" stroke="#00f" stroke-width="4.5"/>
<rect x="902.9" y="1384.1" width="14.2" height="14.2" fill="none" stroke="#00f" stroke-width="4.5"/>
<rect x="905.1" y="1382.4" width="14.2" height="14.2" fill="none" stroke="#00f" stroke-width="4.5"/>
<rect x="905.1" y="1384.8" width="14.2" height="14.2" fill="none" stroke="#00f" stroke-width="4.5"/>
<rect x="907.3" y="1383.6" width="14.2" height="14.2" fill="none" stroke="#00f" stroke-width="4.5"/>
<rect x="907.3" y="1385.4" width="14.2" height="14.2" fill="none" stroke="#00f" stroke-width="4.5"/>
<rect x="909.5" y="1384.7" width="14.2" height="14.2" fill="none" stroke="#00f" stroke-width="4.5"/>
<rect x="909.5" y="1386.0" width="14.2" height="14.2" fill="none" stroke="#00f" stroke-width="4.5"/>
<rect x="911.7" y="1385.9" width="14.2" height="14.2" fill="none" stroke="#00f" stroke-width="4.5"/>
<rect x="911.7" y="1386.6" width="14.2" height="14.2" fill="none" stroke="#00f" stroke-width="4.5"/>
<rect x="913.9" y="1387.2" width="14.2" height="14.2" fill="none" stroke="#00f" stroke-width="4.5"/>
<rect x="913.9" y="1387.2" width="14.2" height="14.2" fill="none" stroke="#00f" stroke-width="4.5"/>
<rect x="916.1" y="1388.1" width="14.2" height="14.2" fill="none" stroke="#00f" stroke-width="4.5"/>
<rect x="918.3" y="1389.0" width="14.2" height="14.2" fill="none" stroke="#00f" stroke-width="4.5"/>
<rect x="920.5" y="1389.9" width="14.2" height="14.2" fill="none" stroke="#00f" stroke-width="4.5"/>
<rect x="922.7" y="1390.6" width="14.2" height="14.2" fill="none" stroke="#00f" stroke-width="4.5"/>
<rect x="924.9" y="1391.2" width="14.2" height="14.2" fill="none" stroke="#00f" stroke-width="4.5"/>
<rect x="927.1" y="1392.3" width="14.2" height="14.2" fill="none" stroke="#00f" stroke-width="4.5"/>
<rect x="929.3" y="1393.0" width="14.2" height="14.2" fill="none" stroke="#00f" stroke-width="4.5"/>
<rect x="929.3" y="1393.7" width="14.2" height="14.2" fill="none" stroke="#00f" stroke-width="4.5"/>
<rect x="931.5" y="1393.5" width="14.2" height="14.2" fill="none" stroke="#00f" stroke-width="4.5"/>
<rect x="931.5" y="1395.2" width="14.2" height="14.2" fill="none" stroke="#00f" stroke-width="4.5"/>
<rect x="933.7" y="1394.7" width="14.2" height="14.2" fill="none" stroke="#00f" stroke-width="4.5"/>
<rect x="933.7" y="1396.8" width="14.2" height="14.2" fill="none" stroke="#00f" stroke-width="4.5"/>
<rect x="935.9" y="1395.8" width="14.2" height="14.2" fill="none" stroke="#00f" stroke-width="4.5"/>
<rect x="935.9" y="1398.4" width="14.2" height="14.2" fill="none" stroke="#00f" stroke-width="4.5"/>
<rect x="938.1" y="1397.0" width="14.2" height="14.2" fill="none" stroke="#00f" stroke-width="4.5"/>
<rect x="938.1" y="1399.8" width="14.2" height="14.2" fill="none" stroke="#00f" stroke-width="4.5"/>
<rect x="940.3" y="1398.2" width="14.2" height="14.2" fill="none" stroke="#00f" stroke-width="4.5"/>
<rect x="940.3" y="1400.5" width="14.2" height="14.2" fill="none" stroke="#00f" stroke-width="4.5"/>
<rect x="942.5" y="1399.4" width="14.2" height="14.2" fill="none" stroke="#00f" stroke-width="4.5"/>
<rect x="942.5" y="1401.3" width="14.2" height="14.2" fill="none" stroke="#00f" stroke-width="4.5"/>
<rect x="944.7" y="1400.6" width="14.2" height="14.2" fill="none" stroke="#00f" stroke-width="4.5"/>
<rect x="944.7" y="1402.0" width="14.2" height="14.2" fill="none" stroke="#00f" stroke-width="4.5"/>
<rect x="946.9" y="1402.1" width="14.2" height="14.2" fill="none" stroke="#00f" stroke-width="4.5"/>
<rect x="946.9" y="1402.8" width="14.2" height="14.2" fill="none" stroke="#00f" stroke-width="4.5"/>
<rect x="949.1" y="1403.4" width="14.2" height="14.2" fill="none" stroke="#00f" stroke-width="4.5"/>
<rect x="951.3" y="1404.1" width="14.2" height="14.2" fill="none" stroke="#00f" stroke-width="4.5"/>
<rect x="992.9" y="1418.3" width="14.2" height="14.2" fill="none" stroke="#00f" stroke-width="4.5"/>
<rect x="995.1" y="1418.7" width="14.2" height="14.2" fill="none" stroke="#00f" stroke-width="4.5"/>
<rect x="997.3" y="1418.8" width="14.2" height="14.2" fill="none" stroke="#00f" stroke-width="4.5"/>
<rect x="997.3" y="1419.3" width="14.2" height="14.2" fill="none" stroke="#00f" stroke-width="4.5"/>
<rect x="999.5" y="1419.1" width="14.2" height="14.2" fill="none" stroke="#00f" stroke-width="4.5"/>
<rect x="999.5" y="1420.1" width="14.2" height="14.2" fill="none" stroke="#00f" stroke-width="4.5"/>
<rect x="1001.7" y="1420.5" width="14.2" height="14.2" fill="none" stroke="#00f" stroke-width="4.5"/>
<rect x="1001.7" y="1420.9" width="14.2" height="14.2" fill="none" stroke="#00f" stroke-width="4.5"/>
<rect x="1003.9" y="1421.8" width="14.2" height="14.2" fill="none" stroke="#00f" stroke-width="4.5"/>
<rect x="1006.1" y="1422.9" width="14.2" height="14.2" fill="none" stroke="#00f" stroke-width="4.5"/>
<rect x="1008.3" y="1423.9" width="14.2" height="14.2" fill="none" stroke="#00f" stroke-width="4.5"/>
<rect x="1010.5" y="1424.8" width="14.2" height="14.2" fill="none" stroke="#00f" stroke-width="4.5"/>
<rect x="1012.7" y="1425.5" width="14.2" height="14.2" fill="none" stroke="#00f" stroke-width="4.5"/>
<rect x="1012.7" y="1425.9" width="14.2" height="14.2" fill="none" stroke="#00f" stroke-width="4.5"/>
<rect x="1014.9" y="1426.0" width="14.2" height="14.2" fill="none" stroke="#00f" stroke-width="4.5"/>
<rect x="1014.9" y="1427.3" width="14.2" height="14.2" fill="none" stroke="#00f" stroke-width="4.5"/>
<rect x="1017.1" y="1426.4" width="14.2" height="14.2" fill="none" stroke="#00f" stroke-width="4.5"/>
<rect x="1017.1" y="1428.8" width="14.2" height="14.2" fill="none" stroke="#00f" stroke-width="4.5"/>
<rect x="1019.3" y="1426.9" width="14.2" height="14.2" fill="none" stroke="#00f" stroke-width="4.5"/>
<rect x="1019.3" y="1430.2" width="14.2" height="14.2" fill="none" stroke="#00f" stroke-width="4.5"/>
<rect x="1021.5" y="1427.4" width="14.2" height="14.2" fill="none" stroke="#00f" stroke-width="4.5"/>
<rect x="1021.5" y="1430.9" width="14.2" height="14.2" fill="none" stroke="#00f" stroke-width="4.5"/>
<rect x="1023.7" y="1428.0" width="14.2" height="14.2" fill="none" stroke="#00f" stroke-width="4.5"/>
<rect x="1023.7" y="1431.2" width="14.2" height="14.2" fill="none" stroke="#00f" stroke-width="4.5"/>
<rect x="1025.9" y="1428.7" width="14.2" height="14.2" fill="none" stroke="#00f" stroke-width="4.5"/>
<rect x="1025.9" y="1431.6" width="14.2" height="14.2" fill="none" stroke="#00f" stroke-width="4.5"/>
<rect x="1028.1" y="1429.4" width="14.2" height="14.2" fill="none" stroke="#00f" stroke-width="4.5"/>
<rect x="1028.1" y="1431.9" width="14.2" height="14.2" fill="none" stroke="#00f" stroke-width="4.5"/>
<rect x="1030.3" y="1430.1" width="14.2" height="14.2" fill="none" stroke="#00f" stroke-width="4.5"/>
<rect x="1030.3" y="1432.3" width="14.2" height="14.2" fill="none" stroke="#00f" stroke-width="4.5"/>
<rect x="1032.5" y="1430.8" width="14.2" height="14.2" fill="none" stroke="#00f" stroke-width="4.5"/>
<rect x="1032.5" y="1432.6" width="14.2" height="14.2" fill="none" stroke="#00f" stroke-width="4.5"/>
<rect x="1034.7" y="1431.5" width="14.2" height="14.2" fill="none" stroke="#00f" stroke-width="4.5"/>
<rect x="1034.7" y="1433.0" width="14.2" height="14.2" fill="none" stroke="#00f" stroke-width="4.5"/>
<rect x="1036.9" y="1432.2" width="14.2" height="14.2" fill="none" stroke="#00f" stroke-width="4.5"/>
<rect x="1036.9" y="1433.4" width="14.2" height="14.2" fill="none" stroke="#00f" stroke-width="4.5"/>
<rect x="1039.1" y="1432.9" width="14.2" height="14.2" fill="none" stroke="#00f" stroke-width="4.5"/>
<rect x="1039.1" y="1433.8" width="14.2" height="14.2" fill="none" stroke="#00f" stroke-width="4.5"/>
<rect x="1041.3" y="1433.4" width="14.2" height="14.2" fill="none" stroke="#00f" stroke-width="4.5"/>
<rect x="1041.3" y="1434.3" width="14.2" height="14.2" fill="none" stroke="#00f" stroke-width="4.5"/>
<rect x="1043.5" y="1433.8" width="14.2" height="14.2" fill="none" stroke="#00f" stroke-width="4.5"/>
<rect x="1043.5" y="1434.7" width="14.2" height="14.2" fill="none" stroke="#00f" stroke-width="4.5"/>
<rect x="1045.7" y="1434.3" width="14.2" height="14.2" fill="none" stroke="#00f" stroke-width="4.5"/>
<rect x="1045.7" y="1435.2" width="14.2" height="14.2" fill="none" stroke="#00f" stroke-width="4.5"/>
<rect x="1047.9" y="1434.8" width="14.2" height="14.2" fill="none" stroke="#00f" stroke-width="4.5"/>
<rect x="1047.9" y="1435.8" width="14.2" height="14.2" fill="none" stroke="#00f" stroke-width="4.5"/>
<rect x="1050.1" y="1435.3" width="14.2" height="14.2" fill="none" stroke="#00f" stroke-width="4.5"/>
<rect x="1050.1" y="1436.8" width="14.2" height="14.2" fill="none" stroke="#00f" stroke-width="4.5"/>
<rect x="1052.3" y="1435.8" width="14.2" height="14.2" fill="none" stroke="#00f" stroke-width="4.5"/>
<rect x="1052.3" y="1437.8" width="14.2" height="14.2" fill="none" stroke="#00f" stroke-width="4.5"/>
<rect x="1054.5" y="1436.2" width="14.2" height="14.2" fill="none" stroke="#00f" stroke-width="4.5"/>
<rect x="1054.5" y="1438.8" width="14.2" height="14.2" fill="none" stroke="#00f" stroke-width="4.5"/>
<rect x="1056.7" y="1436.9" width="14.2" height="14.2" fill="none" stroke="#00f" stroke-width="4.5"/>
<rect x="1056.7" y="1439.8" width="14.2" height="14.2" fill="none" stroke="#00f" stroke-width="4.5"/>
<rect x="1058.9" y="1437.6" width="14.2" height="14.2" fill="none" stroke="#00f" stroke-width="4.5"/>
<rect x="1058.9" y="1440.7" width="14.2" height="14.2" fill="none" stroke="#00f" stroke-width="4.5"/>
<rect x="1061.1" y="1438.3" width="14.2" height="14.2" fill="none" stroke="#00f" stroke-width="4.5"/>
<rect x="1061.1" y="1441.5" width="14.2" height="14.2" fill="none" stroke="#00f" stroke-width="4.5"/>
<rect x="1063.3" y="1439.1" width="14.2" height="14.2" fill="none" stroke="#00f" stroke-width="4.5"/>
<rect x="1063.3" y="1442.0" width="14.2" height="14.2" fill="none" stroke="#00f" stroke-width="4.5"/>
<rect x="1065.5" y="1439.8" width="14.2" height="14.2" fill="none" stroke="#00f" stroke-width="4.5"/>
<rect x="1065.5" y="1442.4" width="14.2" height="14.2" fill="none" stroke="#00f" stroke-width="4.5"/>
<rect x="1067.7" y="1440.5" width="14.2" height="14.2" fill="none" stroke="#00f" stroke-width="4.5"/>
<rect x="1067.7" y="1442.9" width="14.2" height="14.2" fill="none" stroke="#00f" stroke-width="4.5"/>
<rect x="1069.9" y="1441.2" width="14.2" height="14.2" fill="none" stroke="#00f" stroke-width="4.5"/>
<rect x="1069.9" y="1443.4" width="14.2" height="14.2" fill="none" stroke="#00f" stroke-width="4.5"/>
<rect x="1072.1" y="1441.9" width="14.2" height="14.2" fill="none" stroke="#00f" stroke-width="4.5"/>
<rect x="1072.1" y="1443.9" width="14.2" height="14.2" fill="none" stroke="#00f" stroke-width="4.5"/>
<rect x="1074.3" y="1442.5" width="14.2" height="14.2" fill="none" stroke="#00f" stroke-width="4.5"/>
<rect x="1074.3" y="1444.4" width="14.2" height="14.2" fill="none" stroke="#00f" stroke-width="4.5"/>
<rect x="1076.5" y="1443.1" width="14.2" height="14.2" fill="none" stroke="#00f" stroke-width="4.5"/>
<rect x="1076.5" y="1444.8" width="14.2" height="14.2" fill="none" stroke="#00f" stroke-width="4.5"/>
<rect x="1078.7" y="1443.7" width="14.2" height="14.2" fill="none" stroke="#00f" stroke-width="4.5"/>
<rect x="1078.7" y="1445.4" width="14.2" height="14.2" fill="none" stroke="#00f" stroke-width="4.5"/>
<rect x="1080.9" y="1444.4" width="14.2" height="14.2" fill="none" stroke="#00f" stroke-width="4.5"/>
<rect x="1080.9" y="1446.0" width="14.2" height="14.2" fill="none" stroke="#00f" stroke-width="4.5"/>
<rect x="1083.1" y="1445.0" width="14.2" height="14.2" fill="none" stroke="#00f" stroke-width="4.5"/>
<rect x="1083.1" y="1446.6" width="14.2" height="14.2" fill="none" stroke="#00f" stroke-width="4.5"/>
<rect x="1085.3" y="1445.6" width="14.2" height="14.2" fill="none" stroke="#00f" stroke-width="4.5"/>
<rect x="1085.3" y="1447.2" width="14.2" height="14.2" fill="none" stroke="#00f" stroke-width="4.5"/>
<rect x="1087.5" y="1446.8" width="14.2" height="14.2" fill="none" stroke="#00f" stroke-width="4.5"/>
<rect x="1087.5" y="1447.8" width="14.2" height="14.2" fill="none" stroke="#00f" stroke-width="4.5"/>
<rect x="1089.7" y="1448.4" width="14.2" height="14.2" fill="none" stroke="#00f" stroke-width="4.5"/>
<rect x="1091.9" y="1449.5" width="14.2" height="14.2" fill="none" stroke="#00f" stroke-width="4.5"/>
<rect x="846.2" y="1343.5" width="14.2" height="14.2" fill="none" stroke="#00f" stroke-width="4.5"/>
<rect x="1094.8" y="1450.4" width="14.2" height="14.2" fill="none" stroke="#00f" stroke-width="4.5"/>
<rect x="992.9" y="1417.9" width="14.2" height="14.2" fill="none" stroke="#00f" stroke-width="4.5"/>
<polygon points="192.0,1682.1 204.0,1694.1 192.0,1706.1 180.0,1694.1" fill="#f00"/>
<polygon points="243.0,1665.5 255.0,1677.5 243.0,1689.5 231.0,1677.5" fill="#f00"/>
<polygon points="294.5,1638.3 306.5,1650.3 294.5,1662.3 282.5,1650.3" fill="#f00"/>
<polygon points="303.1,1634.0 315.1,1646.0 303.1,1658.0 291.1,1646.0" fill="#f00"/>
<polygon points="331.7,1631.1 343.7,1643.1 331.7,1655.1 319.7,1643.1" fill="#f00"/>
<polygon points="348.9,1625.4 360.9,1637.4 348.9,1649.4 336.9,1637.4" fill="#f00"/>
<polygon points="378.9,1608.2 390.9,1620.2 378.9,1632.2 366.9,1620.2" fill="#f00"/>
<polygon points="388.9,1604.0 400.9,1616.0 388.9,1628.0 376.9,1616.0" fill="#f00"/>
<polygon points="398.9,1598.2 410.9,1610.2 398.9,1622.2 386.9,1610.2" fill="#f00"/>
<polygon points="423.3,1585.3 435.3,1597.3 423.3,1609.3 411.3,1597.3" fill="#f00"/>
<polygon points="434.7,1581.0 446.7,1593.0 434.7,1605.0 422.7,1593.0" fill="#f00"/>
<polygon points="446.2,1575.3 458.2,1587.3 446.2,1599.3 434.2,1587.3" fill="#f00"/>
<polygon points="489.1,1563.9 501.1,1575.9 489.1,1587.9 477.1,1575.9" fill="#f00"/>
<polygon points="499.1,1558.2 511.1,1570.2 499.1,1582.2 487.1,1570.2" fill="#f00"/>
<polygon points="502.9,1558.3 514.9,1570.3 502.9,1582.3 490.9,1570.3" fill="#f00"/>
<polygon points="534.3,1538.3 546.3,1550.3 534.3,1562.3 522.3,1550.3" fill="#f00"/>
<polygon points="547.2,1532.5 559.2,1544.5 547.2,1556.5 535.2,1544.5" fill="#f00"/>
<polygon points="554.4,1526.8 566.4,1538.8 554.4,1550.8 542.4,1538.8" fill="#f00"/>
<polygon points="568.7,1521.1 580.7,1533.1 568.7,1545.1 556.7,1533.1" fill="#f00"/>
<polygon points="585.9,1515.4 597.9,1527.4 585.9,1539.4 573.9,1527.4" fill="#f00"/>
<polygon points="591.6,1511.1 603.6,1523.1 591.6,1535.1 579.6,1523.1" fill="#f00"/>
<polygon points="605.9,1505.3 617.9,1517.3 605.9,1529.3 593.9,1517.3" fill="#f00"/>
<polygon points="624.5,1491.0 636.5,1503.0 624.5,1515.0 612.5,1503.0" fill="#f00"/>
<polygon points="625.9,1501.0 637.9,1513.0 625.9,1525.0 613.9,1513.0" fill="#f00"/>
<polygon points="674.6,1463.8 686.6,1475.8 674.6,1487.8 662.6,1475.8" fill="#f00"/>
<polygon points="688.9,1459.6 700.9,1471.6 688.9,1483.6 676.9,1471.6" fill="#f00"/>
<polygon points="690.3,1473.9 702.3,1485.9 690.3,1497.9 678.3,1485.9" fill="#f00"/>
<polygon points="703.2,1456.7 715.2,1468.7 703.2,1480.7 691.2,1468.7" fill="#f00"/>
<polygon points="711.8,1446.7 723.8,1458.7 711.8,1470.7 699.8,1458.7" fill="#f00"/>
<polygon points="723.2,1439.5 735.2,1451.5 723.2,1463.5 711.2,1451.5" fill="#f00"/>
<polygon points="729.0,1433.8 741.0,1445.8 729.0,1457.8 717.0,1445.8" fill="#f00"/>
<polygon points="743.3,1425.2 755.3,1437.2 743.3,1449.2 731.3,1437.2" fill="#f00"/>
<polygon points="746.1,1430.9 758.1,1442.9 746.1,1454.9 734.1,1442.9" fill="#f00"/>
<polygon points="761.9,1423.8 773.9,1435.8 761.9,1447.8 749.9,1435.8" fill="#f00"/>
<polygon points="767.6,1428.0 779.6,1440.0 767.6,1452.0 755.6,1440.0" fill="#f00"/>
<polygon points="779.0,1438.1 791.0,1450.1 779.0,1462.1 767.0,1450.1" fill="#f00"/>
<polygon points="783.3,1445.2 795.3,1457.2 783.3,1469.2 771.3,1457.2" fill="#f00"/>
<polygon points="796.2,1463.8 808.2,1475.8 796.2,1487.8 784.2,1475.8" fill="#f00"/>
<polygon points="803.4,1473.9 815.4,1485.9 803.4,1497.9 791.4,1485.9" fill="#f00"/>
<polygon points="810.5,1485.3 822.5,1497.3 810.5,1509.3 798.5,1497.3" fill="#f00"/>
<polygon points="823.4,1499.6 835.4,1511.6 823.4,1523.6 811.4,1511.6" fill="#f00"/>
<polygon points="1009.2,1627.6 1021.2,1639.6 1009.2,1651.6 997.2,1639.6" fill="#f00"/>
<polygon points="1056.3,1643.8 1068.3,1655.8 1056.3,1667.8 1044.3,1655.8" fill="#f00"/>
<polygon points="1106.4,1655.5 1118.4,1667.5 1106.4,1679.5 1094.4,1667.5" fill="#f00"/>
<polygon points="1115.3,1660.0 1127.3,1672.0 1115.3,1684.0 1103.3,1672.0" fill="#f00"/>
<polygon points="855.0,1562.0 866.0,1552.0 898.0,1578.0 932.0,1600.0 965.0,1613.0 974.0,1623.0 965.0,1632.0 932.0,1615.0 898.0,1598.0 859.0,1566.0" fill="#f00" />
<polyline points="639.0,1067.4 773.3,944.3 773.3,1122.2 870.0,1167.0" fill="none" stroke="#000" stroke-width="3.1" stroke-linejoin="miter"/>
<rect x="771.10" y="943.3" width="4.4" height="179.9" fill="#000"/>
<polyline points="621.5,1285.0 805.3,1175.3 805.3,1361.0 1054.7,1443.6" fill="none" stroke="#000" stroke-width="3.1" stroke-linejoin="miter"/>
<rect x="803.10" y="1174.3" width="4.4" height="187.7" fill="#000"/>
<polyline points="603.0,1521.6 816.5,1401.4 816.5,1576.2 1115.3,1670.5" fill="none" stroke="#000" stroke-width="3.1" stroke-linejoin="miter"/>
<rect x="814.30" y="1400.4" width="4.4" height="176.8" fill="#000"/>
<polygon points="760.9,911.4 782.2,911.4 771.5,938.7" fill="#000" />
<polygon points="796.0,1143.0 814.8,1143.0 806.6,1169.5" fill="#00f" />
<polygon points="816.2,1591.5 800.5,1635.0 833.3,1635.0" fill="#f00" />
</svg>
</body></html>
